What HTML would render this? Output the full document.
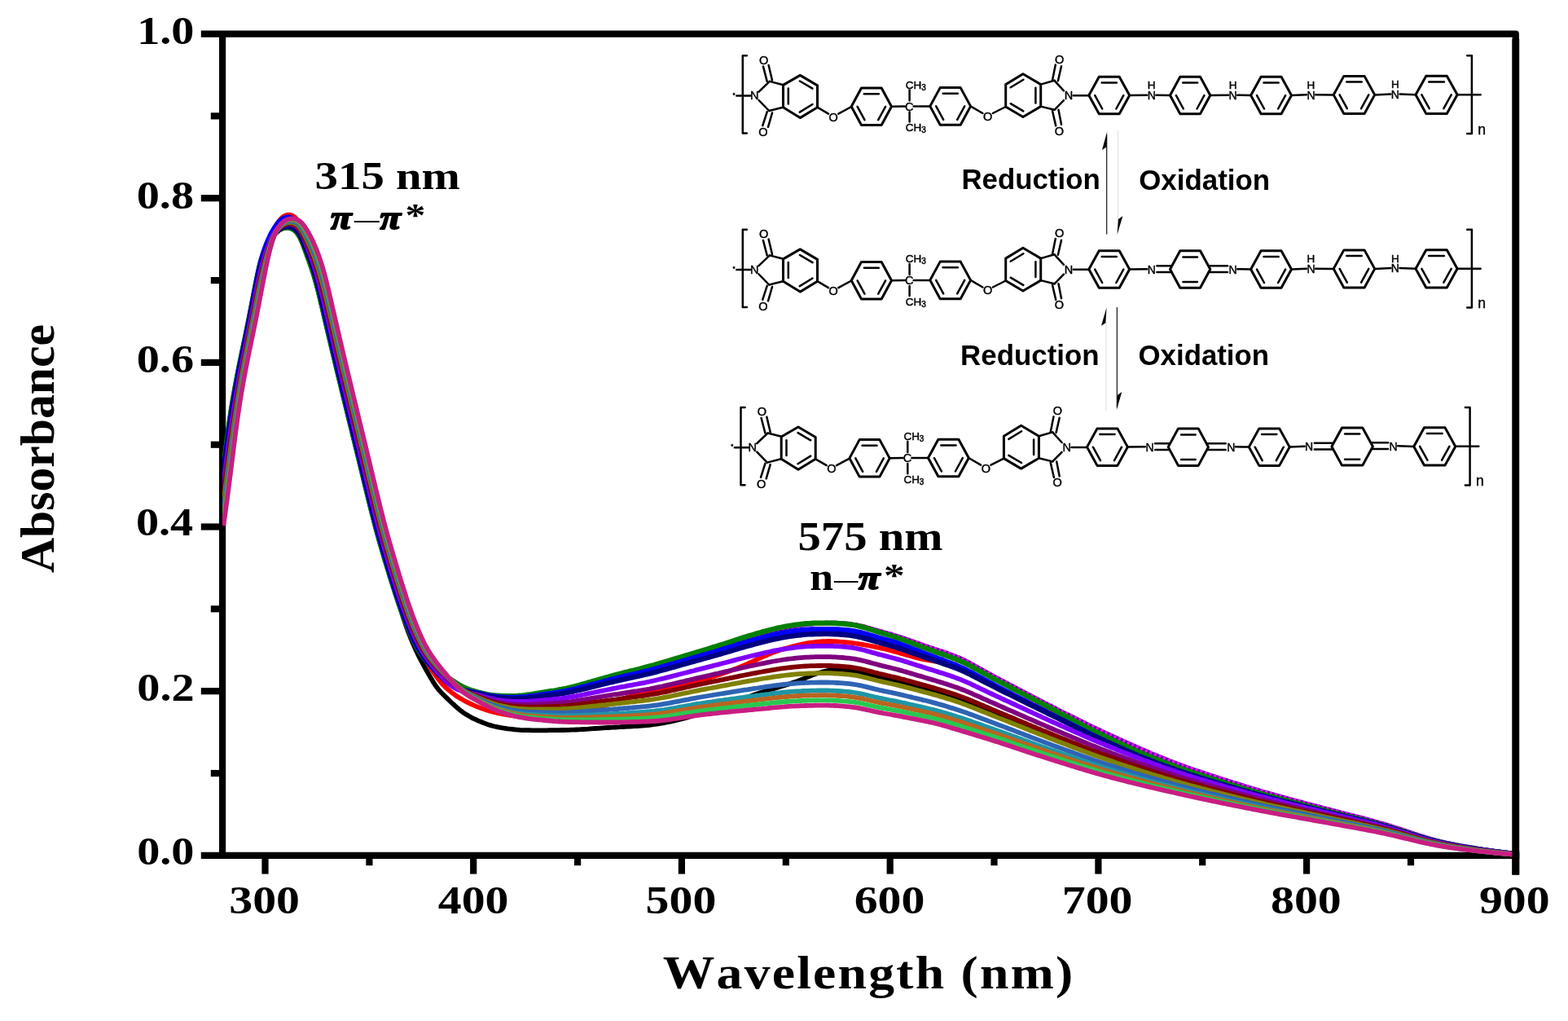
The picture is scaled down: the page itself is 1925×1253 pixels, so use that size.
<!DOCTYPE html>
<html lang="en"><head><meta charset="utf-8"><title>UV-vis absorbance spectra</title>
<style>html,body{margin:0;padding:0;background:#fff;overflow:hidden}svg{display:block}text{white-space:pre;font-kerning:none}</style>
</head><body>
<svg width="1925" height="1253" viewBox="0 0 1925 1253">
<rect width="1925" height="1253" fill="#fff"/>
<g stroke="#000" stroke-width="8.2" fill="none" stroke-linecap="butt" stroke-linejoin="round">
<path d="M273.1 1053.8999999999999 V41.6"/>
<path d="M246.8 41.6 H1860.8 V1049.8" />
<path d="M1860.8 47.6 V1073.6" stroke-width="8.8"/>
<path d="M246.8 1049.8 H1865.2"/>
<path d="M246.8 243.2 H273.1"/>
<path d="M246.8 444.9 H273.1"/>
<path d="M246.8 646.5 H273.1"/>
<path d="M246.8 848.2 H273.1"/>
<path d="M258.8 142.4 H273.1"/>
<path d="M258.8 344.1 H273.1"/>
<path d="M258.8 545.7 H273.1"/>
<path d="M258.8 747.3 H273.1"/>
<path d="M258.8 949.0 H273.1"/>
<path d="M325.5 1049.8 V1072.6"/>
<path d="M581.2 1049.8 V1072.6"/>
<path d="M836.9 1049.8 V1072.6"/>
<path d="M1092.7 1049.8 V1072.6"/>
<path d="M1348.4 1049.8 V1072.6"/>
<path d="M1604.1 1049.8 V1072.6"/>
<path d="M453.4 1049.8 V1062.2"/>
<path d="M709.1 1049.8 V1062.2"/>
<path d="M964.8 1049.8 V1062.2"/>
<path d="M1220.5 1049.8 V1062.2"/>
<path d="M1476.2 1049.8 V1062.2"/>
<path d="M1732.0 1049.8 V1062.2"/>
</g>
<clipPath id="pc"><rect x="273.1" y="30" width="1590" height="1024"/></clipPath>
<g clip-path="url(#pc)" fill="none" stroke-width="5.8" stroke-linejoin="round" stroke-linecap="butt">
<path stroke="#000000" d="M274.3,573.8 275.3,565.7 276.3,557.8 277.3,550.1 278.3,542.5 279.3,535.0 280.3,527.8 281.3,520.8 282.3,513.9 283.3,507.3 284.3,501.0 285.3,494.8 286.3,488.8 287.3,483.1 288.3,477.4 289.3,472.0 290.3,466.6 291.3,461.4 292.3,456.2 293.3,451.2 294.3,446.2 295.3,441.3 296.3,436.4 297.3,431.6 298.3,426.8 299.3,422.0 300.3,417.3 301.3,412.4 302.3,407.6 303.3,402.7 304.3,397.8 305.3,392.8 306.3,387.7 307.3,382.6 308.3,377.5 309.3,372.4 310.3,367.2 311.3,362.1 312.3,357.0 313.3,351.9 314.3,347.0 315.3,342.1 316.3,337.5 317.3,333.0 318.3,328.8 319.3,324.8 320.3,321.2 321.3,317.8 322.3,314.6 323.3,311.7 324.3,309.0 325.3,306.5 326.3,304.2 327.3,302.1 328.3,300.1 329.3,298.2 330.3,296.5 331.3,294.9 332.3,293.4 333.3,292.0 334.3,290.7 335.3,289.4 336.3,288.3 337.3,287.2 338.3,286.2 339.3,285.3 340.3,284.4 341.3,283.6 342.3,282.9 343.3,282.2 344.3,281.6 345.3,281.1 346.3,280.7 347.3,280.3 348.3,280.0 349.3,279.8 350.3,279.7 351.3,279.6 352.3,279.5 353.3,279.5 354.3,279.6 355.3,279.8 356.3,280.0 357.3,280.4 358.3,280.8 359.3,281.3 360.3,281.9 361.3,282.6 362.3,283.5 363.3,284.5 364.3,285.6 365.3,286.9 366.3,288.4 367.3,290.0 368.3,291.8 369.3,293.8 370.3,296.0 371.3,298.4 372.3,300.8 373.3,303.4 374.3,306.0 375.3,308.7 376.3,311.5 377.3,314.2 378.3,317.0 379.3,319.8 380.3,322.6 381.3,325.5 382.3,328.4 383.3,331.4 384.3,334.6 385.3,337.8 386.3,341.2 387.3,344.6 388.3,348.2 389.3,352.0 390.3,355.8 391.3,359.7 392.3,363.8 393.3,367.9 394.3,372.0 395.3,376.2 396.3,380.4 397.3,384.7 398.3,389.0 399.3,393.2 400.3,397.5 401.3,401.8 402.3,406.0 403.3,410.3 404.3,414.5 405.3,418.7 406.3,422.9 407.3,427.1 408.3,431.3 409.3,435.5 410.3,439.7 411.3,443.9 412.3,448.1 413.3,452.2 414.3,456.4 415.3,460.5 416.3,464.6 417.3,468.8 418.3,472.9 419.3,477.0 420.3,481.1 421.3,485.2 422.3,489.3 423.3,493.3 424.3,497.4 425.3,501.5 426.3,505.6 427.3,509.6 428.3,513.7 429.3,517.8 430.3,521.8 431.3,525.9 432.3,529.9 433.3,534.0 434.3,538.1 435.3,542.1 436.3,546.2 437.3,550.3 438.3,554.4 439.3,558.5 440.3,562.6 441.3,566.7 442.3,570.8 443.3,574.9 444.3,579.1 445.3,583.2 446.3,587.3 447.3,591.4 448.3,595.6 449.3,599.7 450.3,603.7 451.3,607.8 452.3,611.9 453.3,615.9 454.3,620.0 455.3,624.0 456.3,627.9 457.3,631.9 458.3,635.8 459.3,639.7 460.3,643.5 461.3,647.3 462.3,651.0 463.3,654.7 464.3,658.3 465.3,661.9 466.3,665.4 467.3,668.9 468.3,672.4 469.3,675.8 470.3,679.2 471.3,682.6 472.3,685.9 473.3,689.3 474.3,692.6 475.3,695.9 476.3,699.2 477.3,702.5 478.3,705.7 479.3,708.9 480.3,712.2 481.3,715.3 482.3,718.5 483.3,721.6 484.3,724.7 485.3,727.8 486.3,730.9 487.3,733.9 488.3,736.9 489.3,740.0 490.3,743.0 491.3,746.1 492.3,749.3 493.3,752.4 494.3,755.5 495.3,758.6 496.3,761.6 497.3,764.6 498.3,767.4 499.3,770.2 500.3,773.0 501.3,775.6 502.3,778.2 503.3,780.8 504.3,783.3 505.3,785.7 506.3,788.1 507.3,790.4 508.3,792.7 509.3,794.9 510.3,797.1 511.3,799.2 512.3,801.3 513.3,803.4 514.3,805.4 515.3,807.4 516.3,809.3 517.3,811.2 518.3,813.1 519.3,815.0 520.3,816.9 521.3,818.7 522.3,820.5 523.3,822.3 524.3,824.0 525.3,825.8 526.3,827.5 527.3,829.2 528.3,831.0 529.3,832.7 530.3,834.3 531.3,836.0 532.3,837.6 533.3,839.2 534.3,840.7 535.3,842.1 536.3,843.5 537.3,844.9 538.3,846.1 539.3,847.3 540.3,848.4 541.3,849.5 542.3,850.5 543.3,851.5 544.3,852.5 545.3,853.5 546.3,854.5 547.3,855.4 548.3,856.4 549.3,857.4 550.3,858.4 551.3,859.3 552.3,860.3 553.3,861.3 554.3,862.2 555.3,863.2 556.3,864.1 557.3,865.0 558.3,865.9 559.3,866.8 560.3,867.7 563.3,870.3 566.3,872.7 569.3,874.8 572.3,876.8 575.3,878.6 578.3,880.3 581.3,881.8 584.3,883.2 587.3,884.6 590.3,885.8 593.3,887.0 596.3,888.1 599.3,889.2 602.3,890.1 605.3,891.0 608.3,891.7 611.3,892.3 614.3,892.9 617.3,893.4 620.3,893.8 623.3,894.3 626.3,894.6 629.3,895.0 632.3,895.3 635.3,895.6 638.3,895.9 641.3,896.1 644.3,896.2 647.3,896.2 650.3,896.2 653.3,896.3 656.3,896.3 659.3,896.3 662.3,896.3 665.3,896.3 668.3,896.3 671.3,896.3 674.3,896.2 677.3,896.2 680.3,896.2 683.3,896.1 686.3,896.1 689.3,896.0 692.3,896.0 695.3,895.9 698.3,895.8 701.3,895.7 704.3,895.6 707.3,895.5 710.3,895.4 713.3,895.2 716.3,895.0 719.3,894.9 722.3,894.7 725.3,894.4 728.3,894.2 731.3,894.0 734.3,893.8 737.3,893.6 740.3,893.4 743.3,893.2 746.3,893.0 749.3,892.8 752.3,892.7 755.3,892.5 758.3,892.3 761.3,892.2 764.3,892.0 767.3,891.9 770.3,891.7 773.3,891.6 776.3,891.4 779.3,891.2 782.3,891.0 785.3,890.8 788.3,890.6 791.3,890.3 794.3,890.1 797.3,889.8 800.3,889.4 803.3,889.0 806.3,888.6 809.3,888.1 812.3,887.6 815.3,887.1 818.3,886.5 821.3,885.9 824.3,885.3 827.3,884.6 830.3,884.0 833.3,883.2 836.3,882.5 839.3,881.7 842.3,880.9 845.3,880.0 848.3,879.1 851.3,878.2 854.3,877.3 857.3,876.4 860.3,875.4 863.3,874.5 866.3,873.5 869.3,872.5 872.3,871.5 875.3,870.5 878.3,869.5 881.3,868.5 884.3,867.5 887.3,866.5 890.3,865.5 893.3,864.4 896.3,863.4 899.3,862.3 902.3,861.2 905.3,860.1 908.3,859.0 911.3,857.9 914.3,856.8 917.3,855.8 920.3,854.7 923.3,853.6 926.3,852.6 929.3,851.6 932.3,850.6 935.3,849.6 938.3,848.7 941.3,847.8 944.3,846.8 947.3,845.9 950.3,845.0 953.3,844.1 956.3,843.2 959.3,842.3 962.3,841.4 965.3,840.5 968.3,839.6 971.3,838.6 974.3,837.6 977.3,836.6 980.3,835.5 983.3,834.3 986.3,833.1 989.3,831.8 992.3,830.5 995.3,829.3 998.3,828.1 1001.3,827.0 1004.3,826.0 1007.3,825.2 1010.3,824.4 1013.3,823.7 1016.3,823.2 1019.3,822.7 1022.3,822.3 1025.3,822.1 1028.3,822.0 1031.3,822.0 1034.3,822.2 1037.3,822.4 1040.3,822.7 1043.3,823.1 1046.3,823.5 1049.3,824.0 1052.3,824.5 1055.3,825.1 1058.3,825.7 1061.3,826.4 1064.3,827.1 1067.3,827.8 1070.3,828.6 1073.3,829.3 1076.3,830.0 1079.3,830.8 1082.3,831.5 1085.3,832.2 1088.3,832.9 1091.3,833.6 1094.3,834.3 1097.3,835.0 1100.3,835.7 1103.3,836.5 1106.3,837.2 1109.3,838.0 1112.3,838.8 1115.3,839.6 1118.3,840.4 1121.3,841.2 1124.3,842.0 1127.3,842.8 1130.3,843.6 1133.3,844.4 1136.3,845.2 1139.3,846.0 1142.3,846.9 1145.3,847.7 1148.3,848.6 1151.3,849.4 1154.3,850.3 1157.3,851.2 1160.3,852.2 1163.3,853.1 1166.3,854.1 1169.3,855.0 1172.3,856.0 1175.3,857.1 1178.3,858.1 1181.3,859.2 1184.3,860.3 1187.3,861.5 1190.3,862.6 1193.3,863.8 1196.3,865.0 1199.3,866.2 1202.3,867.4 1205.3,868.7 1208.3,869.9 1211.3,871.1 1214.3,872.4 1217.3,873.6 1220.3,874.8 1223.3,876.1 1226.3,877.3 1229.3,878.5 1232.3,879.7 1235.3,881.0 1238.3,882.2 1241.3,883.4 1244.3,884.6 1247.3,885.9 1250.3,887.1 1253.3,888.3 1256.3,889.6 1259.3,890.8 1262.3,892.0 1265.3,893.3 1268.3,894.5 1271.3,895.7 1274.3,896.9 1277.3,898.1 1280.3,899.4 1283.3,900.6 1286.3,901.8 1289.3,903.0 1292.3,904.2 1295.3,905.4 1298.3,906.5 1301.3,907.7 1304.3,908.9 1307.3,910.1 1310.3,911.3 1313.3,912.5 1316.3,913.6 1319.3,914.8 1322.3,916.0 1325.3,917.2 1328.3,918.3 1331.3,919.5 1334.3,920.6 1337.3,921.7 1340.3,922.9 1343.3,924.0 1346.3,925.1 1349.3,926.2 1352.3,927.3 1355.3,928.4 1358.3,929.5 1361.3,930.5 1364.3,931.6 1367.3,932.6 1370.3,933.7 1373.3,934.7 1376.3,935.8 1379.3,936.8 1382.3,937.8 1385.3,938.8 1388.3,939.8 1391.3,940.8 1394.3,941.8 1397.3,942.8 1400.3,943.8 1403.3,944.8 1406.3,945.7 1409.3,946.7 1412.3,947.7 1415.3,948.6 1418.3,949.6 1421.3,950.5 1424.3,951.4 1427.3,952.3 1430.3,953.3 1433.3,954.2 1436.3,955.1 1439.3,955.9 1442.3,956.8 1445.3,957.7 1448.3,958.6 1451.3,959.4 1454.3,960.3 1457.3,961.1 1460.3,962.0 1463.3,962.8 1466.3,963.6 1469.3,964.4 1472.3,965.3 1475.3,966.1 1478.3,966.9 1481.3,967.6 1484.3,968.4 1487.3,969.2 1490.3,970.0 1493.3,970.8 1496.3,971.6 1499.3,972.3 1502.3,973.1 1505.3,973.9 1508.3,974.6 1511.3,975.4 1514.3,976.1 1517.3,976.9 1520.3,977.6 1523.3,978.4 1526.3,979.1 1529.3,979.9 1532.3,980.6 1535.3,981.3 1538.3,982.1 1541.3,982.8 1544.3,983.5 1547.3,984.2 1550.3,984.9 1553.3,985.6 1556.3,986.3 1559.3,987.0 1562.3,987.7 1565.3,988.4 1568.3,989.0 1571.3,989.7 1574.3,990.4 1577.3,991.0 1580.3,991.7 1583.3,992.4 1586.3,993.0 1589.3,993.7 1592.3,994.3 1595.3,995.0 1598.3,995.6 1601.3,996.3 1604.3,996.9 1607.3,997.6 1610.3,998.2 1613.3,998.9 1616.3,999.5 1619.3,1000.2 1622.3,1000.8 1625.3,1001.5 1628.3,1002.1 1631.3,1002.8 1634.3,1003.4 1637.3,1004.1 1640.3,1004.7 1643.3,1005.4 1646.3,1006.0 1649.3,1006.7 1652.3,1007.3 1655.3,1007.9 1658.3,1008.6 1661.3,1009.2 1664.3,1009.9 1667.3,1010.6 1670.3,1011.2 1673.3,1011.9 1676.3,1012.6 1679.3,1013.2 1682.3,1013.9 1685.3,1014.6 1688.3,1015.3 1691.3,1016.0 1694.3,1016.8 1697.3,1017.5 1700.3,1018.3 1703.3,1019.0 1706.3,1019.8 1709.3,1020.6 1712.3,1021.4 1715.3,1022.2 1718.3,1023.0 1721.3,1023.8 1724.3,1024.7 1727.3,1025.5 1730.3,1026.3 1733.3,1027.1 1736.3,1027.9 1739.3,1028.8 1742.3,1029.5 1745.3,1030.3 1748.3,1031.1 1751.3,1031.8 1754.3,1032.6 1757.3,1033.3 1760.3,1034.0 1763.3,1034.6 1766.3,1035.3 1769.3,1035.9 1772.3,1036.5 1775.3,1037.1 1778.3,1037.6 1781.3,1038.1 1784.3,1038.7 1787.3,1039.2 1790.3,1039.7 1793.3,1040.1 1796.3,1040.6 1799.3,1041.0 1802.3,1041.5 1805.3,1041.9 1808.3,1042.3 1811.3,1042.7 1814.3,1043.2 1817.3,1043.5 1820.3,1043.9 1823.3,1044.3 1826.3,1044.7 1829.3,1045.0 1832.3,1045.4 1835.3,1045.7 1838.3,1046.1 1841.3,1046.4 1844.3,1046.7 1847.3,1047.0 1850.3,1047.4 1853.3,1047.7 1856.3,1047.9 1859.3,1048.2 1861.0,1048.4"/>
<path stroke="#ff0000" d="M274.3,598.0 275.3,590.2 276.3,582.6 277.3,575.0 278.3,567.5 279.3,560.0 280.3,552.6 281.3,545.4 282.3,538.2 283.3,531.2 284.3,524.3 285.3,517.5 286.3,510.9 287.3,504.4 288.3,498.1 289.3,491.9 290.3,485.9 291.3,479.9 292.3,474.1 293.3,468.5 294.3,463.0 295.3,457.5 296.3,452.2 297.3,447.0 298.3,441.9 299.3,436.8 300.3,431.8 301.3,426.7 302.3,421.7 303.3,416.7 304.3,411.7 305.3,406.6 306.3,401.5 307.3,396.5 308.3,391.3 309.3,386.2 310.3,381.1 311.3,375.9 312.3,370.8 313.3,365.7 314.3,360.6 315.3,355.5 316.3,350.5 317.3,345.7 318.3,340.9 319.3,336.4 320.3,331.9 321.3,327.7 322.3,323.6 323.3,319.7 324.3,315.9 325.3,312.2 326.3,308.7 327.3,305.4 328.3,302.2 329.3,299.1 330.3,296.2 331.3,293.4 332.3,290.7 333.3,288.2 334.3,285.8 335.3,283.6 336.3,281.5 337.3,279.5 338.3,277.6 339.3,275.9 340.3,274.3 341.3,272.8 342.3,271.5 343.3,270.2 344.3,269.1 345.3,268.0 346.3,267.1 347.3,266.3 348.3,265.6 349.3,265.0 350.3,264.5 351.3,264.1 352.3,263.9 353.3,263.7 354.3,263.6 355.3,263.6 356.3,263.8 357.3,264.0 358.3,264.4 359.3,264.9 360.3,265.5 361.3,266.2 362.3,267.1 363.3,268.1 364.3,269.3 365.3,270.6 366.3,272.1 367.3,273.8 368.3,275.6 369.3,277.6 370.3,279.8 371.3,282.1 372.3,284.5 373.3,287.1 374.3,289.7 375.3,292.4 376.3,295.1 377.3,297.9 378.3,300.7 379.3,303.5 380.3,306.4 381.3,309.3 382.3,312.2 383.3,315.2 384.3,318.3 385.3,321.5 386.3,324.8 387.3,328.1 388.3,331.6 389.3,335.1 390.3,338.8 391.3,342.5 392.3,346.3 393.3,350.2 394.3,354.1 395.3,358.1 396.3,362.2 397.3,366.3 398.3,370.4 399.3,374.6 400.3,378.8 401.3,383.1 402.3,387.3 403.3,391.6 404.3,395.8 405.3,400.1 406.3,404.4 407.3,408.7 408.3,413.0 409.3,417.2 410.3,421.5 411.3,425.7 412.3,430.0 413.3,434.2 414.3,438.4 415.3,442.6 416.3,446.8 417.3,451.0 418.3,455.1 419.3,459.3 420.3,463.5 421.3,467.6 422.3,471.7 423.3,475.9 424.3,480.0 425.3,484.1 426.3,488.2 427.3,492.3 428.3,496.4 429.3,500.5 430.3,504.6 431.3,508.7 432.3,512.8 433.3,516.9 434.3,521.0 435.3,525.1 436.3,529.2 437.3,533.3 438.3,537.4 439.3,541.5 440.3,545.6 441.3,549.7 442.3,553.8 443.3,558.0 444.3,562.1 445.3,566.2 446.3,570.3 447.3,574.5 448.3,578.6 449.3,582.7 450.3,586.8 451.3,590.9 452.3,595.0 453.3,599.1 454.3,603.2 455.3,607.3 456.3,611.3 457.3,615.3 458.3,619.3 459.3,623.3 460.3,627.2 461.3,631.2 462.3,635.0 463.3,638.8 464.3,642.6 465.3,646.4 466.3,650.1 467.3,653.8 468.3,657.4 469.3,661.0 470.3,664.5 471.3,668.1 472.3,671.6 473.3,675.1 474.3,678.5 475.3,682.0 476.3,685.4 477.3,688.7 478.3,692.1 479.3,695.4 480.3,698.7 481.3,702.0 482.3,705.2 483.3,708.4 484.3,711.6 485.3,714.8 486.3,718.0 487.3,721.1 488.3,724.2 489.3,727.3 490.3,730.3 491.3,733.3 492.3,736.3 493.3,739.3 494.3,742.2 495.3,745.1 496.3,748.0 497.3,750.9 498.3,753.7 499.3,756.5 500.3,759.3 501.3,762.0 502.3,764.7 503.3,767.3 504.3,770.0 505.3,772.5 506.3,775.1 507.3,777.6 508.3,780.1 509.3,782.5 510.3,784.9 511.3,787.2 512.3,789.4 513.3,791.6 514.3,793.7 515.3,795.8 516.3,797.8 517.3,799.8 518.3,801.8 519.3,803.7 520.3,805.5 521.3,807.4 522.3,809.2 523.3,810.9 524.3,812.7 525.3,814.4 526.3,816.1 527.3,817.7 528.3,819.3 529.3,820.9 530.3,822.4 531.3,823.9 532.3,825.4 533.3,826.8 534.3,828.3 535.3,829.7 536.3,831.0 537.3,832.4 538.3,833.7 539.3,835.0 540.3,836.2 541.3,837.4 542.3,838.6 543.3,839.7 544.3,840.8 545.3,841.8 546.3,842.8 547.3,843.7 548.3,844.7 549.3,845.5 550.3,846.4 551.3,847.3 552.3,848.1 553.3,848.9 554.3,849.7 555.3,850.4 556.3,851.2 557.3,851.9 558.3,852.6 559.3,853.3 560.3,854.0 563.3,856.0 566.3,857.8 569.3,859.5 572.3,861.1 575.3,862.6 578.3,864.0 581.3,865.4 584.3,866.7 587.3,867.9 590.3,869.0 593.3,870.1 596.3,871.1 599.3,872.0 602.3,872.9 605.3,873.7 608.3,874.5 611.3,875.1 614.3,875.7 617.3,876.3 620.3,876.8 623.3,877.3 626.3,877.8 629.3,878.2 632.3,878.7 635.3,879.0 638.3,879.4 641.3,879.6 644.3,879.8 647.3,879.9 650.3,880.0 653.3,880.0 656.3,880.0 659.3,879.9 662.3,879.8 665.3,879.8 668.3,879.7 671.3,879.6 674.3,879.4 677.3,879.3 680.3,879.2 683.3,879.0 686.3,878.8 689.3,878.7 692.3,878.5 695.3,878.3 698.3,878.1 701.3,877.8 704.3,877.4 707.3,877.0 710.3,876.4 713.3,875.8 716.3,875.0 719.3,874.2 722.3,873.4 725.3,872.4 728.3,871.4 731.3,870.3 734.3,869.2 737.3,868.1 740.3,866.9 743.3,865.8 746.3,864.6 749.3,863.4 752.3,862.2 755.3,861.1 758.3,859.9 761.3,858.8 764.3,857.8 767.3,856.8 770.3,855.8 773.3,854.9 776.3,854.1 779.3,853.3 782.3,852.6 785.3,852.0 788.3,851.4 791.3,850.8 794.3,850.2 797.3,849.7 800.3,849.2 803.3,848.7 806.3,848.2 809.3,847.7 812.3,847.2 815.3,846.6 818.3,846.1 821.3,845.5 824.3,844.9 827.3,844.3 830.3,843.6 833.3,842.9 836.3,842.2 839.3,841.5 842.3,840.7 845.3,839.9 848.3,839.0 851.3,838.2 854.3,837.3 857.3,836.4 860.3,835.5 863.3,834.5 866.3,833.6 869.3,832.6 872.3,831.6 875.3,830.6 878.3,829.6 881.3,828.6 884.3,827.5 887.3,826.5 890.3,825.4 893.3,824.4 896.3,823.3 899.3,822.2 902.3,821.0 905.3,819.9 908.3,818.6 911.3,817.4 914.3,816.1 917.3,814.8 920.3,813.4 923.3,812.1 926.3,810.7 929.3,809.3 932.3,807.9 935.3,806.6 938.3,805.3 941.3,804.0 944.3,802.7 947.3,801.5 950.3,800.4 953.3,799.3 956.3,798.3 959.3,797.3 962.3,796.4 965.3,795.5 968.3,794.7 971.3,793.9 974.3,793.1 977.3,792.3 980.3,791.6 983.3,790.9 986.3,790.3 989.3,789.7 992.3,789.2 995.3,788.7 998.3,788.3 1001.3,788.0 1004.3,787.7 1007.3,787.4 1010.3,787.2 1013.3,787.1 1016.3,787.0 1019.3,787.0 1022.3,787.1 1025.3,787.2 1028.3,787.3 1031.3,787.6 1034.3,787.8 1037.3,788.1 1040.3,788.4 1043.3,788.7 1046.3,789.1 1049.3,789.5 1052.3,789.9 1055.3,790.4 1058.3,790.8 1061.3,791.4 1064.3,791.9 1067.3,792.5 1070.3,793.1 1073.3,793.7 1076.3,794.3 1079.3,794.9 1082.3,795.6 1085.3,796.3 1088.3,797.0 1091.3,797.7 1094.3,798.5 1097.3,799.4 1100.3,800.2 1103.3,801.0 1106.3,801.9 1109.3,802.8 1112.3,803.6 1115.3,804.5 1118.3,805.3 1121.3,806.1 1124.3,806.9 1127.3,807.7 1130.3,808.4 1133.3,809.1 1136.3,809.7 1139.3,810.2 1142.3,810.7 1145.3,811.2 1148.3,811.6 1151.3,812.1 1154.3,812.7 1157.3,813.4 1160.3,814.3 1163.3,815.2 1166.3,816.2 1169.3,817.3 1172.3,818.4 1175.3,819.6 1178.3,820.8 1181.3,822.1 1184.3,823.4 1187.3,824.8 1190.3,826.2 1193.3,827.7 1196.3,829.1 1199.3,830.7 1202.3,832.2 1205.3,833.7 1208.3,835.2 1211.3,836.7 1214.3,838.2 1217.3,839.8 1220.3,841.3 1223.3,842.7 1226.3,844.2 1229.3,845.7 1232.3,847.2 1235.3,848.7 1238.3,850.1 1241.3,851.6 1244.3,853.1 1247.3,854.5 1250.3,856.0 1253.3,857.5 1256.3,858.9 1259.3,860.4 1262.3,861.8 1265.3,863.3 1268.3,864.8 1271.3,866.2 1274.3,867.7 1277.3,869.1 1280.3,870.6 1283.3,872.0 1286.3,873.5 1289.3,874.9 1292.3,876.3 1295.3,877.8 1298.3,879.2 1301.3,880.6 1304.3,882.1 1307.3,883.5 1310.3,884.9 1313.3,886.3 1316.3,887.8 1319.3,889.2 1322.3,890.6 1325.3,892.0 1328.3,893.4 1331.3,894.8 1334.3,896.2 1337.3,897.6 1340.3,899.0 1343.3,900.3 1346.3,901.7 1349.3,903.0 1352.3,904.3 1355.3,905.7 1358.3,907.0 1361.3,908.3 1364.3,909.6 1367.3,910.9 1370.3,912.2 1373.3,913.5 1376.3,914.8 1379.3,916.1 1382.3,917.3 1385.3,918.6 1388.3,919.9 1391.3,921.1 1394.3,922.4 1397.3,923.6 1400.3,924.8 1403.3,926.1 1406.3,927.3 1409.3,928.5 1412.3,929.7 1415.3,930.9 1418.3,932.0 1421.3,933.2 1424.3,934.4 1427.3,935.5 1430.3,936.6 1433.3,937.8 1436.3,938.9 1439.3,940.0 1442.3,941.1 1445.3,942.1 1448.3,943.2 1451.3,944.2 1454.3,945.3 1457.3,946.3 1460.3,947.3 1463.3,948.3 1466.3,949.3 1469.3,950.3 1472.3,951.3 1475.3,952.2 1478.3,953.2 1481.3,954.1 1484.3,955.1 1487.3,956.0 1490.3,956.9 1493.3,957.9 1496.3,958.8 1499.3,959.7 1502.3,960.6 1505.3,961.5 1508.3,962.4 1511.3,963.3 1514.3,964.2 1517.3,965.1 1520.3,966.0 1523.3,966.9 1526.3,967.8 1529.3,968.7 1532.3,969.6 1535.3,970.4 1538.3,971.3 1541.3,972.2 1544.3,973.0 1547.3,973.9 1550.3,974.7 1553.3,975.5 1556.3,976.4 1559.3,977.2 1562.3,978.0 1565.3,978.8 1568.3,979.6 1571.3,980.4 1574.3,981.2 1577.3,982.0 1580.3,982.7 1583.3,983.5 1586.3,984.3 1589.3,985.1 1592.3,985.8 1595.3,986.6 1598.3,987.4 1601.3,988.1 1604.3,988.9 1607.3,989.7 1610.3,990.4 1613.3,991.2 1616.3,991.9 1619.3,992.7 1622.3,993.4 1625.3,994.2 1628.3,995.0 1631.3,995.7 1634.3,996.5 1637.3,997.2 1640.3,998.0 1643.3,998.7 1646.3,999.4 1649.3,1000.2 1652.3,1000.9 1655.3,1001.7 1658.3,1002.4 1661.3,1003.2 1664.3,1003.9 1667.3,1004.7 1670.3,1005.4 1673.3,1006.2 1676.3,1007.0 1679.3,1007.7 1682.3,1008.5 1685.3,1009.3 1688.3,1010.1 1691.3,1011.0 1694.3,1011.8 1697.3,1012.6 1700.3,1013.5 1703.3,1014.4 1706.3,1015.3 1709.3,1016.2 1712.3,1017.1 1715.3,1018.0 1718.3,1018.9 1721.3,1019.9 1724.3,1020.8 1727.3,1021.7 1730.3,1022.7 1733.3,1023.6 1736.3,1024.5 1739.3,1025.5 1742.3,1026.4 1745.3,1027.3 1748.3,1028.1 1751.3,1029.0 1754.3,1029.8 1757.3,1030.6 1760.3,1031.4 1763.3,1032.2 1766.3,1032.9 1769.3,1033.6 1772.3,1034.3 1775.3,1035.0 1778.3,1035.6 1781.3,1036.2 1784.3,1036.8 1787.3,1037.4 1790.3,1037.9 1793.3,1038.5 1796.3,1039.0 1799.3,1039.5 1802.3,1040.0 1805.3,1040.5 1808.3,1041.0 1811.3,1041.5 1814.3,1041.9 1817.3,1042.4 1820.3,1042.8 1823.3,1043.3 1826.3,1043.7 1829.3,1044.1 1832.3,1044.5 1835.3,1044.9 1838.3,1045.3 1841.3,1045.7 1844.3,1046.1 1847.3,1046.5 1850.3,1046.8 1853.3,1047.2 1856.3,1047.5 1859.3,1047.8 1861.0,1048.0"/>
<path stroke="#5a00aa" d="M274.3,578.4 275.3,570.5 276.3,562.7 277.3,554.9 278.3,547.2 279.3,539.7 280.3,532.3 281.3,525.1 282.3,518.2 283.3,511.5 284.3,505.1 285.3,498.9 286.3,492.8 287.3,487.0 288.3,481.3 289.3,475.7 290.3,470.2 291.3,464.9 292.3,459.6 293.3,454.5 294.3,449.4 295.3,444.4 296.3,439.5 297.3,434.7 298.3,429.9 299.3,425.1 300.3,420.3 301.3,415.5 302.3,410.7 303.3,405.8 304.3,400.9 305.3,395.8 306.3,390.8 307.3,385.7 308.3,380.5 309.3,375.4 310.3,370.2 311.3,365.1 312.3,359.9 313.3,354.8 314.3,349.7 315.3,344.7 316.3,339.8 317.3,335.2 318.3,330.8 319.3,326.7 320.3,323.0 321.3,319.5 322.3,316.3 323.3,313.3 324.3,310.5 325.3,307.9 326.3,305.4 327.3,303.2 328.3,301.0 329.3,299.0 330.3,297.1 331.3,295.4 332.3,293.8 333.3,292.2 334.3,290.8 335.3,289.4 336.3,288.2 337.3,287.0 338.3,285.9 339.3,284.9 340.3,284.0 341.3,283.1 342.3,282.3 343.3,281.6 344.3,281.0 345.3,280.5 346.3,280.0 347.3,279.6 348.3,279.3 349.3,279.0 350.3,278.8 351.3,278.7 352.3,278.6 353.3,278.6 354.3,278.6 355.3,278.8 356.3,279.0 357.3,279.3 358.3,279.7 359.3,280.1 360.3,280.6 361.3,281.3 362.3,282.0 363.3,282.9 364.3,284.0 365.3,285.2 366.3,286.5 367.3,288.1 368.3,289.9 369.3,291.8 370.3,294.0 371.3,296.3 372.3,298.7 373.3,301.3 374.3,304.0 375.3,306.7 376.3,309.4 377.3,312.1 378.3,314.8 379.3,317.4 380.3,320.1 381.3,322.8 382.3,325.6 383.3,328.5 384.3,331.5 385.3,334.7 386.3,338.0 387.3,341.4 388.3,344.9 389.3,348.6 390.3,352.4 391.3,356.3 392.3,360.2 393.3,364.3 394.3,368.4 395.3,372.6 396.3,376.8 397.3,381.1 398.3,385.3 399.3,389.6 400.3,393.8 401.3,398.0 402.3,402.3 403.3,406.5 404.3,410.7 405.3,415.0 406.3,419.2 407.3,423.4 408.3,427.6 409.3,431.8 410.3,436.0 411.3,440.2 412.3,444.4 413.3,448.6 414.3,452.7 415.3,456.9 416.3,461.0 417.3,465.1 418.3,469.3 419.3,473.4 420.3,477.5 421.3,481.6 422.3,485.7 423.3,489.8 424.3,493.8 425.3,497.9 426.3,502.0 427.3,506.1 428.3,510.1 429.3,514.2 430.3,518.3 431.3,522.4 432.3,526.4 433.3,530.5 434.3,534.5 435.3,538.6 436.3,542.7 437.3,546.8 438.3,550.9 439.3,555.0 440.3,559.1 441.3,563.2 442.3,567.3 443.3,571.4 444.3,575.6 445.3,579.7 446.3,583.8 447.3,588.0 448.3,592.1 449.3,596.2 450.3,600.3 451.3,604.4 452.3,608.5 453.3,612.5 454.3,616.6 455.3,620.6 456.3,624.6 457.3,628.6 458.3,632.5 459.3,636.4 460.3,640.3 461.3,644.1 462.3,647.9 463.3,651.6 464.3,655.3 465.3,658.9 466.3,662.4 467.3,665.9 468.3,669.4 469.3,672.8 470.3,676.2 471.3,679.6 472.3,683.0 473.3,686.4 474.3,689.7 475.3,693.1 476.3,696.4 477.3,699.7 478.3,703.0 479.3,706.2 480.3,709.5 481.3,712.7 482.3,715.9 483.3,719.0 484.3,722.1 485.3,725.2 486.3,728.3 487.3,731.4 488.3,734.4 489.3,737.3 490.3,740.3 491.3,743.2 492.3,746.0 493.3,748.9 494.3,751.6 495.3,754.4 496.3,757.1 497.3,759.7 498.3,762.4 499.3,764.9 500.3,767.5 501.3,770.0 502.3,772.5 503.3,774.9 504.3,777.2 505.3,779.5 506.3,781.8 507.3,783.9 508.3,786.0 509.3,788.0 510.3,789.9 511.3,791.7 512.3,793.5 513.3,795.2 514.3,796.8 515.3,798.4 516.3,800.0 517.3,801.5 518.3,803.0 519.3,804.4 520.3,805.8 521.3,807.1 522.3,808.4 523.3,809.6 524.3,810.8 525.3,811.9 526.3,813.0 527.3,814.1 528.3,815.1 529.3,816.1 530.3,817.0 531.3,817.9 532.3,818.8 533.3,819.6 534.3,820.5 535.3,821.3 536.3,822.1 537.3,822.9 538.3,823.6 539.3,824.4 540.3,825.1 541.3,825.8 542.3,826.5 543.3,827.2 544.3,827.9 545.3,828.6 546.3,829.2 547.3,829.9 548.3,830.5 549.3,831.1 550.3,831.8 551.3,832.4 552.3,833.1 553.3,833.7 554.3,834.4 555.3,835.1 556.3,835.8 557.3,836.5 558.3,837.3 559.3,838.0 560.3,838.6 563.3,840.6 566.3,842.4 569.3,844.0 572.3,845.4 575.3,846.6 578.3,847.8 581.3,848.8 584.3,849.7 587.3,850.6 590.3,851.4 593.3,852.2 596.3,853.0 599.3,853.7 602.3,854.3 605.3,854.8 608.3,855.2 611.3,855.6 614.3,855.9 617.3,856.1 620.3,856.3 623.3,856.5 626.3,856.6 629.3,856.6 632.3,856.5 635.3,856.4 638.3,856.2 641.3,856.0 644.3,855.7 647.3,855.5 650.3,855.1 653.3,854.7 656.3,854.3 659.3,853.8 662.3,853.4 665.3,853.0 668.3,852.5 671.3,852.1 674.3,851.7 677.3,851.3 680.3,850.8 683.3,850.4 686.3,849.9 689.3,849.4 692.3,848.8 695.3,848.3 698.3,847.6 701.3,847.0 704.3,846.2 707.3,845.5 710.3,844.7 713.3,843.9 716.3,843.1 719.3,842.3 722.3,841.4 725.3,840.6 728.3,839.8 731.3,839.0 734.3,838.2 737.3,837.3 740.3,836.5 743.3,835.7 746.3,834.9 749.3,834.1 752.3,833.3 755.3,832.5 758.3,831.7 761.3,830.9 764.3,830.2 767.3,829.4 770.3,828.6 773.3,827.9 776.3,827.1 779.3,826.4 782.3,825.6 785.3,824.9 788.3,824.1 791.3,823.3 794.3,822.5 797.3,821.7 800.3,820.9 803.3,820.0 806.3,819.1 809.3,818.2 812.3,817.3 815.3,816.4 818.3,815.5 821.3,814.5 824.3,813.6 827.3,812.7 830.3,811.7 833.3,810.8 836.3,809.9 839.3,808.9 842.3,808.0 845.3,807.1 848.3,806.1 851.3,805.2 854.3,804.3 857.3,803.3 860.3,802.4 863.3,801.4 866.3,800.5 869.3,799.5 872.3,798.5 875.3,797.6 878.3,796.6 881.3,795.6 884.3,794.6 887.3,793.6 890.3,792.6 893.3,791.6 896.3,790.6 899.3,789.6 902.3,788.5 905.3,787.5 908.3,786.5 911.3,785.5 914.3,784.5 917.3,783.5 920.3,782.5 923.3,781.5 926.3,780.6 929.3,779.7 932.3,778.7 935.3,777.8 938.3,776.9 941.3,776.0 944.3,775.2 947.3,774.3 950.3,773.5 953.3,772.8 956.3,772.0 959.3,771.3 962.3,770.7 965.3,770.0 968.3,769.4 971.3,768.9 974.3,768.3 977.3,767.8 980.3,767.3 983.3,766.9 986.3,766.5 989.3,766.1 992.3,765.8 995.3,765.6 998.3,765.4 1001.3,765.2 1004.3,765.0 1007.3,764.9 1010.3,764.8 1013.3,764.7 1016.3,764.6 1019.3,764.6 1022.3,764.6 1025.3,764.7 1028.3,764.8 1031.3,765.0 1034.3,765.2 1037.3,765.4 1040.3,765.7 1043.3,766.0 1046.3,766.4 1049.3,766.8 1052.3,767.3 1055.3,768.0 1058.3,768.7 1061.3,769.4 1064.3,770.3 1067.3,771.1 1070.3,772.0 1073.3,772.9 1076.3,773.8 1079.3,774.6 1082.3,775.4 1085.3,776.3 1088.3,777.1 1091.3,777.9 1094.3,778.8 1097.3,779.7 1100.3,780.6 1103.3,781.5 1106.3,782.5 1109.3,783.5 1112.3,784.5 1115.3,785.5 1118.3,786.6 1121.3,787.6 1124.3,788.7 1127.3,789.8 1130.3,790.8 1133.3,791.9 1136.3,792.9 1139.3,794.0 1142.3,795.0 1145.3,796.0 1148.3,797.0 1151.3,798.0 1154.3,799.0 1157.3,799.9 1160.3,800.9 1163.3,802.0 1166.3,803.1 1169.3,804.2 1172.3,805.4 1175.3,806.6 1178.3,807.8 1181.3,809.2 1184.3,810.6 1187.3,812.2 1190.3,813.7 1193.3,815.4 1196.3,817.0 1199.3,818.7 1202.3,820.4 1205.3,822.0 1208.3,823.7 1211.3,825.3 1214.3,827.0 1217.3,828.6 1220.3,830.2 1223.3,831.9 1226.3,833.5 1229.3,835.1 1232.3,836.6 1235.3,838.2 1238.3,839.8 1241.3,841.4 1244.3,842.9 1247.3,844.5 1250.3,846.1 1253.3,847.7 1256.3,849.2 1259.3,850.8 1262.3,852.4 1265.3,853.9 1268.3,855.5 1271.3,857.0 1274.3,858.6 1277.3,860.1 1280.3,861.7 1283.3,863.3 1286.3,864.8 1289.3,866.3 1292.3,867.9 1295.3,869.4 1298.3,870.9 1301.3,872.5 1304.3,874.0 1307.3,875.5 1310.3,877.0 1313.3,878.4 1316.3,879.9 1319.3,881.4 1322.3,882.9 1325.3,884.4 1328.3,885.9 1331.3,887.4 1334.3,888.9 1337.3,890.3 1340.3,891.8 1343.3,893.2 1346.3,894.6 1349.3,896.0 1352.3,897.4 1355.3,898.8 1358.3,900.2 1361.3,901.6 1364.3,903.0 1367.3,904.3 1370.3,905.7 1373.3,907.1 1376.3,908.4 1379.3,909.8 1382.3,911.2 1385.3,912.5 1388.3,913.8 1391.3,915.2 1394.3,916.5 1397.3,917.8 1400.3,919.1 1403.3,920.4 1406.3,921.7 1409.3,923.0 1412.3,924.3 1415.3,925.6 1418.3,926.8 1421.3,928.0 1424.3,929.3 1427.3,930.5 1430.3,931.7 1433.3,932.9 1436.3,934.1 1439.3,935.2 1442.3,936.4 1445.3,937.5 1448.3,938.6 1451.3,939.7 1454.3,940.8 1457.3,941.9 1460.3,943.0 1463.3,944.0 1466.3,945.1 1469.3,946.1 1472.3,947.1 1475.3,948.1 1478.3,949.1 1481.3,950.1 1484.3,951.1 1487.3,952.0 1490.3,953.0 1493.3,954.0 1496.3,954.9 1499.3,955.9 1502.3,956.9 1505.3,957.8 1508.3,958.8 1511.3,959.7 1514.3,960.7 1517.3,961.6 1520.3,962.6 1523.3,963.5 1526.3,964.4 1529.3,965.4 1532.3,966.3 1535.3,967.2 1538.3,968.1 1541.3,969.0 1544.3,969.9 1547.3,970.8 1550.3,971.7 1553.3,972.5 1556.3,973.4 1559.3,974.3 1562.3,975.1 1565.3,975.9 1568.3,976.8 1571.3,977.6 1574.3,978.4 1577.3,979.2 1580.3,980.1 1583.3,980.9 1586.3,981.7 1589.3,982.5 1592.3,983.3 1595.3,984.1 1598.3,984.9 1601.3,985.7 1604.3,986.5 1607.3,987.3 1610.3,988.1 1613.3,988.8 1616.3,989.6 1619.3,990.4 1622.3,991.2 1625.3,992.0 1628.3,992.8 1631.3,993.6 1634.3,994.4 1637.3,995.1 1640.3,995.9 1643.3,996.7 1646.3,997.5 1649.3,998.2 1652.3,999.0 1655.3,999.8 1658.3,1000.5 1661.3,1001.3 1664.3,1002.1 1667.3,1002.9 1670.3,1003.6 1673.3,1004.4 1676.3,1005.2 1679.3,1006.0 1682.3,1006.8 1685.3,1007.6 1688.3,1008.5 1691.3,1009.3 1694.3,1010.2 1697.3,1011.0 1700.3,1011.9 1703.3,1012.8 1706.3,1013.8 1709.3,1014.7 1712.3,1015.7 1715.3,1016.6 1718.3,1017.6 1721.3,1018.6 1724.3,1019.6 1727.3,1020.6 1730.3,1021.6 1733.3,1022.6 1736.3,1023.6 1739.3,1024.6 1742.3,1025.6 1745.3,1026.5 1748.3,1027.4 1751.3,1028.3 1754.3,1029.2 1757.3,1030.1 1760.3,1030.9 1763.3,1031.7 1766.3,1032.4 1769.3,1033.1 1772.3,1033.8 1775.3,1034.5 1778.3,1035.2 1781.3,1035.8 1784.3,1036.4 1787.3,1037.0 1790.3,1037.5 1793.3,1038.1 1796.3,1038.6 1799.3,1039.2 1802.3,1039.7 1805.3,1040.2 1808.3,1040.7 1811.3,1041.2 1814.3,1041.7 1817.3,1042.1 1820.3,1042.6 1823.3,1043.0 1826.3,1043.5 1829.3,1043.9 1832.3,1044.3 1835.3,1044.8 1838.3,1045.2 1841.3,1045.6 1844.3,1046.0 1847.3,1046.3 1850.3,1046.7 1853.3,1047.1 1856.3,1047.4 1859.3,1047.8 1861.0,1048.0"/>
<path stroke="#ff00ff" stroke-dasharray="3 3" d="M274.3,578.4 275.3,570.5 276.3,562.7 277.3,554.9 278.3,547.2 279.3,539.7 280.3,532.3 281.3,525.1 282.3,518.2 283.3,511.5 284.3,505.1 285.3,498.9 286.3,492.8 287.3,487.0 288.3,481.3 289.3,475.7 290.3,470.2 291.3,464.9 292.3,459.6 293.3,454.5 294.3,449.4 295.3,444.4 296.3,439.5 297.3,434.7 298.3,429.9 299.3,425.1 300.3,420.3 301.3,415.5 302.3,410.7 303.3,405.8 304.3,400.9 305.3,395.8 306.3,390.8 307.3,385.7 308.3,380.5 309.3,375.4 310.3,370.2 311.3,365.1 312.3,359.9 313.3,354.8 314.3,349.7 315.3,344.7 316.3,339.8 317.3,335.2 318.3,330.8 319.3,326.7 320.3,323.0 321.3,319.5 322.3,316.3 323.3,313.3 324.3,310.5 325.3,307.9 326.3,305.4 327.3,303.2 328.3,301.0 329.3,299.0 330.3,297.1 331.3,295.4 332.3,293.8 333.3,292.2 334.3,290.8 335.3,289.4 336.3,288.2 337.3,287.0 338.3,285.9 339.3,284.9 340.3,284.0 341.3,283.1 342.3,282.3 343.3,281.6 344.3,281.0 345.3,280.5 346.3,280.0 347.3,279.6 348.3,279.3 349.3,279.0 350.3,278.8 351.3,278.7 352.3,278.6 353.3,278.6 354.3,278.6 355.3,278.8 356.3,279.0 357.3,279.3 358.3,279.7 359.3,280.1 360.3,280.6 361.3,281.3 362.3,282.0 363.3,282.9 364.3,284.0 365.3,285.2 366.3,286.5 367.3,288.1 368.3,289.9 369.3,291.8 370.3,294.0 371.3,296.3 372.3,298.7 373.3,301.3 374.3,304.0 375.3,306.7 376.3,309.4 377.3,312.1 378.3,314.8 379.3,317.4 380.3,320.1 381.3,322.8 382.3,325.6 383.3,328.5 384.3,331.5 385.3,334.7 386.3,338.0 387.3,341.4 388.3,344.9 389.3,348.6 390.3,352.4 391.3,356.3 392.3,360.2 393.3,364.3 394.3,368.4 395.3,372.6 396.3,376.8 397.3,381.1 398.3,385.3 399.3,389.6 400.3,393.8 401.3,398.0 402.3,402.3 403.3,406.5 404.3,410.7 405.3,415.0 406.3,419.2 407.3,423.4 408.3,427.6 409.3,431.8 410.3,436.0 411.3,440.2 412.3,444.4 413.3,448.6 414.3,452.7 415.3,456.9 416.3,461.0 417.3,465.1 418.3,469.3 419.3,473.4 420.3,477.5 421.3,481.6 422.3,485.7 423.3,489.8 424.3,493.8 425.3,497.9 426.3,502.0 427.3,506.1 428.3,510.1 429.3,514.2 430.3,518.3 431.3,522.4 432.3,526.4 433.3,530.5 434.3,534.5 435.3,538.6 436.3,542.7 437.3,546.8 438.3,550.9 439.3,555.0 440.3,559.1 441.3,563.2 442.3,567.3 443.3,571.4 444.3,575.6 445.3,579.7 446.3,583.8 447.3,588.0 448.3,592.1 449.3,596.2 450.3,600.3 451.3,604.4 452.3,608.5 453.3,612.5 454.3,616.6 455.3,620.6 456.3,624.6 457.3,628.6 458.3,632.5 459.3,636.4 460.3,640.3 461.3,644.1 462.3,647.9 463.3,651.6 464.3,655.3 465.3,658.9 466.3,662.4 467.3,665.9 468.3,669.4 469.3,672.8 470.3,676.2 471.3,679.6 472.3,683.0 473.3,686.4 474.3,689.7 475.3,693.1 476.3,696.4 477.3,699.7 478.3,703.0 479.3,706.2 480.3,709.5 481.3,712.7 482.3,715.9 483.3,719.0 484.3,722.1 485.3,725.2 486.3,728.3 487.3,731.4 488.3,734.4 489.3,737.3 490.3,740.3 491.3,743.2 492.3,746.0 493.3,748.9 494.3,751.6 495.3,754.4 496.3,757.1 497.3,759.7 498.3,762.4 499.3,764.9 500.3,767.5 501.3,770.0 502.3,772.5 503.3,774.9 504.3,777.2 505.3,779.5 506.3,781.8 507.3,783.9 508.3,786.0 509.3,788.0 510.3,789.9 511.3,791.7 512.3,793.5 513.3,795.2 514.3,796.8 515.3,798.4 516.3,800.0 517.3,801.5 518.3,803.0 519.3,804.4 520.3,805.8 521.3,807.1 522.3,808.4 523.3,809.6 524.3,810.8 525.3,811.9 526.3,813.0 527.3,814.1 528.3,815.1 529.3,816.1 530.3,817.0 531.3,817.9 532.3,818.8 533.3,819.6 534.3,820.5 535.3,821.3 536.3,822.1 537.3,822.9 538.3,823.6 539.3,824.4 540.3,825.1 541.3,825.8 542.3,826.5 543.3,827.2 544.3,827.9 545.3,828.6 546.3,829.2 547.3,829.9 548.3,830.5 549.3,831.1 550.3,831.8 551.3,832.4 552.3,833.1 553.3,833.7 554.3,834.4 555.3,835.1 556.3,835.8 557.3,836.5 558.3,837.3 559.3,838.0 560.3,838.6 563.3,840.6 566.3,842.4 569.3,844.0 572.3,845.4 575.3,846.6 578.3,847.8 581.3,848.8 584.3,849.7 587.3,850.6 590.3,851.4 593.3,852.2 596.3,853.0 599.3,853.7 602.3,854.3 605.3,854.8 608.3,855.2 611.3,855.6 614.3,855.9 617.3,856.1 620.3,856.3 623.3,856.5 626.3,856.6 629.3,856.6 632.3,856.5 635.3,856.4 638.3,856.2 641.3,856.0 644.3,855.7 647.3,855.5 650.3,855.1 653.3,854.7 656.3,854.3 659.3,853.8 662.3,853.4 665.3,853.0 668.3,852.5 671.3,852.1 674.3,851.7 677.3,851.3 680.3,850.8 683.3,850.4 686.3,849.9 689.3,849.4 692.3,848.8 695.3,848.3 698.3,847.6 701.3,847.0 704.3,846.2 707.3,845.5 710.3,844.7 713.3,843.9 716.3,843.1 719.3,842.3 722.3,841.4 725.3,840.6 728.3,839.8 731.3,839.0 734.3,838.2 737.3,837.3 740.3,836.5 743.3,835.7 746.3,834.9 749.3,834.1 752.3,833.3 755.3,832.5 758.3,831.7 761.3,830.9 764.3,830.2 767.3,829.4 770.3,828.6 773.3,827.9 776.3,827.1 779.3,826.4 782.3,825.6 785.3,824.9 788.3,824.1 791.3,823.3 794.3,822.5 797.3,821.7 800.3,820.9 803.3,820.0 806.3,819.1 809.3,818.2 812.3,817.3 815.3,816.4 818.3,815.5 821.3,814.5 824.3,813.6 827.3,812.7 830.3,811.7 833.3,810.8 836.3,809.9 839.3,808.9 842.3,808.0 845.3,807.1 848.3,806.1 851.3,805.2 854.3,804.3 857.3,803.3 860.3,802.4 863.3,801.4 866.3,800.5 869.3,799.5 872.3,798.5 875.3,797.6 878.3,796.6 881.3,795.6 884.3,794.6 887.3,793.6 890.3,792.6 893.3,791.6 896.3,790.6 899.3,789.6 902.3,788.5 905.3,787.5 908.3,786.5 911.3,785.5 914.3,784.5 917.3,783.5 920.3,782.5 923.3,781.5 926.3,780.6 929.3,779.7 932.3,778.7 935.3,777.8 938.3,776.9 941.3,776.0 944.3,775.2 947.3,774.3 950.3,773.5 953.3,772.8 956.3,772.0 959.3,771.3 962.3,770.7 965.3,770.0 968.3,769.4 971.3,768.9 974.3,768.3 977.3,767.8 980.3,767.3 983.3,766.9 986.3,766.5 989.3,766.1 992.3,765.8 995.3,765.6 998.3,765.4 1001.3,765.2 1004.3,765.0 1007.3,764.9 1010.3,764.8 1013.3,764.7 1016.3,764.6 1019.3,764.6 1022.3,764.6 1025.3,764.7 1028.3,764.8 1031.3,765.0 1034.3,765.2 1037.3,765.4 1040.3,765.7 1043.3,766.0 1046.3,766.4 1049.3,766.8 1052.3,767.3 1055.3,768.0 1058.3,768.7 1061.3,769.4 1064.3,770.3 1067.3,771.1 1070.3,772.0 1073.3,772.9 1076.3,773.8 1079.3,774.6 1082.3,775.4 1085.3,776.3 1088.3,777.1 1091.3,777.9 1094.3,778.8 1097.3,779.7 1100.3,780.6 1103.3,781.5 1106.3,782.5 1109.3,783.5 1112.3,784.5 1115.3,785.5 1118.3,786.6 1121.3,787.6 1124.3,788.7 1127.3,789.8 1130.3,790.8 1133.3,791.9 1136.3,792.9 1139.3,794.0 1142.3,795.0 1145.3,796.0 1148.3,797.0 1151.3,798.0 1154.3,799.0 1157.3,799.9 1160.3,800.9 1163.3,802.0 1166.3,803.1 1169.3,804.2 1172.3,805.4 1175.3,806.6 1178.3,807.8 1181.3,809.2 1184.3,810.6 1187.3,812.2 1190.3,813.7 1193.3,815.4 1196.3,817.0 1199.3,818.7 1202.3,820.4 1205.3,822.0 1208.3,823.7 1211.3,825.3 1214.3,827.0 1217.3,828.6 1220.3,830.2 1223.3,831.9 1226.3,833.5 1229.3,835.1 1232.3,836.6 1235.3,838.2 1238.3,839.8 1241.3,841.4 1244.3,842.9 1247.3,844.5 1250.3,846.1 1253.3,847.7 1256.3,849.2 1259.3,850.8 1262.3,852.4 1265.3,853.9 1268.3,855.5 1271.3,857.0 1274.3,858.6 1277.3,860.1 1280.3,861.7 1283.3,863.3 1286.3,864.8 1289.3,866.3 1292.3,867.9 1295.3,869.4 1298.3,870.9 1301.3,872.5 1304.3,874.0 1307.3,875.5 1310.3,877.0 1313.3,878.4 1316.3,879.9 1319.3,881.4 1322.3,882.9 1325.3,884.4 1328.3,885.9 1331.3,887.4 1334.3,888.9 1337.3,890.3 1340.3,891.8 1343.3,893.2 1346.3,894.6 1349.3,896.0 1352.3,897.4 1355.3,898.8 1358.3,900.2 1361.3,901.6 1364.3,903.0 1367.3,904.3 1370.3,905.7 1373.3,907.1 1376.3,908.4 1379.3,909.8 1382.3,911.2 1385.3,912.5 1388.3,913.8 1391.3,915.2 1394.3,916.5 1397.3,917.8 1400.3,919.1 1403.3,920.4 1406.3,921.7 1409.3,923.0 1412.3,924.3 1415.3,925.6 1418.3,926.8 1421.3,928.0 1424.3,929.3 1427.3,930.5 1430.3,931.7 1433.3,932.9 1436.3,934.1 1439.3,935.2 1442.3,936.4 1445.3,937.5 1448.3,938.6 1451.3,939.7 1454.3,940.8 1457.3,941.9 1460.3,943.0 1463.3,944.0 1466.3,945.1 1469.3,946.1 1472.3,947.1 1475.3,948.1 1478.3,949.1 1481.3,950.1 1484.3,951.1 1487.3,952.0 1490.3,953.0 1493.3,954.0 1496.3,954.9 1499.3,955.9 1502.3,956.9 1505.3,957.8 1508.3,958.8 1511.3,959.7 1514.3,960.7 1517.3,961.6 1520.3,962.6 1523.3,963.5 1526.3,964.4 1529.3,965.4 1532.3,966.3 1535.3,967.2 1538.3,968.1 1541.3,969.0 1544.3,969.9 1547.3,970.8 1550.3,971.7 1553.3,972.5 1556.3,973.4 1559.3,974.3 1562.3,975.1 1565.3,975.9 1568.3,976.8 1571.3,977.6 1574.3,978.4 1577.3,979.2 1580.3,980.1 1583.3,980.9 1586.3,981.7 1589.3,982.5 1592.3,983.3 1595.3,984.1 1598.3,984.9 1601.3,985.7 1604.3,986.5 1607.3,987.3 1610.3,988.1 1613.3,988.8 1616.3,989.6 1619.3,990.4 1622.3,991.2 1625.3,992.0 1628.3,992.8 1631.3,993.6 1634.3,994.4 1637.3,995.1 1640.3,995.9 1643.3,996.7 1646.3,997.5 1649.3,998.2 1652.3,999.0 1655.3,999.8 1658.3,1000.5 1661.3,1001.3 1664.3,1002.1 1667.3,1002.9 1670.3,1003.6 1673.3,1004.4 1676.3,1005.2 1679.3,1006.0 1682.3,1006.8 1685.3,1007.6 1688.3,1008.5 1691.3,1009.3 1694.3,1010.2 1697.3,1011.0 1700.3,1011.9 1703.3,1012.8 1706.3,1013.8 1709.3,1014.7 1712.3,1015.7 1715.3,1016.6 1718.3,1017.6 1721.3,1018.6 1724.3,1019.6 1727.3,1020.6 1730.3,1021.6 1733.3,1022.6 1736.3,1023.6 1739.3,1024.6 1742.3,1025.6 1745.3,1026.5 1748.3,1027.4 1751.3,1028.3 1754.3,1029.2 1757.3,1030.1 1760.3,1030.9 1763.3,1031.7 1766.3,1032.4 1769.3,1033.1 1772.3,1033.8 1775.3,1034.5 1778.3,1035.2 1781.3,1035.8 1784.3,1036.4 1787.3,1037.0 1790.3,1037.5 1793.3,1038.1 1796.3,1038.6 1799.3,1039.2 1802.3,1039.7 1805.3,1040.2 1808.3,1040.7 1811.3,1041.2 1814.3,1041.7 1817.3,1042.1 1820.3,1042.6 1823.3,1043.0 1826.3,1043.5 1829.3,1043.9 1832.3,1044.3 1835.3,1044.8 1838.3,1045.2 1841.3,1045.6 1844.3,1046.0 1847.3,1046.3 1850.3,1046.7 1853.3,1047.1 1856.3,1047.4 1859.3,1047.8 1861.0,1048.0"/>
<path stroke="#008000" stroke-width="6.4" d="M274.3,573.3 275.3,565.4 276.3,557.5 277.3,549.7 278.3,542.0 279.3,534.5 280.3,527.1 281.3,520.0 282.3,513.1 283.3,506.5 284.3,500.2 285.3,494.1 286.3,488.2 287.3,482.5 288.3,477.0 289.3,471.6 290.3,466.3 291.3,461.1 292.3,456.0 293.3,450.9 294.3,446.0 295.3,441.1 296.3,436.3 297.3,431.5 298.3,426.8 299.3,422.1 300.3,417.3 301.3,412.6 302.3,407.8 303.3,402.9 304.3,398.0 305.3,392.9 306.3,387.9 307.3,382.7 308.3,377.6 309.3,372.4 310.3,367.2 311.3,362.0 312.3,356.9 313.3,351.7 314.3,346.6 315.3,341.6 316.3,336.8 317.3,332.2 318.3,327.8 319.3,323.9 320.3,320.2 321.3,316.9 322.3,313.8 323.3,311.0 324.3,308.4 325.3,306.0 326.3,303.7 327.3,301.6 328.3,299.6 329.3,297.8 330.3,296.1 331.3,294.6 332.3,293.1 333.3,291.7 334.3,290.4 335.3,289.2 336.3,288.0 337.3,287.0 338.3,286.0 339.3,285.0 340.3,284.2 341.3,283.4 342.3,282.6 343.3,282.0 344.3,281.4 345.3,280.9 346.3,280.5 347.3,280.1 348.3,279.9 349.3,279.6 350.3,279.4 351.3,279.3 352.3,279.3 353.3,279.3 354.3,279.4 355.3,279.5 356.3,279.8 357.3,280.1 358.3,280.5 359.3,281.0 360.3,281.6 361.3,282.2 362.3,283.0 363.3,284.0 364.3,285.1 365.3,286.3 366.3,287.8 367.3,289.4 368.3,291.2 369.3,293.3 370.3,295.5 371.3,297.9 372.3,300.5 373.3,303.1 374.3,305.9 375.3,308.7 376.3,311.5 377.3,314.3 378.3,317.0 379.3,319.7 380.3,322.5 381.3,325.2 382.3,328.1 383.3,331.1 384.3,334.2 385.3,337.4 386.3,340.7 387.3,344.2 388.3,347.9 389.3,351.6 390.3,355.5 391.3,359.5 392.3,363.5 393.3,367.7 394.3,371.9 395.3,376.1 396.3,380.4 397.3,384.7 398.3,389.0 399.3,393.3 400.3,397.6 401.3,401.8 402.3,406.1 403.3,410.3 404.3,414.5 405.3,418.7 406.3,423.0 407.3,427.2 408.3,431.4 409.3,435.6 410.3,439.8 411.3,443.9 412.3,448.1 413.3,452.3 414.3,456.4 415.3,460.5 416.3,464.7 417.3,468.8 418.3,472.9 419.3,477.0 420.3,481.1 421.3,485.2 422.3,489.3 423.3,493.4 424.3,497.4 425.3,501.5 426.3,505.6 427.3,509.6 428.3,513.7 429.3,517.8 430.3,521.8 431.3,525.9 432.3,529.9 433.3,534.0 434.3,538.1 435.3,542.1 436.3,546.2 437.3,550.3 438.3,554.4 439.3,558.5 440.3,562.6 441.3,566.7 442.3,570.8 443.3,574.9 444.3,579.1 445.3,583.2 446.3,587.3 447.3,591.5 448.3,595.6 449.3,599.7 450.3,603.8 451.3,607.9 452.3,612.0 453.3,616.0 454.3,620.0 455.3,624.0 456.3,628.0 457.3,632.0 458.3,635.9 459.3,639.8 460.3,643.6 461.3,647.4 462.3,651.2 463.3,654.9 464.3,658.5 465.3,662.1 466.3,665.6 467.3,669.0 468.3,672.4 469.3,675.8 470.3,679.2 471.3,682.6 472.3,686.0 473.3,689.3 474.3,692.6 475.3,695.9 476.3,699.2 477.3,702.5 478.3,705.8 479.3,709.0 480.3,712.2 481.3,715.4 482.3,718.6 483.3,721.7 484.3,724.8 485.3,727.9 486.3,731.0 487.3,734.0 488.3,737.0 489.3,739.9 490.3,742.8 491.3,745.7 492.3,748.5 493.3,751.3 494.3,754.1 495.3,756.8 496.3,759.5 497.3,762.1 498.3,764.7 499.3,767.2 500.3,769.7 501.3,772.2 502.3,774.6 503.3,777.0 504.3,779.4 505.3,781.6 506.3,783.8 507.3,785.9 508.3,788.0 509.3,789.9 510.3,791.8 511.3,793.6 512.3,795.3 513.3,797.0 514.3,798.6 515.3,800.1 516.3,801.6 517.3,803.1 518.3,804.5 519.3,805.8 520.3,807.2 521.3,808.4 522.3,809.7 523.3,810.9 524.3,812.0 525.3,813.1 526.3,814.2 527.3,815.2 528.3,816.1 529.3,817.1 530.3,818.0 531.3,818.8 532.3,819.7 533.3,820.5 534.3,821.3 535.3,822.1 536.3,822.8 537.3,823.5 538.3,824.3 539.3,825.0 540.3,825.6 541.3,826.3 542.3,827.0 543.3,827.6 544.3,828.3 545.3,828.9 546.3,829.5 547.3,830.1 548.3,830.7 549.3,831.3 550.3,831.9 551.3,832.5 552.3,833.1 553.3,833.7 554.3,834.3 555.3,835.0 556.3,835.7 557.3,836.3 558.3,837.0 559.3,837.7 560.3,838.3 563.3,840.2 566.3,841.9 569.3,843.4 572.3,844.7 575.3,845.9 578.3,847.0 581.3,847.9 584.3,848.8 587.3,849.6 590.3,850.3 593.3,851.0 596.3,851.7 599.3,852.3 602.3,852.8 605.3,853.2 608.3,853.5 611.3,853.7 614.3,853.9 617.3,854.1 620.3,854.2 623.3,854.3 626.3,854.3 629.3,854.2 632.3,854.1 635.3,853.9 638.3,853.6 641.3,853.4 644.3,853.1 647.3,852.7 650.3,852.3 653.3,851.9 656.3,851.4 659.3,850.9 662.3,850.4 665.3,849.9 668.3,849.5 671.3,849.0 674.3,848.5 677.3,848.0 680.3,847.6 683.3,847.1 686.3,846.5 689.3,846.0 692.3,845.4 695.3,844.8 698.3,844.1 701.3,843.4 704.3,842.7 707.3,841.9 710.3,841.1 713.3,840.2 716.3,839.4 719.3,838.5 722.3,837.6 725.3,836.8 728.3,835.9 731.3,835.1 734.3,834.2 737.3,833.4 740.3,832.5 743.3,831.7 746.3,830.9 749.3,830.0 752.3,829.2 755.3,828.4 758.3,827.6 761.3,826.8 764.3,826.0 767.3,825.2 770.3,824.5 773.3,823.7 776.3,823.0 779.3,822.3 782.3,821.5 785.3,820.8 788.3,820.0 791.3,819.2 794.3,818.4 797.3,817.6 800.3,816.8 803.3,816.0 806.3,815.1 809.3,814.2 812.3,813.4 815.3,812.5 818.3,811.6 821.3,810.7 824.3,809.8 827.3,808.9 830.3,808.0 833.3,807.1 836.3,806.2 839.3,805.3 842.3,804.4 845.3,803.5 848.3,802.6 851.3,801.7 854.3,800.8 857.3,799.9 860.3,799.0 863.3,798.1 866.3,797.2 869.3,796.3 872.3,795.4 875.3,794.4 878.3,793.5 881.3,792.6 884.3,791.6 887.3,790.7 890.3,789.7 893.3,788.7 896.3,787.7 899.3,786.8 902.3,785.8 905.3,784.8 908.3,783.8 911.3,782.9 914.3,781.9 917.3,781.0 920.3,780.1 923.3,779.2 926.3,778.3 929.3,777.4 932.3,776.6 935.3,775.7 938.3,774.9 941.3,774.1 944.3,773.3 947.3,772.5 950.3,771.8 953.3,771.0 956.3,770.4 959.3,769.8 962.3,769.2 965.3,768.6 968.3,768.1 971.3,767.6 974.3,767.1 977.3,766.7 980.3,766.3 983.3,765.9 986.3,765.6 989.3,765.3 992.3,765.1 995.3,765.0 998.3,764.8 1001.3,764.7 1004.3,764.7 1007.3,764.6 1010.3,764.6 1013.3,764.6 1016.3,764.6 1019.3,764.6 1022.3,764.7 1025.3,764.8 1028.3,765.0 1031.3,765.2 1034.3,765.4 1037.3,765.7 1040.3,766.0 1043.3,766.3 1046.3,766.8 1049.3,767.2 1052.3,767.9 1055.3,768.6 1058.3,769.4 1061.3,770.2 1064.3,771.1 1067.3,772.1 1070.3,773.0 1073.3,774.0 1076.3,775.0 1079.3,775.9 1082.3,776.8 1085.3,777.7 1088.3,778.6 1091.3,779.5 1094.3,780.5 1097.3,781.4 1100.3,782.4 1103.3,783.4 1106.3,784.4 1109.3,785.5 1112.3,786.6 1115.3,787.7 1118.3,788.8 1121.3,790.0 1124.3,791.1 1127.3,792.2 1130.3,793.4 1133.3,794.5 1136.3,795.6 1139.3,796.7 1142.3,797.8 1145.3,798.8 1148.3,799.9 1151.3,800.9 1154.3,802.0 1157.3,803.1 1160.3,804.1 1163.3,805.2 1166.3,806.3 1169.3,807.4 1172.3,808.5 1175.3,809.7 1178.3,811.0 1181.3,812.3 1184.3,813.7 1187.3,815.2 1190.3,816.8 1193.3,818.4 1196.3,820.1 1199.3,821.7 1202.3,823.3 1205.3,825.0 1208.3,826.6 1211.3,828.2 1214.3,829.8 1217.3,831.5 1220.3,833.1 1223.3,834.7 1226.3,836.2 1229.3,837.8 1232.3,839.4 1235.3,840.9 1238.3,842.5 1241.3,844.1 1244.3,845.6 1247.3,847.2 1250.3,848.7 1253.3,850.3 1256.3,851.8 1259.3,853.4 1262.3,854.9 1265.3,856.4 1268.3,858.0 1271.3,859.5 1274.3,861.1 1277.3,862.6 1280.3,864.1 1283.3,865.7 1286.3,867.2 1289.3,868.7 1292.3,870.3 1295.3,871.9 1298.3,873.5 1301.3,875.2 1304.3,876.8 1307.3,878.4 1310.3,879.9 1313.3,881.5 1316.3,883.1 1319.3,884.7 1322.3,886.3 1325.3,887.9 1328.3,889.5 1331.3,891.0 1334.3,892.6 1337.3,894.1 1340.3,895.6 1343.3,897.1 1346.3,898.6 1349.3,900.1 1352.3,901.5 1355.3,903.0 1358.3,904.5 1361.3,905.9 1364.3,907.3 1367.3,908.8 1370.3,910.2 1373.3,911.6 1376.3,913.0 1379.3,914.4 1382.3,915.8 1385.3,917.2 1388.3,918.6 1391.3,920.0 1394.3,921.3 1397.3,922.7 1400.3,924.0 1403.3,925.2 1406.3,926.5 1409.3,927.7 1412.3,928.9 1415.3,930.2 1418.3,931.4 1421.3,932.5 1424.3,933.7 1427.3,934.9 1430.3,936.1 1433.3,937.2 1436.3,938.3 1439.3,939.5 1442.3,940.6 1445.3,941.7 1448.3,942.7 1451.3,943.8 1454.3,944.9 1457.3,945.9 1460.3,946.9 1463.3,947.9 1466.3,948.9 1469.3,949.9 1472.3,950.9 1475.3,951.9 1478.3,952.9 1481.3,953.8 1484.3,954.8 1487.3,955.7 1490.3,956.6 1493.3,957.6 1496.3,958.5 1499.3,959.4 1502.3,960.3 1505.3,961.3 1508.3,962.2 1511.3,963.1 1514.3,964.0 1517.3,964.9 1520.3,965.8 1523.3,966.8 1526.3,967.7 1529.3,968.6 1532.3,969.4 1535.3,970.3 1538.3,971.2 1541.3,972.1 1544.3,972.9 1547.3,973.8 1550.3,974.6 1553.3,975.5 1556.3,976.3 1559.3,977.1 1562.3,977.9 1565.3,978.8 1568.3,979.6 1571.3,980.4 1574.3,981.2 1577.3,981.9 1580.3,982.7 1583.3,983.5 1586.3,984.3 1589.3,985.1 1592.3,985.8 1595.3,986.6 1598.3,987.4 1601.3,988.1 1604.3,988.9 1607.3,989.7 1610.3,990.4 1613.3,991.2 1616.3,992.0 1619.3,992.7 1622.3,993.5 1625.3,994.3 1628.3,995.0 1631.3,995.8 1634.3,996.5 1637.3,997.3 1640.3,998.0 1643.3,998.8 1646.3,999.5 1649.3,1000.3 1652.3,1001.0 1655.3,1001.8 1658.3,1002.5 1661.3,1003.2 1664.3,1004.0 1667.3,1004.7 1670.3,1005.5 1673.3,1006.2 1676.3,1007.0 1679.3,1007.8 1682.3,1008.6 1685.3,1009.3 1688.3,1010.1 1691.3,1011.0 1694.3,1011.8 1697.3,1012.6 1700.3,1013.5 1703.3,1014.3 1706.3,1015.2 1709.3,1016.1 1712.3,1017.0 1715.3,1018.0 1718.3,1018.9 1721.3,1019.9 1724.3,1020.8 1727.3,1021.8 1730.3,1022.7 1733.3,1023.7 1736.3,1024.6 1739.3,1025.6 1742.3,1026.5 1745.3,1027.4 1748.3,1028.3 1751.3,1029.2 1754.3,1030.0 1757.3,1030.8 1760.3,1031.6 1763.3,1032.4 1766.3,1033.1 1769.3,1033.8 1772.3,1034.5 1775.3,1035.1 1778.3,1035.7 1781.3,1036.3 1784.3,1036.9 1787.3,1037.5 1790.3,1038.0 1793.3,1038.5 1796.3,1039.1 1799.3,1039.6 1802.3,1040.1 1805.3,1040.6 1808.3,1041.0 1811.3,1041.5 1814.3,1042.0 1817.3,1042.4 1820.3,1042.9 1823.3,1043.3 1826.3,1043.7 1829.3,1044.1 1832.3,1044.6 1835.3,1045.0 1838.3,1045.3 1841.3,1045.7 1844.3,1046.1 1847.3,1046.5 1850.3,1046.8 1853.3,1047.2 1856.3,1047.5 1859.3,1047.9 1861.0,1048.1"/>
<path stroke="#0000ff" stroke-width="6.4" d="M274.3,578.6 275.3,570.8 276.3,563.0 277.3,555.2 278.3,547.5 279.3,540.0 280.3,532.6 281.3,525.4 282.3,518.5 283.3,511.8 284.3,505.3 285.3,499.1 286.3,493.1 287.3,487.2 288.3,481.5 289.3,475.9 290.3,470.4 291.3,465.1 292.3,459.8 293.3,454.6 294.3,449.5 295.3,444.5 296.3,439.6 297.3,434.8 298.3,429.9 299.3,425.2 300.3,420.4 301.3,415.5 302.3,410.7 303.3,405.7 304.3,400.7 305.3,395.7 306.3,390.6 307.3,385.4 308.3,380.2 309.3,375.0 310.3,369.7 311.3,364.5 312.3,359.2 313.3,354.0 314.3,348.8 315.3,343.6 316.3,338.6 317.3,333.8 318.3,329.2 319.3,325.0 320.3,321.0 321.3,317.3 322.3,313.8 323.3,310.6 324.3,307.5 325.3,304.6 326.3,301.8 327.3,299.2 328.3,296.7 329.3,294.4 330.3,292.2 331.3,290.0 332.3,288.0 333.3,286.1 334.3,284.2 335.3,282.5 336.3,280.9 337.3,279.3 338.3,277.8 339.3,276.4 340.3,275.1 341.3,273.8 342.3,272.7 343.3,271.6 344.3,270.7 345.3,269.9 346.3,269.1 347.3,268.5 348.3,267.9 349.3,267.5 350.3,267.1 351.3,266.8 352.3,266.6 353.3,266.6 354.3,266.6 355.3,266.7 356.3,267.0 357.3,267.4 358.3,267.9 359.3,268.5 360.3,269.2 361.3,270.0 362.3,271.0 363.3,272.2 364.3,273.5 365.3,275.0 366.3,276.7 367.3,278.6 368.3,280.7 369.3,283.1 370.3,285.6 371.3,288.3 372.3,291.1 373.3,294.1 374.3,297.2 375.3,300.3 376.3,303.4 377.3,306.4 378.3,309.4 379.3,312.4 380.3,315.5 381.3,318.5 382.3,321.6 383.3,324.8 384.3,328.2 385.3,331.6 386.3,335.1 387.3,338.8 388.3,342.5 389.3,346.4 390.3,350.4 391.3,354.5 392.3,358.6 393.3,362.8 394.3,367.1 395.3,371.4 396.3,375.7 397.3,380.0 398.3,384.4 399.3,388.7 400.3,393.0 401.3,397.4 402.3,401.6 403.3,405.9 404.3,410.2 405.3,414.5 406.3,418.7 407.3,423.0 408.3,427.2 409.3,431.5 410.3,435.7 411.3,439.9 412.3,444.1 413.3,448.3 414.3,452.4 415.3,456.6 416.3,460.8 417.3,464.9 418.3,469.0 419.3,473.1 420.3,477.2 421.3,481.4 422.3,485.5 423.3,489.5 424.3,493.6 425.3,497.7 426.3,501.8 427.3,505.9 428.3,509.9 429.3,514.0 430.3,518.1 431.3,522.1 432.3,526.2 433.3,530.3 434.3,534.3 435.3,538.4 436.3,542.5 437.3,546.6 438.3,550.7 439.3,554.8 440.3,558.9 441.3,563.0 442.3,567.1 443.3,571.2 444.3,575.4 445.3,579.5 446.3,583.6 447.3,587.8 448.3,591.9 449.3,596.0 450.3,600.1 451.3,604.2 452.3,608.3 453.3,612.3 454.3,616.4 455.3,620.4 456.3,624.4 457.3,628.4 458.3,632.3 459.3,636.2 460.3,640.1 461.3,643.9 462.3,647.7 463.3,651.4 464.3,655.1 465.3,658.7 466.3,662.2 467.3,665.7 468.3,669.2 469.3,672.6 470.3,676.1 471.3,679.5 472.3,682.8 473.3,686.2 474.3,689.6 475.3,692.9 476.3,696.2 477.3,699.5 478.3,702.8 479.3,706.1 480.3,709.3 481.3,712.5 482.3,715.7 483.3,718.9 484.3,722.0 485.3,725.1 486.3,728.2 487.3,731.2 488.3,734.2 489.3,737.2 490.3,740.1 491.3,743.0 492.3,745.9 493.3,748.7 494.3,751.5 495.3,754.2 496.3,756.9 497.3,759.6 498.3,762.2 499.3,764.8 500.3,767.4 501.3,769.9 502.3,772.4 503.3,774.8 504.3,777.2 505.3,779.5 506.3,781.7 507.3,783.9 508.3,786.0 509.3,788.0 510.3,789.9 511.3,791.8 512.3,793.6 513.3,795.3 514.3,797.0 515.3,798.6 516.3,800.2 517.3,801.8 518.3,803.3 519.3,804.7 520.3,806.2 521.3,807.6 522.3,809.0 523.3,810.3 524.3,811.6 525.3,812.8 526.3,814.1 527.3,815.3 528.3,816.4 529.3,817.6 530.3,818.7 531.3,819.8 532.3,820.9 533.3,822.0 534.3,823.0 535.3,824.1 536.3,825.1 537.3,826.2 538.3,827.2 539.3,828.2 540.3,829.2 541.3,830.1 542.3,831.1 543.3,832.0 544.3,832.9 545.3,833.8 546.3,834.6 547.3,835.4 548.3,836.2 549.3,837.0 550.3,837.7 551.3,838.4 552.3,839.1 553.3,839.7 554.3,840.4 555.3,841.0 556.3,841.6 557.3,842.2 558.3,842.8 559.3,843.4 560.3,843.9 563.3,845.2 566.3,846.2 569.3,847.0 572.3,847.6 575.3,848.2 578.3,848.8 581.3,849.4 584.3,850.1 587.3,850.7 590.3,851.4 593.3,852.1 596.3,852.8 599.3,853.4 602.3,854.0 605.3,854.4 608.3,854.8 611.3,855.1 614.3,855.4 617.3,855.6 620.3,855.8 623.3,855.9 626.3,856.0 629.3,856.0 632.3,855.9 635.3,855.8 638.3,855.6 641.3,855.4 644.3,855.1 647.3,854.9 650.3,854.5 653.3,854.1 656.3,853.7 659.3,853.3 662.3,852.8 665.3,852.4 668.3,852.0 671.3,851.6 674.3,851.2 677.3,850.8 680.3,850.3 683.3,849.9 686.3,849.4 689.3,848.9 692.3,848.4 695.3,847.8 698.3,847.2 701.3,846.6 704.3,845.9 707.3,845.2 710.3,844.4 713.3,843.6 716.3,842.8 719.3,842.0 722.3,841.2 725.3,840.4 728.3,839.6 731.3,838.9 734.3,838.1 737.3,837.3 740.3,836.5 743.3,835.7 746.3,835.0 749.3,834.2 752.3,833.4 755.3,832.7 758.3,831.9 761.3,831.2 764.3,830.5 767.3,829.7 770.3,829.0 773.3,828.3 776.3,827.7 779.3,827.0 782.3,826.3 785.3,825.6 788.3,824.9 791.3,824.1 794.3,823.4 797.3,822.6 800.3,821.9 803.3,821.1 806.3,820.3 809.3,819.4 812.3,818.6 815.3,817.7 818.3,816.9 821.3,816.0 824.3,815.2 827.3,814.3 830.3,813.4 833.3,812.6 836.3,811.7 839.3,810.9 842.3,810.0 845.3,809.1 848.3,808.3 851.3,807.4 854.3,806.5 857.3,805.7 860.3,804.8 863.3,803.9 866.3,803.1 869.3,802.2 872.3,801.3 875.3,800.5 878.3,799.6 881.3,798.7 884.3,797.8 887.3,796.9 890.3,795.9 893.3,795.0 896.3,794.1 899.3,793.2 902.3,792.2 905.3,791.3 908.3,790.4 911.3,789.5 914.3,788.6 917.3,787.7 920.3,786.8 923.3,786.0 926.3,785.1 929.3,784.3 932.3,783.5 935.3,782.7 938.3,781.9 941.3,781.1 944.3,780.4 947.3,779.6 950.3,778.9 953.3,778.2 956.3,777.6 959.3,777.0 962.3,776.4 965.3,775.9 968.3,775.4 971.3,775.0 974.3,774.5 977.3,774.1 980.3,773.7 983.3,773.3 986.3,773.0 989.3,772.8 992.3,772.6 995.3,772.4 998.3,772.3 1001.3,772.2 1004.3,772.1 1007.3,772.1 1010.3,772.1 1013.3,772.1 1016.3,772.1 1019.3,772.1 1022.3,772.2 1025.3,772.3 1028.3,772.5 1031.3,772.7 1034.3,772.9 1037.3,773.2 1040.3,773.5 1043.3,773.8 1046.3,774.2 1049.3,774.7 1052.3,775.3 1055.3,775.9 1058.3,776.7 1061.3,777.5 1064.3,778.3 1067.3,779.2 1070.3,780.1 1073.3,781.0 1076.3,781.9 1079.3,782.8 1082.3,783.6 1085.3,784.5 1088.3,785.3 1091.3,786.2 1094.3,787.0 1097.3,787.9 1100.3,788.8 1103.3,789.9 1106.3,791.0 1109.3,792.1 1112.3,793.2 1115.3,794.3 1118.3,795.5 1121.3,796.6 1124.3,797.8 1127.3,799.0 1130.3,800.1 1133.3,801.3 1136.3,802.4 1139.3,803.5 1142.3,804.6 1145.3,805.7 1148.3,806.8 1151.3,807.9 1154.3,809.0 1157.3,810.1 1160.3,811.3 1163.3,812.4 1166.3,813.5 1169.3,814.7 1172.3,815.8 1175.3,817.1 1178.3,818.4 1181.3,819.7 1184.3,821.2 1187.3,822.7 1190.3,824.3 1193.3,825.9 1196.3,827.5 1199.3,829.1 1202.3,830.8 1205.3,832.4 1208.3,834.0 1211.3,835.6 1214.3,837.3 1217.3,838.9 1220.3,840.5 1223.3,842.1 1226.3,843.6 1229.3,845.2 1232.3,846.8 1235.3,848.3 1238.3,849.9 1241.3,851.4 1244.3,853.0 1247.3,854.5 1250.3,856.1 1253.3,857.6 1256.3,859.2 1259.3,860.7 1262.3,862.2 1265.3,863.8 1268.3,865.3 1271.3,866.9 1274.3,868.4 1277.3,869.9 1280.3,871.4 1283.3,872.9 1286.3,874.5 1289.3,876.0 1292.3,877.5 1295.3,879.0 1298.3,880.5 1301.3,882.0 1304.3,883.5 1307.3,885.1 1310.3,886.6 1313.3,888.1 1316.3,889.7 1319.3,891.2 1322.3,892.7 1325.3,894.2 1328.3,895.7 1331.3,897.2 1334.3,898.7 1337.3,900.2 1340.3,901.7 1343.3,903.1 1346.3,904.5 1349.3,906.0 1352.3,907.4 1355.3,908.8 1358.3,910.2 1361.3,911.6 1364.3,912.9 1367.3,914.3 1370.3,915.7 1373.3,917.0 1376.3,918.4 1379.3,919.7 1382.3,921.0 1385.3,922.4 1388.3,923.7 1391.3,925.0 1394.3,926.3 1397.3,927.6 1400.3,928.8 1403.3,930.0 1406.3,931.2 1409.3,932.3 1412.3,933.5 1415.3,934.6 1418.3,935.8 1421.3,936.9 1424.3,938.0 1427.3,939.1 1430.3,940.2 1433.3,941.3 1436.3,942.3 1439.3,943.4 1442.3,944.4 1445.3,945.5 1448.3,946.5 1451.3,947.5 1454.3,948.5 1457.3,949.5 1460.3,950.5 1463.3,951.4 1466.3,952.4 1469.3,953.3 1472.3,954.3 1475.3,955.2 1478.3,956.1 1481.3,957.0 1484.3,957.9 1487.3,958.8 1490.3,959.7 1493.3,960.6 1496.3,961.5 1499.3,962.4 1502.3,963.2 1505.3,964.1 1508.3,965.0 1511.3,965.9 1514.3,966.7 1517.3,967.6 1520.3,968.5 1523.3,969.4 1526.3,970.2 1529.3,971.1 1532.3,971.9 1535.3,972.8 1538.3,973.6 1541.3,974.4 1544.3,975.3 1547.3,976.1 1550.3,976.9 1553.3,977.7 1556.3,978.5 1559.3,979.3 1562.3,980.1 1565.3,980.8 1568.3,981.6 1571.3,982.4 1574.3,983.1 1577.3,983.9 1580.3,984.6 1583.3,985.4 1586.3,986.1 1589.3,986.9 1592.3,987.6 1595.3,988.4 1598.3,989.1 1601.3,989.8 1604.3,990.6 1607.3,991.3 1610.3,992.1 1613.3,992.8 1616.3,993.5 1619.3,994.3 1622.3,995.0 1625.3,995.7 1628.3,996.5 1631.3,997.2 1634.3,997.9 1637.3,998.7 1640.3,999.4 1643.3,1000.1 1646.3,1000.8 1649.3,1001.5 1652.3,1002.3 1655.3,1003.0 1658.3,1003.7 1661.3,1004.4 1664.3,1005.1 1667.3,1005.9 1670.3,1006.6 1673.3,1007.3 1676.3,1008.1 1679.3,1008.8 1682.3,1009.6 1685.3,1010.3 1688.3,1011.1 1691.3,1011.9 1694.3,1012.7 1697.3,1013.5 1700.3,1014.4 1703.3,1015.2 1706.3,1016.1 1709.3,1017.0 1712.3,1017.9 1715.3,1018.8 1718.3,1019.7 1721.3,1020.7 1724.3,1021.6 1727.3,1022.5 1730.3,1023.5 1733.3,1024.4 1736.3,1025.3 1739.3,1026.3 1742.3,1027.2 1745.3,1028.1 1748.3,1028.9 1751.3,1029.8 1754.3,1030.6 1757.3,1031.4 1760.3,1032.2 1763.3,1032.9 1766.3,1033.6 1769.3,1034.3 1772.3,1034.9 1775.3,1035.6 1778.3,1036.2 1781.3,1036.8 1784.3,1037.3 1787.3,1037.9 1790.3,1038.4 1793.3,1038.9 1796.3,1039.4 1799.3,1039.9 1802.3,1040.4 1805.3,1040.9 1808.3,1041.4 1811.3,1041.8 1814.3,1042.3 1817.3,1042.7 1820.3,1043.1 1823.3,1043.6 1826.3,1044.0 1829.3,1044.4 1832.3,1044.8 1835.3,1045.2 1838.3,1045.5 1841.3,1045.9 1844.3,1046.3 1847.3,1046.6 1850.3,1047.0 1853.3,1047.3 1856.3,1047.7 1859.3,1048.0 1861.0,1048.2"/>
<path stroke="#000080" stroke-width="6.4" d="M274.3,582.8 275.3,575.0 276.3,567.2 277.3,559.5 278.3,551.8 279.3,544.3 280.3,536.9 281.3,529.7 282.3,522.7 283.3,515.9 284.3,509.4 285.3,503.0 286.3,496.9 287.3,490.9 288.3,485.0 289.3,479.3 290.3,473.7 291.3,468.3 292.3,462.9 293.3,457.6 294.3,452.4 295.3,447.4 296.3,442.4 297.3,437.5 298.3,432.6 299.3,427.8 300.3,423.0 301.3,418.2 302.3,413.3 303.3,408.4 304.3,403.4 305.3,398.4 306.3,393.4 307.3,388.3 308.3,383.1 309.3,378.0 310.3,372.9 311.3,367.8 312.3,362.6 313.3,357.5 314.3,352.4 315.3,347.4 316.3,342.5 317.3,337.9 318.3,333.4 319.3,329.3 320.3,325.4 321.3,321.8 322.3,318.5 323.3,315.3 324.3,312.4 325.3,309.6 326.3,307.0 327.3,304.5 328.3,302.2 329.3,300.1 330.3,298.0 331.3,296.1 332.3,294.4 333.3,292.7 334.3,291.1 335.3,289.7 336.3,288.3 337.3,287.1 338.3,285.9 339.3,284.8 340.3,283.8 341.3,282.9 342.3,282.1 343.3,281.3 344.3,280.7 345.3,280.1 346.3,279.6 347.3,279.2 348.3,278.8 349.3,278.5 350.3,278.3 351.3,278.1 352.3,278.0 353.3,278.0 354.3,278.0 355.3,278.1 356.3,278.3 357.3,278.6 358.3,278.9 359.3,279.3 360.3,279.8 361.3,280.4 362.3,281.1 363.3,282.0 364.3,283.0 365.3,284.1 366.3,285.5 367.3,287.0 368.3,288.7 369.3,290.5 370.3,292.6 371.3,294.8 372.3,297.2 373.3,299.7 374.3,302.3 375.3,304.9 376.3,307.6 377.3,310.2 378.3,312.8 379.3,315.4 380.3,318.0 381.3,320.6 382.3,323.4 383.3,326.2 384.3,329.2 385.3,332.3 386.3,335.5 387.3,338.8 388.3,342.3 389.3,345.9 390.3,349.6 391.3,353.4 392.3,357.3 393.3,361.3 394.3,365.4 395.3,369.5 396.3,373.6 397.3,377.8 398.3,382.0 399.3,386.3 400.3,390.5 401.3,394.7 402.3,398.9 403.3,403.2 404.3,407.4 405.3,411.6 406.3,415.8 407.3,420.1 408.3,424.3 409.3,428.5 410.3,432.7 411.3,436.9 412.3,441.1 413.3,445.3 414.3,449.5 415.3,453.6 416.3,457.8 417.3,461.9 418.3,466.0 419.3,470.1 420.3,474.3 421.3,478.4 422.3,482.5 423.3,486.6 424.3,490.7 425.3,494.8 426.3,498.8 427.3,502.9 428.3,507.0 429.3,511.1 430.3,515.2 431.3,519.2 432.3,523.3 433.3,527.4 434.3,531.4 435.3,535.5 436.3,539.6 437.3,543.7 438.3,547.8 439.3,551.9 440.3,556.0 441.3,560.1 442.3,564.2 443.3,568.3 444.3,572.5 445.3,576.6 446.3,580.7 447.3,584.9 448.3,589.0 449.3,593.1 450.3,597.2 451.3,601.3 452.3,605.4 453.3,609.5 454.3,613.5 455.3,617.6 456.3,621.6 457.3,625.5 458.3,629.5 459.3,633.4 460.3,637.3 461.3,641.2 462.3,645.0 463.3,648.7 464.3,652.4 465.3,656.0 466.3,659.6 467.3,663.1 468.3,666.6 469.3,670.1 470.3,673.6 471.3,677.0 472.3,680.4 473.3,683.8 474.3,687.2 475.3,690.5 476.3,693.9 477.3,697.2 478.3,700.5 479.3,703.8 480.3,707.0 481.3,710.2 482.3,713.4 483.3,716.6 484.3,719.8 485.3,722.9 486.3,726.0 487.3,729.0 488.3,732.1 489.3,735.1 490.3,738.0 491.3,740.9 492.3,743.8 493.3,746.7 494.3,749.5 495.3,752.3 496.3,755.0 497.3,757.7 498.3,760.3 499.3,762.9 500.3,765.5 501.3,768.1 502.3,770.6 503.3,773.0 504.3,775.4 505.3,777.8 506.3,780.0 507.3,782.2 508.3,784.4 509.3,786.4 510.3,788.4 511.3,790.3 512.3,792.1 513.3,793.9 514.3,795.6 515.3,797.3 516.3,799.0 517.3,800.6 518.3,802.1 519.3,803.6 520.3,805.1 521.3,806.6 522.3,808.0 523.3,809.4 524.3,810.7 525.3,812.0 526.3,813.3 527.3,814.5 528.3,815.7 529.3,816.9 530.3,818.1 531.3,819.3 532.3,820.4 533.3,821.5 534.3,822.6 535.3,823.7 536.3,824.8 537.3,825.9 538.3,827.0 539.3,828.1 540.3,829.1 541.3,830.1 542.3,831.1 543.3,832.1 544.3,833.1 545.3,834.0 546.3,834.9 547.3,835.7 548.3,836.6 549.3,837.4 550.3,838.1 551.3,838.9 552.3,839.6 553.3,840.3 554.3,841.0 555.3,841.6 556.3,842.3 557.3,842.9 558.3,843.4 559.3,844.0 560.3,844.5 563.3,845.8 566.3,846.8 569.3,847.6 572.3,848.3 575.3,848.9 578.3,849.4 581.3,850.1 584.3,850.7 587.3,851.4 590.3,852.1 593.3,852.9 596.3,853.6 599.3,854.3 602.3,854.9 605.3,855.4 608.3,855.8 611.3,856.2 614.3,856.5 617.3,856.8 620.3,857.0 623.3,857.2 626.3,857.3 629.3,857.4 632.3,857.4 635.3,857.3 638.3,857.1 641.3,857.0 644.3,856.8 647.3,856.5 650.3,856.3 653.3,855.9 656.3,855.5 659.3,855.1 662.3,854.8 665.3,854.4 668.3,854.0 671.3,853.6 674.3,853.3 677.3,852.9 680.3,852.5 683.3,852.1 686.3,851.7 689.3,851.2 692.3,850.8 695.3,850.2 698.3,849.7 701.3,849.1 704.3,848.4 707.3,847.7 710.3,847.0 713.3,846.3 716.3,845.6 719.3,844.8 722.3,844.1 725.3,843.3 728.3,842.6 731.3,841.8 734.3,841.1 737.3,840.4 740.3,839.7 743.3,838.9 746.3,838.2 749.3,837.5 752.3,836.8 755.3,836.0 758.3,835.3 761.3,834.6 764.3,834.0 767.3,833.3 770.3,832.6 773.3,832.0 776.3,831.3 779.3,830.7 782.3,830.0 785.3,829.4 788.3,828.7 791.3,828.0 794.3,827.3 797.3,826.6 800.3,825.8 803.3,825.1 806.3,824.3 809.3,823.5 812.3,822.7 815.3,821.9 818.3,821.1 821.3,820.2 824.3,819.4 827.3,818.6 830.3,817.7 833.3,816.9 836.3,816.0 839.3,815.2 842.3,814.4 845.3,813.5 848.3,812.7 851.3,811.9 854.3,811.0 857.3,810.2 860.3,809.4 863.3,808.5 866.3,807.7 869.3,806.8 872.3,806.0 875.3,805.2 878.3,804.3 881.3,803.5 884.3,802.6 887.3,801.7 890.3,800.8 893.3,800.0 896.3,799.1 899.3,798.2 902.3,797.3 905.3,796.4 908.3,795.5 911.3,794.6 914.3,793.8 917.3,792.9 920.3,792.1 923.3,791.3 926.3,790.5 929.3,789.7 932.3,788.9 935.3,788.1 938.3,787.4 941.3,786.6 944.3,785.9 947.3,785.2 950.3,784.5 953.3,783.9 956.3,783.3 959.3,782.7 962.3,782.1 965.3,781.6 968.3,781.2 971.3,780.7 974.3,780.3 977.3,779.9 980.3,779.5 983.3,779.2 986.3,778.9 989.3,778.6 992.3,778.4 995.3,778.3 998.3,778.2 1001.3,778.1 1004.3,778.0 1007.3,778.0 1010.3,777.9 1013.3,777.9 1016.3,777.9 1019.3,778.0 1022.3,778.1 1025.3,778.2 1028.3,778.3 1031.3,778.5 1034.3,778.8 1037.3,779.0 1040.3,779.3 1043.3,779.7 1046.3,780.1 1049.3,780.6 1052.3,781.1 1055.3,781.8 1058.3,782.5 1061.3,783.3 1064.3,784.1 1067.3,785.0 1070.3,785.9 1073.3,786.8 1076.3,787.7 1079.3,788.5 1082.3,789.4 1085.3,790.2 1088.3,791.0 1091.3,791.8 1094.3,792.7 1097.3,793.5 1100.3,794.4 1103.3,795.4 1106.3,796.4 1109.3,797.4 1112.3,798.4 1115.3,799.4 1118.3,800.5 1121.3,801.6 1124.3,802.6 1127.3,803.7 1130.3,804.8 1133.3,805.8 1136.3,806.9 1139.3,807.9 1142.3,808.9 1145.3,810.0 1148.3,811.0 1151.3,812.0 1154.3,813.0 1157.3,814.1 1160.3,815.1 1163.3,816.1 1166.3,817.2 1169.3,818.3 1172.3,819.4 1175.3,820.6 1178.3,821.8 1181.3,823.1 1184.3,824.4 1187.3,825.9 1190.3,827.3 1193.3,828.9 1196.3,830.4 1199.3,832.0 1202.3,833.5 1205.3,835.1 1208.3,836.6 1211.3,838.2 1214.3,839.7 1217.3,841.2 1220.3,842.7 1223.3,844.3 1226.3,845.8 1229.3,847.3 1232.3,848.8 1235.3,850.3 1238.3,851.7 1241.3,853.2 1244.3,854.7 1247.3,856.2 1250.3,857.7 1253.3,859.1 1256.3,860.6 1259.3,862.1 1262.3,863.6 1265.3,865.1 1268.3,866.5 1271.3,868.0 1274.3,869.5 1277.3,870.9 1280.3,872.4 1283.3,873.9 1286.3,875.3 1289.3,876.8 1292.3,878.2 1295.3,879.7 1298.3,881.1 1301.3,882.6 1304.3,884.1 1307.3,885.6 1310.3,887.1 1313.3,888.7 1316.3,890.2 1319.3,891.7 1322.3,893.2 1325.3,894.7 1328.3,896.2 1331.3,897.6 1334.3,899.1 1337.3,900.6 1340.3,902.0 1343.3,903.4 1346.3,904.8 1349.3,906.2 1352.3,907.6 1355.3,909.0 1358.3,910.4 1361.3,911.8 1364.3,913.1 1367.3,914.5 1370.3,915.8 1373.3,917.2 1376.3,918.5 1379.3,919.8 1382.3,921.1 1385.3,922.4 1388.3,923.7 1391.3,925.0 1394.3,926.3 1397.3,927.6 1400.3,928.8 1403.3,930.0 1406.3,931.2 1409.3,932.3 1412.3,933.5 1415.3,934.6 1418.3,935.8 1421.3,936.9 1424.3,938.0 1427.3,939.1 1430.3,940.2 1433.3,941.3 1436.3,942.3 1439.3,943.4 1442.3,944.4 1445.3,945.5 1448.3,946.5 1451.3,947.5 1454.3,948.5 1457.3,949.5 1460.3,950.5 1463.3,951.4 1466.3,952.4 1469.3,953.3 1472.3,954.3 1475.3,955.2 1478.3,956.1 1481.3,957.0 1484.3,957.9 1487.3,958.8 1490.3,959.7 1493.3,960.6 1496.3,961.5 1499.3,962.4 1502.3,963.2 1505.3,964.1 1508.3,965.0 1511.3,965.9 1514.3,966.7 1517.3,967.6 1520.3,968.5 1523.3,969.4 1526.3,970.2 1529.3,971.1 1532.3,971.9 1535.3,972.8 1538.3,973.6 1541.3,974.4 1544.3,975.3 1547.3,976.1 1550.3,976.9 1553.3,977.7 1556.3,978.5 1559.3,979.3 1562.3,980.1 1565.3,980.8 1568.3,981.6 1571.3,982.4 1574.3,983.1 1577.3,983.9 1580.3,984.6 1583.3,985.4 1586.3,986.1 1589.3,986.9 1592.3,987.6 1595.3,988.4 1598.3,989.1 1601.3,989.8 1604.3,990.6 1607.3,991.3 1610.3,992.1 1613.3,992.8 1616.3,993.5 1619.3,994.3 1622.3,995.0 1625.3,995.7 1628.3,996.5 1631.3,997.2 1634.3,997.9 1637.3,998.7 1640.3,999.4 1643.3,1000.1 1646.3,1000.8 1649.3,1001.5 1652.3,1002.3 1655.3,1003.0 1658.3,1003.7 1661.3,1004.4 1664.3,1005.1 1667.3,1005.9 1670.3,1006.6 1673.3,1007.3 1676.3,1008.1 1679.3,1008.8 1682.3,1009.6 1685.3,1010.3 1688.3,1011.1 1691.3,1011.9 1694.3,1012.7 1697.3,1013.5 1700.3,1014.4 1703.3,1015.2 1706.3,1016.1 1709.3,1017.0 1712.3,1017.9 1715.3,1018.8 1718.3,1019.7 1721.3,1020.7 1724.3,1021.6 1727.3,1022.5 1730.3,1023.5 1733.3,1024.4 1736.3,1025.3 1739.3,1026.3 1742.3,1027.2 1745.3,1028.1 1748.3,1028.9 1751.3,1029.8 1754.3,1030.6 1757.3,1031.4 1760.3,1032.2 1763.3,1032.9 1766.3,1033.6 1769.3,1034.3 1772.3,1034.9 1775.3,1035.6 1778.3,1036.2 1781.3,1036.8 1784.3,1037.3 1787.3,1037.9 1790.3,1038.4 1793.3,1038.9 1796.3,1039.4 1799.3,1039.9 1802.3,1040.4 1805.3,1040.9 1808.3,1041.4 1811.3,1041.8 1814.3,1042.3 1817.3,1042.7 1820.3,1043.1 1823.3,1043.6 1826.3,1044.0 1829.3,1044.4 1832.3,1044.8 1835.3,1045.2 1838.3,1045.5 1841.3,1045.9 1844.3,1046.3 1847.3,1046.6 1850.3,1047.0 1853.3,1047.3 1856.3,1047.7 1859.3,1048.0 1861.0,1048.2"/>
<path stroke="#8000ff" d="M274.3,593.4 275.3,585.7 276.3,578.0 277.3,570.4 278.3,562.7 279.3,555.2 280.3,547.8 281.3,540.5 282.3,533.4 283.3,526.4 284.3,519.6 285.3,513.0 286.3,506.5 287.3,500.2 288.3,494.0 289.3,487.9 290.3,482.0 291.3,476.2 292.3,470.5 293.3,465.0 294.3,459.6 295.3,454.3 296.3,449.2 297.3,444.1 298.3,439.1 299.3,434.2 300.3,429.2 301.3,424.3 302.3,419.4 303.3,414.4 304.3,409.4 305.3,404.4 306.3,399.3 307.3,394.3 308.3,389.2 309.3,384.1 310.3,379.0 311.3,373.9 312.3,368.8 313.3,363.7 314.3,358.6 315.3,353.5 316.3,348.5 317.3,343.7 318.3,339.0 319.3,334.6 320.3,330.5 321.3,326.5 322.3,322.8 323.3,319.2 324.3,315.8 325.3,312.6 326.3,309.4 327.3,306.5 328.3,303.6 329.3,301.0 330.3,298.5 331.3,296.1 332.3,293.8 333.3,291.7 334.3,289.7 335.3,287.9 336.3,286.2 337.3,284.6 338.3,283.1 339.3,281.8 340.3,280.5 341.3,279.3 342.3,278.3 343.3,277.3 344.3,276.4 345.3,275.7 346.3,275.0 347.3,274.4 348.3,273.9 349.3,273.5 350.3,273.1 351.3,272.8 352.3,272.6 353.3,272.5 354.3,272.5 355.3,272.5 356.3,272.7 357.3,272.9 358.3,273.2 359.3,273.6 360.3,274.1 361.3,274.7 362.3,275.4 363.3,276.2 364.3,277.2 365.3,278.3 366.3,279.6 367.3,281.1 368.3,282.8 369.3,284.6 370.3,286.6 371.3,288.8 372.3,291.1 373.3,293.5 374.3,296.0 375.3,298.6 376.3,301.2 377.3,303.8 378.3,306.3 379.3,308.9 380.3,311.5 381.3,314.2 382.3,316.9 383.3,319.7 384.3,322.6 385.3,325.6 386.3,328.8 387.3,332.0 388.3,335.4 389.3,338.9 390.3,342.5 391.3,346.2 392.3,350.0 393.3,353.8 394.3,357.8 395.3,361.8 396.3,365.8 397.3,369.9 398.3,374.1 399.3,378.2 400.3,382.4 401.3,386.6 402.3,390.9 403.3,395.1 404.3,399.3 405.3,403.6 406.3,407.9 407.3,412.1 408.3,416.4 409.3,420.6 410.3,424.9 411.3,429.1 412.3,433.3 413.3,437.5 414.3,441.7 415.3,445.9 416.3,450.0 417.3,454.2 418.3,458.4 419.3,462.5 420.3,466.7 421.3,470.8 422.3,474.9 423.3,479.0 424.3,483.1 425.3,487.3 426.3,491.4 427.3,495.5 428.3,499.6 429.3,503.6 430.3,507.7 431.3,511.8 432.3,515.9 433.3,520.0 434.3,524.1 435.3,528.1 436.3,532.2 437.3,536.3 438.3,540.4 439.3,544.5 440.3,548.6 441.3,552.7 442.3,556.9 443.3,561.0 444.3,565.1 445.3,569.3 446.3,573.4 447.3,577.5 448.3,581.6 449.3,585.8 450.3,589.9 451.3,594.0 452.3,598.1 453.3,602.2 454.3,606.3 455.3,610.3 456.3,614.4 457.3,618.4 458.3,622.4 459.3,626.3 460.3,630.3 461.3,634.2 462.3,638.0 463.3,641.8 464.3,645.6 465.3,649.3 466.3,653.0 467.3,656.6 468.3,660.2 469.3,663.7 470.3,667.2 471.3,670.8 472.3,674.2 473.3,677.7 474.3,681.1 475.3,684.5 476.3,687.9 477.3,691.3 478.3,694.6 479.3,697.9 480.3,701.2 481.3,704.4 482.3,707.7 483.3,710.9 484.3,714.1 485.3,717.2 486.3,720.4 487.3,723.5 488.3,726.6 489.3,729.6 490.3,732.6 491.3,735.6 492.3,738.6 493.3,741.5 494.3,744.4 495.3,747.2 496.3,750.0 497.3,752.8 498.3,755.5 499.3,758.2 500.3,760.8 501.3,763.4 502.3,766.0 503.3,768.5 504.3,771.0 505.3,773.4 506.3,775.8 507.3,778.1 508.3,780.3 509.3,782.4 510.3,784.5 511.3,786.5 512.3,788.5 513.3,790.4 514.3,792.2 515.3,794.0 516.3,795.8 517.3,797.5 518.3,799.2 519.3,800.8 520.3,802.4 521.3,803.9 522.3,805.5 523.3,806.9 524.3,808.4 525.3,809.8 526.3,811.1 527.3,812.5 528.3,813.8 529.3,815.1 530.3,816.4 531.3,817.6 532.3,818.9 533.3,820.1 534.3,821.3 535.3,822.5 536.3,823.8 537.3,824.9 538.3,826.1 539.3,827.3 540.3,828.4 541.3,829.6 542.3,830.7 543.3,831.8 544.3,832.8 545.3,833.9 546.3,834.9 547.3,835.8 548.3,836.7 549.3,837.6 550.3,838.5 551.3,839.3 552.3,840.1 553.3,840.9 554.3,841.6 555.3,842.3 556.3,843.0 557.3,843.7 558.3,844.3 559.3,844.9 560.3,845.4 563.3,846.8 566.3,847.9 569.3,848.8 572.3,849.5 575.3,850.2 578.3,850.8 581.3,851.5 584.3,852.3 587.3,853.1 590.3,853.9 593.3,854.8 596.3,855.6 599.3,856.5 602.3,857.2 605.3,857.9 608.3,858.5 611.3,859.0 614.3,859.4 617.3,859.8 620.3,860.2 623.3,860.5 626.3,860.7 629.3,860.9 632.3,861.0 635.3,861.1 638.3,861.0 641.3,861.0 644.3,860.9 647.3,860.8 650.3,860.6 653.3,860.4 656.3,860.2 659.3,859.9 662.3,859.6 665.3,859.3 668.3,859.1 671.3,858.8 674.3,858.6 677.3,858.3 680.3,858.0 683.3,857.7 686.3,857.4 689.3,857.1 692.3,856.7 695.3,856.3 698.3,855.8 701.3,855.3 704.3,854.8 707.3,854.3 710.3,853.7 713.3,853.1 716.3,852.5 719.3,851.8 722.3,851.2 725.3,850.6 728.3,850.0 731.3,849.4 734.3,848.8 737.3,848.2 740.3,847.6 743.3,847.0 746.3,846.4 749.3,845.8 752.3,845.2 755.3,844.6 758.3,844.0 761.3,843.4 764.3,842.8 767.3,842.3 770.3,841.7 773.3,841.1 776.3,840.6 779.3,840.0 782.3,839.5 785.3,838.9 788.3,838.3 791.3,837.8 794.3,837.2 797.3,836.5 800.3,835.9 803.3,835.2 806.3,834.5 809.3,833.8 812.3,833.1 815.3,832.4 818.3,831.6 821.3,830.9 824.3,830.1 827.3,829.3 830.3,828.6 833.3,827.8 836.3,827.0 839.3,826.2 842.3,825.5 845.3,824.7 848.3,823.9 851.3,823.2 854.3,822.4 857.3,821.6 860.3,820.9 863.3,820.1 866.3,819.4 869.3,818.6 872.3,817.9 875.3,817.1 878.3,816.3 881.3,815.6 884.3,814.8 887.3,814.0 890.3,813.3 893.3,812.5 896.3,811.7 899.3,810.9 902.3,810.1 905.3,809.3 908.3,808.5 911.3,807.8 914.3,807.0 917.3,806.2 920.3,805.5 923.3,804.8 926.3,804.1 929.3,803.4 932.3,802.7 935.3,802.0 938.3,801.3 941.3,800.6 944.3,800.0 947.3,799.3 950.3,798.7 953.3,798.1 956.3,797.6 959.3,797.1 962.3,796.6 965.3,796.1 968.3,795.7 971.3,795.3 974.3,794.9 977.3,794.5 980.3,794.2 983.3,793.9 986.3,793.6 989.3,793.4 992.3,793.2 995.3,793.1 998.3,793.0 1001.3,792.9 1004.3,792.9 1007.3,792.8 1010.3,792.8 1013.3,792.8 1016.3,792.8 1019.3,792.8 1022.3,792.9 1025.3,793.1 1028.3,793.2 1031.3,793.4 1034.3,793.6 1037.3,793.9 1040.3,794.2 1043.3,794.5 1046.3,794.9 1049.3,795.4 1052.3,796.0 1055.3,796.6 1058.3,797.3 1061.3,798.0 1064.3,798.9 1067.3,799.7 1070.3,800.6 1073.3,801.4 1076.3,802.2 1079.3,803.1 1082.3,803.8 1085.3,804.6 1088.3,805.4 1091.3,806.2 1094.3,807.0 1097.3,807.8 1100.3,808.6 1103.3,809.4 1106.3,810.3 1109.3,811.2 1112.3,812.1 1115.3,813.1 1118.3,814.0 1121.3,815.0 1124.3,815.9 1127.3,816.9 1130.3,817.8 1133.3,818.8 1136.3,819.7 1139.3,820.7 1142.3,821.6 1145.3,822.5 1148.3,823.5 1151.3,824.4 1154.3,825.4 1157.3,826.3 1160.3,827.3 1163.3,828.3 1166.3,829.3 1169.3,830.3 1172.3,831.4 1175.3,832.5 1178.3,833.6 1181.3,834.8 1184.3,836.1 1187.3,837.4 1190.3,838.7 1193.3,840.1 1196.3,841.5 1199.3,843.0 1202.3,844.4 1205.3,845.8 1208.3,847.2 1211.3,848.7 1214.3,850.1 1217.3,851.5 1220.3,852.9 1223.3,854.3 1226.3,855.7 1229.3,857.1 1232.3,858.5 1235.3,859.9 1238.3,861.2 1241.3,862.6 1244.3,864.0 1247.3,865.4 1250.3,866.8 1253.3,868.2 1256.3,869.5 1259.3,870.9 1262.3,872.3 1265.3,873.7 1268.3,875.1 1271.3,876.4 1274.3,877.8 1277.3,879.2 1280.3,880.6 1283.3,881.9 1286.3,883.3 1289.3,884.6 1292.3,886.0 1295.3,887.3 1298.3,888.7 1301.3,890.0 1304.3,891.4 1307.3,892.7 1310.3,894.1 1313.3,895.4 1316.3,896.7 1319.3,898.1 1322.3,899.4 1325.3,900.7 1328.3,902.1 1331.3,903.4 1334.3,904.7 1337.3,906.0 1340.3,907.3 1343.3,908.6 1346.3,909.8 1349.3,911.1 1352.3,912.3 1355.3,913.5 1358.3,914.8 1361.3,916.0 1364.3,917.2 1367.3,918.4 1370.3,919.7 1373.3,920.9 1376.3,922.1 1379.3,923.3 1382.3,924.5 1385.3,925.6 1388.3,926.8 1391.3,928.0 1394.3,929.1 1397.3,930.3 1400.3,931.4 1403.3,932.6 1406.3,933.7 1409.3,934.8 1412.3,936.0 1415.3,937.1 1418.3,938.2 1421.3,939.2 1424.3,940.3 1427.3,941.4 1430.3,942.5 1433.3,943.5 1436.3,944.5 1439.3,945.6 1442.3,946.6 1445.3,947.6 1448.3,948.6 1451.3,949.6 1454.3,950.6 1457.3,951.5 1460.3,952.5 1463.3,953.4 1466.3,954.3 1469.3,955.3 1472.3,956.2 1475.3,957.1 1478.3,958.0 1481.3,958.9 1484.3,959.7 1487.3,960.6 1490.3,961.5 1493.3,962.4 1496.3,963.2 1499.3,964.1 1502.3,965.0 1505.3,965.8 1508.3,966.7 1511.3,967.5 1514.3,968.4 1517.3,969.2 1520.3,970.1 1523.3,970.9 1526.3,971.8 1529.3,972.6 1532.3,973.4 1535.3,974.3 1538.3,975.1 1541.3,975.9 1544.3,976.7 1547.3,977.5 1550.3,978.3 1553.3,979.1 1556.3,979.9 1559.3,980.6 1562.3,981.4 1565.3,982.1 1568.3,982.9 1571.3,983.6 1574.3,984.4 1577.3,985.1 1580.3,985.9 1583.3,986.6 1586.3,987.3 1589.3,988.1 1592.3,988.8 1595.3,989.5 1598.3,990.2 1601.3,991.0 1604.3,991.7 1607.3,992.4 1610.3,993.1 1613.3,993.8 1616.3,994.6 1619.3,995.3 1622.3,996.0 1625.3,996.7 1628.3,997.5 1631.3,998.2 1634.3,998.9 1637.3,999.6 1640.3,1000.3 1643.3,1001.0 1646.3,1001.7 1649.3,1002.4 1652.3,1003.1 1655.3,1003.8 1658.3,1004.6 1661.3,1005.3 1664.3,1006.0 1667.3,1006.7 1670.3,1007.4 1673.3,1008.1 1676.3,1008.8 1679.3,1009.6 1682.3,1010.3 1685.3,1011.1 1688.3,1011.8 1691.3,1012.6 1694.3,1013.4 1697.3,1014.2 1700.3,1015.0 1703.3,1015.9 1706.3,1016.7 1709.3,1017.6 1712.3,1018.5 1715.3,1019.4 1718.3,1020.3 1721.3,1021.2 1724.3,1022.1 1727.3,1023.0 1730.3,1024.0 1733.3,1024.9 1736.3,1025.8 1739.3,1026.7 1742.3,1027.6 1745.3,1028.5 1748.3,1029.3 1751.3,1030.2 1754.3,1031.0 1757.3,1031.8 1760.3,1032.5 1763.3,1033.2 1766.3,1033.9 1769.3,1034.6 1772.3,1035.2 1775.3,1035.9 1778.3,1036.5 1781.3,1037.0 1784.3,1037.6 1787.3,1038.1 1790.3,1038.6 1793.3,1039.2 1796.3,1039.7 1799.3,1040.1 1802.3,1040.6 1805.3,1041.1 1808.3,1041.6 1811.3,1042.0 1814.3,1042.4 1817.3,1042.9 1820.3,1043.3 1823.3,1043.7 1826.3,1044.1 1829.3,1044.5 1832.3,1044.9 1835.3,1045.3 1838.3,1045.6 1841.3,1046.0 1844.3,1046.4 1847.3,1046.7 1850.3,1047.1 1853.3,1047.4 1856.3,1047.7 1859.3,1048.0 1861.0,1048.2"/>
<path stroke="#800080" d="M274.3,602.9 275.3,595.3 276.3,587.7 277.3,580.1 278.3,572.5 279.3,565.0 280.3,557.6 281.3,550.2 282.3,542.9 283.3,535.8 284.3,528.8 285.3,521.9 286.3,515.1 287.3,508.5 288.3,502.0 289.3,495.7 290.3,489.4 291.3,483.4 292.3,477.5 293.3,471.7 294.3,466.1 295.3,460.6 296.3,455.3 297.3,450.1 298.3,445.0 299.3,439.9 300.3,434.9 301.3,429.9 302.3,425.0 303.3,420.0 304.3,415.0 305.3,410.0 306.3,405.0 307.3,399.9 308.3,394.9 309.3,389.9 310.3,384.9 311.3,379.9 312.3,374.8 313.3,369.8 314.3,364.7 315.3,359.7 316.3,354.7 317.3,349.9 318.3,345.2 319.3,340.7 320.3,336.4 321.3,332.3 322.3,328.3 323.3,324.5 324.3,320.9 325.3,317.3 326.3,314.0 327.3,310.7 328.3,307.7 329.3,304.8 330.3,302.0 331.3,299.5 332.3,297.0 333.3,294.8 334.3,292.7 335.3,290.7 336.3,288.9 337.3,287.3 338.3,285.8 339.3,284.4 340.3,283.1 341.3,282.0 342.3,280.9 343.3,280.0 344.3,279.1 345.3,278.4 346.3,277.7 347.3,277.1 348.3,276.6 349.3,276.2 350.3,275.8 351.3,275.6 352.3,275.3 353.3,275.2 354.3,275.1 355.3,275.1 356.3,275.2 357.3,275.3 358.3,275.5 359.3,275.8 360.3,276.1 361.3,276.6 362.3,277.1 363.3,277.8 364.3,278.6 365.3,279.5 366.3,280.6 367.3,281.8 368.3,283.2 369.3,284.8 370.3,286.5 371.3,288.3 372.3,290.3 373.3,292.5 374.3,294.7 375.3,296.9 376.3,299.2 377.3,301.5 378.3,303.8 379.3,306.2 380.3,308.5 381.3,311.0 382.3,313.5 383.3,316.0 384.3,318.7 385.3,321.5 386.3,324.4 387.3,327.5 388.3,330.6 389.3,333.9 390.3,337.2 391.3,340.7 392.3,344.2 393.3,347.9 394.3,351.6 395.3,355.5 396.3,359.4 397.3,363.3 398.3,367.4 399.3,371.4 400.3,375.5 401.3,379.7 402.3,383.9 403.3,388.1 404.3,392.3 405.3,396.6 406.3,400.8 407.3,405.1 408.3,409.4 409.3,413.6 410.3,417.9 411.3,422.1 412.3,426.3 413.3,430.6 414.3,434.8 415.3,439.0 416.3,443.1 417.3,447.3 418.3,451.5 419.3,455.7 420.3,459.8 421.3,464.0 422.3,468.1 423.3,472.3 424.3,476.4 425.3,480.5 426.3,484.6 427.3,488.8 428.3,492.9 429.3,497.0 430.3,501.1 431.3,505.2 432.3,509.3 433.3,513.3 434.3,517.4 435.3,521.5 436.3,525.6 437.3,529.7 438.3,533.8 439.3,537.9 440.3,542.0 441.3,546.2 442.3,550.3 443.3,554.4 444.3,558.5 445.3,562.7 446.3,566.8 447.3,570.9 448.3,575.0 449.3,579.2 450.3,583.3 451.3,587.4 452.3,591.5 453.3,595.6 454.3,599.7 455.3,603.8 456.3,607.9 457.3,611.9 458.3,616.0 459.3,620.0 460.3,624.0 461.3,627.9 462.3,631.8 463.3,635.7 464.3,639.5 465.3,643.3 466.3,647.0 467.3,650.7 468.3,654.3 469.3,658.0 470.3,661.6 471.3,665.2 472.3,668.7 473.3,672.2 474.3,675.7 475.3,679.2 476.3,682.6 477.3,685.9 478.3,689.3 479.3,692.6 480.3,695.9 481.3,699.2 482.3,702.5 483.3,705.8 484.3,709.0 485.3,712.2 486.3,715.4 487.3,718.5 488.3,721.7 489.3,724.8 490.3,727.8 491.3,730.9 492.3,733.9 493.3,736.8 494.3,739.8 495.3,742.7 496.3,745.5 497.3,748.3 498.3,751.1 499.3,753.9 500.3,756.6 501.3,759.3 502.3,761.9 503.3,764.5 504.3,767.0 505.3,769.5 506.3,771.9 507.3,774.3 508.3,776.6 509.3,778.8 510.3,781.0 511.3,783.1 512.3,785.1 513.3,787.1 514.3,789.0 515.3,790.9 516.3,792.7 517.3,794.5 518.3,796.3 519.3,798.0 520.3,799.6 521.3,801.2 522.3,802.8 523.3,804.3 524.3,805.7 525.3,807.1 526.3,808.5 527.3,809.8 528.3,811.1 529.3,812.4 530.3,813.6 531.3,814.8 532.3,816.0 533.3,817.2 534.3,818.3 535.3,819.4 536.3,820.6 537.3,821.7 538.3,822.8 539.3,823.8 540.3,824.9 541.3,825.9 542.3,826.9 543.3,828.0 544.3,828.9 545.3,829.9 546.3,830.8 547.3,831.8 548.3,832.7 549.3,833.6 550.3,834.4 551.3,835.3 552.3,836.1 553.3,837.0 554.3,837.8 555.3,838.6 556.3,839.4 557.3,840.2 558.3,841.0 559.3,841.7 560.3,842.4 563.3,844.4 566.3,846.1 569.3,847.6 572.3,848.9 575.3,850.1 578.3,851.2 581.3,852.2 584.3,853.3 587.3,854.3 590.3,855.4 593.3,856.4 596.3,857.5 599.3,858.4 602.3,859.3 605.3,860.1 608.3,860.8 611.3,861.4 614.3,862.0 617.3,862.5 620.3,863.0 623.3,863.4 626.3,863.8 629.3,864.1 632.3,864.3 635.3,864.5 638.3,864.6 641.3,864.6 644.3,864.6 647.3,864.6 650.3,864.6 653.3,864.4 656.3,864.3 659.3,864.1 662.3,864.0 665.3,863.8 668.3,863.6 671.3,863.5 674.3,863.3 677.3,863.2 680.3,863.0 683.3,862.8 686.3,862.6 689.3,862.3 692.3,862.0 695.3,861.7 698.3,861.4 701.3,861.0 704.3,860.5 707.3,860.1 710.3,859.6 713.3,859.1 716.3,858.7 719.3,858.2 722.3,857.7 725.3,857.2 728.3,856.7 731.3,856.2 734.3,855.7 737.3,855.2 740.3,854.7 743.3,854.2 746.3,853.7 749.3,853.2 752.3,852.7 755.3,852.2 758.3,851.8 761.3,851.3 764.3,850.8 767.3,850.3 770.3,849.8 773.3,849.4 776.3,848.9 779.3,848.4 782.3,848.0 785.3,847.5 788.3,847.0 791.3,846.5 794.3,846.0 797.3,845.5 800.3,844.9 803.3,844.3 806.3,843.7 809.3,843.1 812.3,842.5 815.3,841.8 818.3,841.1 821.3,840.4 824.3,839.7 827.3,839.0 830.3,838.3 833.3,837.6 836.3,836.9 839.3,836.2 842.3,835.4 845.3,834.7 848.3,834.0 851.3,833.3 854.3,832.6 857.3,831.9 860.3,831.2 863.3,830.5 866.3,829.9 869.3,829.2 872.3,828.5 875.3,827.8 878.3,827.1 881.3,826.5 884.3,825.8 887.3,825.1 890.3,824.4 893.3,823.7 896.3,823.0 899.3,822.3 902.3,821.6 905.3,820.9 908.3,820.2 911.3,819.5 914.3,818.9 917.3,818.2 920.3,817.5 923.3,816.9 926.3,816.3 929.3,815.6 932.3,815.0 935.3,814.4 938.3,813.8 941.3,813.2 944.3,812.6 947.3,812.0 950.3,811.5 953.3,811.0 956.3,810.5 959.3,810.0 962.3,809.5 965.3,809.1 968.3,808.7 971.3,808.4 974.3,808.0 977.3,807.7 980.3,807.4 983.3,807.1 986.3,806.9 989.3,806.7 992.3,806.6 995.3,806.4 998.3,806.3 1001.3,806.2 1004.3,806.2 1007.3,806.1 1010.3,806.1 1013.3,806.1 1016.3,806.2 1019.3,806.2 1022.3,806.3 1025.3,806.4 1028.3,806.6 1031.3,806.8 1034.3,807.0 1037.3,807.3 1040.3,807.6 1043.3,807.9 1046.3,808.3 1049.3,808.7 1052.3,809.3 1055.3,809.9 1058.3,810.6 1061.3,811.3 1064.3,812.1 1067.3,812.9 1070.3,813.7 1073.3,814.5 1076.3,815.3 1079.3,816.1 1082.3,816.9 1085.3,817.6 1088.3,818.3 1091.3,819.0 1094.3,819.8 1097.3,820.5 1100.3,821.3 1103.3,822.1 1106.3,822.9 1109.3,823.8 1112.3,824.6 1115.3,825.5 1118.3,826.4 1121.3,827.3 1124.3,828.2 1127.3,829.1 1130.3,829.9 1133.3,830.8 1136.3,831.7 1139.3,832.6 1142.3,833.5 1145.3,834.4 1148.3,835.2 1151.3,836.2 1154.3,837.1 1157.3,838.0 1160.3,839.0 1163.3,839.9 1166.3,840.9 1169.3,841.9 1172.3,842.9 1175.3,844.0 1178.3,845.1 1181.3,846.2 1184.3,847.4 1187.3,848.6 1190.3,849.9 1193.3,851.2 1196.3,852.6 1199.3,853.9 1202.3,855.2 1205.3,856.6 1208.3,857.9 1211.3,859.2 1214.3,860.6 1217.3,861.9 1220.3,863.2 1223.3,864.5 1226.3,865.8 1229.3,867.2 1232.3,868.5 1235.3,869.8 1238.3,871.1 1241.3,872.4 1244.3,873.7 1247.3,875.0 1250.3,876.3 1253.3,877.6 1256.3,878.9 1259.3,880.3 1262.3,881.6 1265.3,882.9 1268.3,884.2 1271.3,885.5 1274.3,886.8 1277.3,888.1 1280.3,889.4 1283.3,890.7 1286.3,892.0 1289.3,893.3 1292.3,894.5 1295.3,895.8 1298.3,897.1 1301.3,898.4 1304.3,899.6 1307.3,900.9 1310.3,902.2 1313.3,903.4 1316.3,904.7 1319.3,905.9 1322.3,907.2 1325.3,908.5 1328.3,909.7 1331.3,910.9 1334.3,912.2 1337.3,913.4 1340.3,914.6 1343.3,915.8 1346.3,917.0 1349.3,918.2 1352.3,919.4 1355.3,920.5 1358.3,921.7 1361.3,922.8 1364.3,924.0 1367.3,925.1 1370.3,926.3 1373.3,927.4 1376.3,928.5 1379.3,929.6 1382.3,930.7 1385.3,931.8 1388.3,932.9 1391.3,934.0 1394.3,935.1 1397.3,936.2 1400.3,937.3 1403.3,938.3 1406.3,939.4 1409.3,940.4 1412.3,941.5 1415.3,942.5 1418.3,943.5 1421.3,944.5 1424.3,945.6 1427.3,946.6 1430.3,947.5 1433.3,948.5 1436.3,949.5 1439.3,950.5 1442.3,951.4 1445.3,952.4 1448.3,953.3 1451.3,954.2 1454.3,955.2 1457.3,956.1 1460.3,957.0 1463.3,957.8 1466.3,958.7 1469.3,959.6 1472.3,960.5 1475.3,961.3 1478.3,962.2 1481.3,963.0 1484.3,963.8 1487.3,964.7 1490.3,965.5 1493.3,966.3 1496.3,967.1 1499.3,968.0 1502.3,968.8 1505.3,969.6 1508.3,970.4 1511.3,971.2 1514.3,972.0 1517.3,972.8 1520.3,973.6 1523.3,974.4 1526.3,975.2 1529.3,976.0 1532.3,976.8 1535.3,977.6 1538.3,978.4 1541.3,979.2 1544.3,979.9 1547.3,980.7 1550.3,981.4 1553.3,982.2 1556.3,982.9 1559.3,983.6 1562.3,984.4 1565.3,985.1 1568.3,985.8 1571.3,986.5 1574.3,987.2 1577.3,987.9 1580.3,988.6 1583.3,989.3 1586.3,990.0 1589.3,990.7 1592.3,991.4 1595.3,992.1 1598.3,992.8 1601.3,993.5 1604.3,994.2 1607.3,994.8 1610.3,995.5 1613.3,996.2 1616.3,996.9 1619.3,997.6 1622.3,998.3 1625.3,999.0 1628.3,999.7 1631.3,1000.3 1634.3,1001.0 1637.3,1001.7 1640.3,1002.4 1643.3,1003.1 1646.3,1003.7 1649.3,1004.4 1652.3,1005.1 1655.3,1005.8 1658.3,1006.4 1661.3,1007.1 1664.3,1007.8 1667.3,1008.5 1670.3,1009.2 1673.3,1009.9 1676.3,1010.6 1679.3,1011.3 1682.3,1012.0 1685.3,1012.7 1688.3,1013.4 1691.3,1014.2 1694.3,1014.9 1697.3,1015.7 1700.3,1016.5 1703.3,1017.3 1706.3,1018.1 1709.3,1019.0 1712.3,1019.8 1715.3,1020.7 1718.3,1021.5 1721.3,1022.4 1724.3,1023.3 1727.3,1024.2 1730.3,1025.1 1733.3,1026.0 1736.3,1026.8 1739.3,1027.7 1742.3,1028.6 1745.3,1029.4 1748.3,1030.2 1751.3,1031.0 1754.3,1031.8 1757.3,1032.6 1760.3,1033.3 1763.3,1034.0 1766.3,1034.7 1769.3,1035.3 1772.3,1035.9 1775.3,1036.5 1778.3,1037.1 1781.3,1037.6 1784.3,1038.2 1787.3,1038.7 1790.3,1039.2 1793.3,1039.7 1796.3,1040.1 1799.3,1040.6 1802.3,1041.1 1805.3,1041.5 1808.3,1042.0 1811.3,1042.4 1814.3,1042.8 1817.3,1043.2 1820.3,1043.6 1823.3,1044.0 1826.3,1044.4 1829.3,1044.8 1832.3,1045.2 1835.3,1045.5 1838.3,1045.9 1841.3,1046.2 1844.3,1046.6 1847.3,1046.9 1850.3,1047.2 1853.3,1047.5 1856.3,1047.9 1859.3,1048.2 1861.0,1048.3"/>
<path stroke="#800000" d="M274.3,610.6 275.3,603.1 276.3,595.6 277.3,588.1 278.3,580.5 279.3,573.0 280.3,565.5 281.3,558.0 282.3,550.7 283.3,543.4 284.3,536.2 285.3,529.1 286.3,522.1 287.3,515.3 288.3,508.5 289.3,501.9 290.3,495.5 291.3,489.2 292.3,483.0 293.3,477.1 294.3,471.3 295.3,465.7 296.3,460.3 297.3,454.9 298.3,449.7 299.3,444.6 300.3,439.5 301.3,434.5 302.3,429.4 303.3,424.4 304.3,419.4 305.3,414.4 306.3,409.4 307.3,404.4 308.3,399.4 309.3,394.5 310.3,389.5 311.3,384.5 312.3,379.5 313.3,374.5 314.3,369.4 315.3,364.4 316.3,359.4 317.3,354.5 318.3,349.7 319.3,345.1 320.3,340.6 321.3,336.3 322.3,332.1 323.3,328.0 324.3,324.1 325.3,320.3 326.3,316.6 327.3,313.1 328.3,309.8 329.3,306.6 330.3,303.6 331.3,300.7 332.3,298.1 333.3,295.6 334.3,293.2 335.3,291.1 336.3,289.1 337.3,287.3 338.3,285.7 339.3,284.2 340.3,282.8 341.3,281.6 342.3,280.5 343.3,279.4 344.3,278.5 345.3,277.7 346.3,277.0 347.3,276.4 348.3,275.8 349.3,275.3 350.3,274.9 351.3,274.6 352.3,274.3 353.3,274.1 354.3,274.0 355.3,273.9 356.3,274.0 357.3,274.0 358.3,274.2 359.3,274.4 360.3,274.7 361.3,275.1 362.3,275.6 363.3,276.2 364.3,276.9 365.3,277.7 366.3,278.7 367.3,279.8 368.3,281.1 369.3,282.5 370.3,284.1 371.3,285.8 372.3,287.7 373.3,289.7 374.3,291.7 375.3,293.9 376.3,296.0 377.3,298.2 378.3,300.4 379.3,302.6 380.3,304.9 381.3,307.2 382.3,309.6 383.3,312.1 384.3,314.7 385.3,317.4 386.3,320.2 387.3,323.1 388.3,326.1 389.3,329.2 390.3,332.5 391.3,335.8 392.3,339.2 393.3,342.8 394.3,346.4 395.3,350.1 396.3,353.9 397.3,357.8 398.3,361.7 399.3,365.7 400.3,369.8 401.3,373.9 402.3,378.1 403.3,382.3 404.3,386.5 405.3,390.8 406.3,395.1 407.3,399.3 408.3,403.6 409.3,407.9 410.3,412.2 411.3,416.4 412.3,420.7 413.3,424.9 414.3,429.1 415.3,433.3 416.3,437.5 417.3,441.7 418.3,445.9 419.3,450.1 420.3,454.3 421.3,458.5 422.3,462.6 423.3,466.8 424.3,470.9 425.3,475.1 426.3,479.2 427.3,483.3 428.3,487.4 429.3,491.5 430.3,495.7 431.3,499.8 432.3,503.9 433.3,508.0 434.3,512.1 435.3,516.2 436.3,520.3 437.3,524.4 438.3,528.5 439.3,532.6 440.3,536.7 441.3,540.8 442.3,544.9 443.3,549.1 444.3,553.2 445.3,557.3 446.3,561.4 447.3,565.6 448.3,569.7 449.3,573.8 450.3,578.0 451.3,582.1 452.3,586.2 453.3,590.4 454.3,594.5 455.3,598.6 456.3,602.7 457.3,606.7 458.3,610.8 459.3,614.8 460.3,618.8 461.3,622.8 462.3,626.8 463.3,630.7 464.3,634.6 465.3,638.4 466.3,642.2 467.3,645.9 468.3,649.6 469.3,653.3 470.3,657.0 471.3,660.6 472.3,664.2 473.3,667.8 474.3,671.3 475.3,674.8 476.3,678.2 477.3,681.6 478.3,685.0 479.3,688.4 480.3,691.7 481.3,695.0 482.3,698.3 483.3,701.6 484.3,704.9 485.3,708.1 486.3,711.3 487.3,714.5 488.3,717.7 489.3,720.8 490.3,723.9 491.3,727.0 492.3,730.0 493.3,733.1 494.3,736.0 495.3,739.0 496.3,741.9 497.3,744.8 498.3,747.6 499.3,750.4 500.3,753.2 501.3,755.9 502.3,758.6 503.3,761.2 504.3,763.8 505.3,766.3 506.3,768.8 507.3,771.2 508.3,773.6 509.3,775.9 510.3,778.1 511.3,780.3 512.3,782.4 513.3,784.4 514.3,786.5 515.3,788.4 516.3,790.3 517.3,792.2 518.3,794.0 519.3,795.7 520.3,797.4 521.3,799.0 522.3,800.6 523.3,802.1 524.3,803.6 525.3,805.0 526.3,806.4 527.3,807.7 528.3,809.0 529.3,810.2 530.3,811.4 531.3,812.6 532.3,813.7 533.3,814.8 534.3,816.0 535.3,817.0 536.3,818.1 537.3,819.1 538.3,820.2 539.3,821.2 540.3,822.2 541.3,823.1 542.3,824.1 543.3,825.0 544.3,826.0 545.3,826.9 546.3,827.8 547.3,828.7 548.3,829.6 549.3,830.5 550.3,831.4 551.3,832.3 552.3,833.2 553.3,834.1 554.3,834.9 555.3,835.8 556.3,836.7 557.3,837.6 558.3,838.5 559.3,839.3 560.3,840.2 563.3,842.6 566.3,844.8 569.3,846.8 572.3,848.5 575.3,850.1 578.3,851.5 581.3,852.9 584.3,854.1 587.3,855.4 590.3,856.6 593.3,857.8 596.3,858.9 599.3,860.0 602.3,861.0 605.3,861.9 608.3,862.7 611.3,863.5 614.3,864.1 617.3,864.7 620.3,865.3 623.3,865.8 626.3,866.3 629.3,866.7 632.3,867.0 635.3,867.2 638.3,867.4 641.3,867.5 644.3,867.7 647.3,867.7 650.3,867.7 653.3,867.7 656.3,867.6 659.3,867.6 662.3,867.5 665.3,867.4 668.3,867.3 671.3,867.3 674.3,867.2 677.3,867.1 680.3,867.0 683.3,866.9 686.3,866.7 689.3,866.6 692.3,866.4 695.3,866.1 698.3,865.8 701.3,865.5 704.3,865.2 707.3,864.8 710.3,864.5 713.3,864.1 716.3,863.7 719.3,863.3 722.3,862.9 725.3,862.5 728.3,862.1 731.3,861.7 734.3,861.3 737.3,860.9 740.3,860.5 743.3,860.1 746.3,859.7 749.3,859.3 752.3,858.9 755.3,858.5 758.3,858.0 761.3,857.6 764.3,857.2 767.3,856.8 770.3,856.5 773.3,856.1 776.3,855.7 779.3,855.3 782.3,854.9 785.3,854.5 788.3,854.1 791.3,853.6 794.3,853.2 797.3,852.7 800.3,852.2 803.3,851.7 806.3,851.2 809.3,850.6 812.3,850.0 815.3,849.4 818.3,848.8 821.3,848.2 824.3,847.5 827.3,846.9 830.3,846.2 833.3,845.5 836.3,844.9 839.3,844.2 842.3,843.5 845.3,842.8 848.3,842.2 851.3,841.5 854.3,840.9 857.3,840.2 860.3,839.6 863.3,839.0 866.3,838.4 869.3,837.7 872.3,837.1 875.3,836.5 878.3,835.9 881.3,835.3 884.3,834.7 887.3,834.1 890.3,833.4 893.3,832.8 896.3,832.2 899.3,831.6 902.3,830.9 905.3,830.3 908.3,829.7 911.3,829.1 914.3,828.5 917.3,827.9 920.3,827.3 923.3,826.7 926.3,826.2 929.3,825.6 932.3,825.0 935.3,824.5 938.3,823.9 941.3,823.4 944.3,822.9 947.3,822.3 950.3,821.8 953.3,821.3 956.3,820.9 959.3,820.4 962.3,820.0 965.3,819.7 968.3,819.3 971.3,819.0 974.3,818.7 977.3,818.4 980.3,818.1 983.3,817.9 986.3,817.7 989.3,817.5 992.3,817.3 995.3,817.2 998.3,817.1 1001.3,817.1 1004.3,817.0 1007.3,817.0 1010.3,816.9 1013.3,816.9 1016.3,817.0 1019.3,817.0 1022.3,817.1 1025.3,817.3 1028.3,817.4 1031.3,817.6 1034.3,817.8 1037.3,818.1 1040.3,818.4 1043.3,818.7 1046.3,819.1 1049.3,819.5 1052.3,820.1 1055.3,820.6 1058.3,821.3 1061.3,822.0 1064.3,822.8 1067.3,823.6 1070.3,824.4 1073.3,825.2 1076.3,825.9 1079.3,826.7 1082.3,827.4 1085.3,828.1 1088.3,828.8 1091.3,829.5 1094.3,830.2 1097.3,830.9 1100.3,831.6 1103.3,832.4 1106.3,833.2 1109.3,833.9 1112.3,834.8 1115.3,835.6 1118.3,836.4 1121.3,837.2 1124.3,838.1 1127.3,838.9 1130.3,839.7 1133.3,840.6 1136.3,841.4 1139.3,842.2 1142.3,843.1 1145.3,843.9 1148.3,844.8 1151.3,845.7 1154.3,846.6 1157.3,847.5 1160.3,848.4 1163.3,849.4 1166.3,850.3 1169.3,851.3 1172.3,852.3 1175.3,853.3 1178.3,854.4 1181.3,855.5 1184.3,856.6 1187.3,857.8 1190.3,859.0 1193.3,860.2 1196.3,861.5 1199.3,862.7 1202.3,864.0 1205.3,865.3 1208.3,866.5 1211.3,867.8 1214.3,869.0 1217.3,870.3 1220.3,871.6 1223.3,872.8 1226.3,874.1 1229.3,875.3 1232.3,876.6 1235.3,877.8 1238.3,879.1 1241.3,880.3 1244.3,881.5 1247.3,882.8 1250.3,884.1 1253.3,885.3 1256.3,886.6 1259.3,887.8 1262.3,889.1 1265.3,890.3 1268.3,891.6 1271.3,892.8 1274.3,894.1 1277.3,895.3 1280.3,896.6 1283.3,897.8 1286.3,899.0 1289.3,900.2 1292.3,901.5 1295.3,902.7 1298.3,903.9 1301.3,905.1 1304.3,906.3 1307.3,907.5 1310.3,908.7 1313.3,909.9 1316.3,911.1 1319.3,912.3 1322.3,913.5 1325.3,914.7 1328.3,915.9 1331.3,917.1 1334.3,918.3 1337.3,919.4 1340.3,920.6 1343.3,921.7 1346.3,922.8 1349.3,924.0 1352.3,925.1 1355.3,926.2 1358.3,927.3 1361.3,928.4 1364.3,929.5 1367.3,930.5 1370.3,931.6 1373.3,932.7 1376.3,933.7 1379.3,934.8 1382.3,935.8 1385.3,936.9 1388.3,937.9 1391.3,938.9 1394.3,940.0 1397.3,941.0 1400.3,942.0 1403.3,943.0 1406.3,944.0 1409.3,945.0 1412.3,945.9 1415.3,946.9 1418.3,947.9 1421.3,948.8 1424.3,949.8 1427.3,950.7 1430.3,951.7 1433.3,952.6 1436.3,953.5 1439.3,954.4 1442.3,955.3 1445.3,956.2 1448.3,957.1 1451.3,958.0 1454.3,958.9 1457.3,959.7 1460.3,960.6 1463.3,961.4 1466.3,962.3 1469.3,963.1 1472.3,963.9 1475.3,964.7 1478.3,965.6 1481.3,966.4 1484.3,967.2 1487.3,968.0 1490.3,968.8 1493.3,969.5 1496.3,970.3 1499.3,971.1 1502.3,971.9 1505.3,972.7 1508.3,973.4 1511.3,974.2 1514.3,975.0 1517.3,975.8 1520.3,976.5 1523.3,977.3 1526.3,978.1 1529.3,978.8 1532.3,979.6 1535.3,980.3 1538.3,981.1 1541.3,981.8 1544.3,982.5 1547.3,983.2 1550.3,984.0 1553.3,984.7 1556.3,985.4 1559.3,986.1 1562.3,986.8 1565.3,987.5 1568.3,988.1 1571.3,988.8 1574.3,989.5 1577.3,990.2 1580.3,990.8 1583.3,991.5 1586.3,992.2 1589.3,992.8 1592.3,993.5 1595.3,994.2 1598.3,994.8 1601.3,995.5 1604.3,996.2 1607.3,996.8 1610.3,997.5 1613.3,998.1 1616.3,998.8 1619.3,999.5 1622.3,1000.1 1625.3,1000.8 1628.3,1001.4 1631.3,1002.1 1634.3,1002.8 1637.3,1003.4 1640.3,1004.1 1643.3,1004.7 1646.3,1005.4 1649.3,1006.0 1652.3,1006.7 1655.3,1007.3 1658.3,1008.0 1661.3,1008.6 1664.3,1009.3 1667.3,1009.9 1670.3,1010.6 1673.3,1011.3 1676.3,1012.0 1679.3,1012.6 1682.3,1013.3 1685.3,1014.0 1688.3,1014.7 1691.3,1015.4 1694.3,1016.2 1697.3,1016.9 1700.3,1017.7 1703.3,1018.5 1706.3,1019.2 1709.3,1020.1 1712.3,1020.9 1715.3,1021.7 1718.3,1022.6 1721.3,1023.4 1724.3,1024.3 1727.3,1025.1 1730.3,1026.0 1733.3,1026.8 1736.3,1027.7 1739.3,1028.5 1742.3,1029.4 1745.3,1030.2 1748.3,1031.0 1751.3,1031.7 1754.3,1032.5 1757.3,1033.2 1760.3,1033.9 1763.3,1034.6 1766.3,1035.2 1769.3,1035.9 1772.3,1036.4 1775.3,1037.0 1778.3,1037.6 1781.3,1038.1 1784.3,1038.6 1787.3,1039.1 1790.3,1039.6 1793.3,1040.1 1796.3,1040.5 1799.3,1041.0 1802.3,1041.4 1805.3,1041.9 1808.3,1042.3 1811.3,1042.7 1814.3,1043.1 1817.3,1043.5 1820.3,1043.9 1823.3,1044.3 1826.3,1044.6 1829.3,1045.0 1832.3,1045.4 1835.3,1045.7 1838.3,1046.1 1841.3,1046.4 1844.3,1046.7 1847.3,1047.0 1850.3,1047.4 1853.3,1047.7 1856.3,1048.0 1859.3,1048.3 1861.0,1048.4"/>
<path stroke="#808000" d="M274.3,617.1 275.3,609.7 276.3,602.3 277.3,594.8 278.3,587.3 279.3,579.7 280.3,572.2 281.3,564.7 282.3,557.3 283.3,549.9 284.3,542.5 285.3,535.3 286.3,528.1 287.3,521.0 288.3,514.1 289.3,507.3 290.3,500.6 291.3,494.1 292.3,487.8 293.3,481.7 294.3,475.8 295.3,470.0 296.3,464.5 297.3,459.1 298.3,453.8 299.3,448.5 300.3,443.4 301.3,438.3 302.3,433.2 303.3,428.2 304.3,423.2 305.3,418.2 306.3,413.2 307.3,408.2 308.3,403.3 309.3,398.4 310.3,393.4 311.3,388.5 312.3,383.5 313.3,378.5 314.3,373.5 315.3,368.4 316.3,363.4 317.3,358.4 318.3,353.6 319.3,348.8 320.3,344.2 321.3,339.7 322.3,335.3 323.3,331.0 324.3,326.9 325.3,322.8 326.3,318.9 327.3,315.1 328.3,311.5 329.3,308.1 330.3,304.9 331.3,301.8 332.3,298.9 333.3,296.2 334.3,293.7 335.3,291.4 336.3,289.3 337.3,287.4 338.3,285.7 339.3,284.1 340.3,282.6 341.3,281.3 342.3,280.1 343.3,279.0 344.3,278.0 345.3,277.2 346.3,276.4 347.3,275.7 348.3,275.1 349.3,274.6 350.3,274.1 351.3,273.7 352.3,273.4 353.3,273.2 354.3,273.1 355.3,273.0 356.3,272.9 357.3,273.0 358.3,273.1 359.3,273.2 360.3,273.5 361.3,273.8 362.3,274.3 363.3,274.8 364.3,275.5 365.3,276.2 366.3,277.1 367.3,278.2 368.3,279.3 369.3,280.7 370.3,282.1 371.3,283.7 372.3,285.5 373.3,287.3 374.3,289.2 375.3,291.2 376.3,293.3 377.3,295.4 378.3,297.5 379.3,299.6 380.3,301.8 381.3,304.1 382.3,306.4 383.3,308.8 384.3,311.3 385.3,313.9 386.3,316.6 387.3,319.4 388.3,322.3 389.3,325.3 390.3,328.4 391.3,331.6 392.3,335.0 393.3,338.4 394.3,341.9 395.3,345.5 396.3,349.2 397.3,353.0 398.3,356.9 399.3,360.9 400.3,364.9 401.3,369.0 402.3,373.2 403.3,377.4 404.3,381.6 405.3,385.9 406.3,390.2 407.3,394.5 408.3,398.8 409.3,403.1 410.3,407.3 411.3,411.6 412.3,415.9 413.3,420.1 414.3,424.3 415.3,428.6 416.3,432.8 417.3,437.0 418.3,441.2 419.3,445.4 420.3,449.6 421.3,453.8 422.3,457.9 423.3,462.1 424.3,466.3 425.3,470.4 426.3,474.6 427.3,478.7 428.3,482.8 429.3,486.9 430.3,491.1 431.3,495.2 432.3,499.3 433.3,503.4 434.3,507.5 435.3,511.6 436.3,515.7 437.3,519.8 438.3,523.9 439.3,528.0 440.3,532.2 441.3,536.3 442.3,540.4 443.3,544.5 444.3,548.6 445.3,552.8 446.3,556.9 447.3,561.0 448.3,565.2 449.3,569.3 450.3,573.4 451.3,577.6 452.3,581.7 453.3,585.8 454.3,590.0 455.3,594.1 456.3,598.2 457.3,602.3 458.3,606.4 459.3,610.4 460.3,614.5 461.3,618.5 462.3,622.5 463.3,626.4 464.3,630.3 465.3,634.2 466.3,638.1 467.3,641.9 468.3,645.6 469.3,649.4 470.3,653.1 471.3,656.8 472.3,660.4 473.3,664.0 474.3,667.6 475.3,671.1 476.3,674.5 477.3,678.0 478.3,681.4 479.3,684.7 480.3,688.1 481.3,691.4 482.3,694.8 483.3,698.1 484.3,701.3 485.3,704.6 486.3,707.9 487.3,711.1 488.3,714.3 489.3,717.4 490.3,720.6 491.3,723.7 492.3,726.8 493.3,729.8 494.3,732.9 495.3,735.9 496.3,738.8 497.3,741.7 498.3,744.6 499.3,747.4 500.3,750.3 501.3,753.0 502.3,755.8 503.3,758.4 504.3,761.1 505.3,763.7 506.3,766.2 507.3,768.7 508.3,771.1 509.3,773.4 510.3,775.7 511.3,777.9 512.3,780.1 513.3,782.3 514.3,784.3 515.3,786.3 516.3,788.3 517.3,790.2 518.3,792.1 519.3,793.9 520.3,795.7 521.3,797.4 522.3,799.0 523.3,800.6 524.3,802.1 525.3,803.6 526.3,805.0 527.3,806.4 528.3,807.7 529.3,809.0 530.3,810.2 531.3,811.5 532.3,812.7 533.3,813.9 534.3,815.0 535.3,816.1 536.3,817.3 537.3,818.4 538.3,819.4 539.3,820.5 540.3,821.5 541.3,822.6 542.3,823.6 543.3,824.6 544.3,825.6 545.3,826.6 546.3,827.5 547.3,828.5 548.3,829.4 549.3,830.4 550.3,831.3 551.3,832.2 552.3,833.2 553.3,834.1 554.3,835.1 555.3,836.0 556.3,836.9 557.3,837.8 558.3,838.7 559.3,839.6 560.3,840.5 563.3,843.0 566.3,845.3 569.3,847.3 572.3,849.2 575.3,850.8 578.3,852.3 581.3,853.7 584.3,855.1 587.3,856.4 590.3,857.7 593.3,859.0 596.3,860.2 599.3,861.3 602.3,862.4 605.3,863.4 608.3,864.4 611.3,865.2 614.3,865.9 617.3,866.6 620.3,867.2 623.3,867.8 626.3,868.4 629.3,868.8 632.3,869.2 635.3,869.6 638.3,869.8 641.3,870.0 644.3,870.2 647.3,870.4 650.3,870.4 653.3,870.5 656.3,870.5 659.3,870.5 662.3,870.5 665.3,870.5 668.3,870.5 671.3,870.5 674.3,870.5 677.3,870.4 680.3,870.4 683.3,870.4 686.3,870.3 689.3,870.2 692.3,870.0 695.3,869.9 698.3,869.6 701.3,869.4 704.3,869.1 707.3,868.9 710.3,868.6 713.3,868.3 716.3,868.0 719.3,867.6 722.3,867.3 725.3,867.0 728.3,866.7 731.3,866.4 734.3,866.0 737.3,865.7 740.3,865.4 743.3,865.1 746.3,864.7 749.3,864.4 752.3,864.1 755.3,863.7 758.3,863.4 761.3,863.1 764.3,862.7 767.3,862.4 770.3,862.1 773.3,861.7 776.3,861.4 779.3,861.1 782.3,860.7 785.3,860.4 788.3,860.0 791.3,859.7 794.3,859.3 797.3,858.9 800.3,858.5 803.3,858.0 806.3,857.5 809.3,857.0 812.3,856.5 815.3,855.9 818.3,855.3 821.3,854.8 824.3,854.2 827.3,853.5 830.3,852.9 833.3,852.3 836.3,851.6 839.3,851.0 842.3,850.4 845.3,849.8 848.3,849.1 851.3,848.5 854.3,847.9 857.3,847.3 860.3,846.7 863.3,846.2 866.3,845.6 869.3,845.0 872.3,844.5 875.3,843.9 878.3,843.4 881.3,842.8 884.3,842.2 887.3,841.7 890.3,841.1 893.3,840.6 896.3,840.0 899.3,839.4 902.3,838.9 905.3,838.3 908.3,837.8 911.3,837.2 914.3,836.7 917.3,836.1 920.3,835.6 923.3,835.1 926.3,834.6 929.3,834.1 932.3,833.5 935.3,833.0 938.3,832.5 941.3,832.1 944.3,831.6 947.3,831.1 950.3,830.6 953.3,830.2 956.3,829.8 959.3,829.4 962.3,829.0 965.3,828.6 968.3,828.3 971.3,828.0 974.3,827.7 977.3,827.4 980.3,827.2 983.3,827.0 986.3,826.8 989.3,826.6 992.3,826.5 995.3,826.4 998.3,826.3 1001.3,826.2 1004.3,826.2 1007.3,826.2 1010.3,826.1 1013.3,826.1 1016.3,826.2 1019.3,826.2 1022.3,826.3 1025.3,826.5 1028.3,826.6 1031.3,826.8 1034.3,827.0 1037.3,827.3 1040.3,827.6 1043.3,827.9 1046.3,828.3 1049.3,828.7 1052.3,829.2 1055.3,829.8 1058.3,830.5 1061.3,831.2 1064.3,831.9 1067.3,832.7 1070.3,833.5 1073.3,834.2 1076.3,835.0 1079.3,835.7 1082.3,836.4 1085.3,837.1 1088.3,837.7 1091.3,838.4 1094.3,839.0 1097.3,839.7 1100.3,840.4 1103.3,841.1 1106.3,841.9 1109.3,842.6 1112.3,843.4 1115.3,844.1 1118.3,844.9 1121.3,845.7 1124.3,846.5 1127.3,847.3 1130.3,848.1 1133.3,848.9 1136.3,849.7 1139.3,850.4 1142.3,851.2 1145.3,852.1 1148.3,852.9 1151.3,853.7 1154.3,854.6 1157.3,855.5 1160.3,856.4 1163.3,857.4 1166.3,858.3 1169.3,859.3 1172.3,860.3 1175.3,861.3 1178.3,862.3 1181.3,863.4 1184.3,864.4 1187.3,865.6 1190.3,866.7 1193.3,867.9 1196.3,869.1 1199.3,870.3 1202.3,871.5 1205.3,872.7 1208.3,873.9 1211.3,875.1 1214.3,876.3 1217.3,877.5 1220.3,878.7 1223.3,879.9 1226.3,881.1 1229.3,882.2 1232.3,883.4 1235.3,884.6 1238.3,885.8 1241.3,887.0 1244.3,888.2 1247.3,889.4 1250.3,890.6 1253.3,891.8 1256.3,893.0 1259.3,894.3 1262.3,895.5 1265.3,896.7 1268.3,897.9 1271.3,899.1 1274.3,900.3 1277.3,901.5 1280.3,902.6 1283.3,903.8 1286.3,905.0 1289.3,906.2 1292.3,907.3 1295.3,908.5 1298.3,909.7 1301.3,910.8 1304.3,912.0 1307.3,913.1 1310.3,914.3 1313.3,915.5 1316.3,916.6 1319.3,917.7 1322.3,918.9 1325.3,920.0 1328.3,921.2 1331.3,922.3 1334.3,923.4 1337.3,924.5 1340.3,925.6 1343.3,926.7 1346.3,927.8 1349.3,928.9 1352.3,929.9 1355.3,931.0 1358.3,932.0 1361.3,933.1 1364.3,934.1 1367.3,935.1 1370.3,936.2 1373.3,937.2 1376.3,938.2 1379.3,939.2 1382.3,940.2 1385.3,941.2 1388.3,942.1 1391.3,943.1 1394.3,944.1 1397.3,945.0 1400.3,946.0 1403.3,946.9 1406.3,947.9 1409.3,948.8 1412.3,949.7 1415.3,950.7 1418.3,951.6 1421.3,952.5 1424.3,953.4 1427.3,954.3 1430.3,955.2 1433.3,956.1 1436.3,956.9 1439.3,957.8 1442.3,958.7 1445.3,959.5 1448.3,960.4 1451.3,961.2 1454.3,962.0 1457.3,962.9 1460.3,963.7 1463.3,964.5 1466.3,965.3 1469.3,966.1 1472.3,966.9 1475.3,967.7 1478.3,968.4 1481.3,969.2 1484.3,970.0 1487.3,970.8 1490.3,971.5 1493.3,972.3 1496.3,973.0 1499.3,973.8 1502.3,974.5 1505.3,975.3 1508.3,976.0 1511.3,976.8 1514.3,977.5 1517.3,978.3 1520.3,979.0 1523.3,979.7 1526.3,980.5 1529.3,981.2 1532.3,981.9 1535.3,982.6 1538.3,983.3 1541.3,984.0 1544.3,984.7 1547.3,985.4 1550.3,986.1 1553.3,986.8 1556.3,987.5 1559.3,988.1 1562.3,988.8 1565.3,989.5 1568.3,990.1 1571.3,990.8 1574.3,991.4 1577.3,992.1 1580.3,992.7 1583.3,993.4 1586.3,994.0 1589.3,994.7 1592.3,995.3 1595.3,995.9 1598.3,996.6 1601.3,997.2 1604.3,997.9 1607.3,998.5 1610.3,999.1 1613.3,999.8 1616.3,1000.4 1619.3,1001.0 1622.3,1001.7 1625.3,1002.3 1628.3,1003.0 1631.3,1003.6 1634.3,1004.2 1637.3,1004.9 1640.3,1005.5 1643.3,1006.1 1646.3,1006.8 1649.3,1007.4 1652.3,1008.0 1655.3,1008.7 1658.3,1009.3 1661.3,1009.9 1664.3,1010.6 1667.3,1011.2 1670.3,1011.8 1673.3,1012.5 1676.3,1013.1 1679.3,1013.8 1682.3,1014.5 1685.3,1015.1 1688.3,1015.8 1691.3,1016.5 1694.3,1017.2 1697.3,1018.0 1700.3,1018.7 1703.3,1019.4 1706.3,1020.2 1709.3,1021.0 1712.3,1021.8 1715.3,1022.6 1718.3,1023.4 1721.3,1024.2 1724.3,1025.1 1727.3,1025.9 1730.3,1026.8 1733.3,1027.6 1736.3,1028.4 1739.3,1029.2 1742.3,1030.0 1745.3,1030.8 1748.3,1031.6 1751.3,1032.3 1754.3,1033.1 1757.3,1033.8 1760.3,1034.4 1763.3,1035.1 1766.3,1035.7 1769.3,1036.3 1772.3,1036.9 1775.3,1037.5 1778.3,1038.0 1781.3,1038.5 1784.3,1039.0 1787.3,1039.5 1790.3,1040.0 1793.3,1040.4 1796.3,1040.9 1799.3,1041.3 1802.3,1041.7 1805.3,1042.2 1808.3,1042.6 1811.3,1043.0 1814.3,1043.4 1817.3,1043.7 1820.3,1044.1 1823.3,1044.5 1826.3,1044.8 1829.3,1045.2 1832.3,1045.5 1835.3,1045.9 1838.3,1046.2 1841.3,1046.5 1844.3,1046.9 1847.3,1047.2 1850.3,1047.5 1853.3,1047.8 1856.3,1048.1 1859.3,1048.3 1861.0,1048.5"/>
<path stroke="#2e64b4" d="M274.3,625.2 275.3,617.9 276.3,610.5 277.3,603.1 278.3,595.6 279.3,588.1 280.3,580.5 281.3,573.0 282.3,565.4 283.3,557.9 284.3,550.3 285.3,542.9 286.3,535.4 287.3,528.1 288.3,520.9 289.3,513.8 290.3,506.9 291.3,500.2 292.3,493.7 293.3,487.3 294.3,481.3 295.3,475.4 296.3,469.7 297.3,464.1 298.3,458.7 299.3,453.4 300.3,448.2 301.3,443.0 302.3,437.9 303.3,432.8 304.3,427.8 305.3,422.8 306.3,417.9 307.3,412.9 308.3,408.0 309.3,403.1 310.3,398.2 311.3,393.3 312.3,388.4 313.3,383.4 314.3,378.4 315.3,373.3 316.3,368.3 317.3,363.3 318.3,358.3 319.3,353.4 320.3,348.6 321.3,343.9 322.3,339.3 323.3,334.7 324.3,330.3 325.3,325.9 326.3,321.7 327.3,317.6 328.3,313.7 329.3,310.0 330.3,306.5 331.3,303.1 332.3,300.0 333.3,297.1 334.3,294.4 335.3,291.9 336.3,289.6 337.3,287.5 338.3,285.6 339.3,283.9 340.3,282.3 341.3,280.9 342.3,279.6 343.3,278.4 344.3,277.4 345.3,276.5 346.3,275.6 347.3,274.9 348.3,274.2 349.3,273.6 350.3,273.1 351.3,272.7 352.3,272.4 353.3,272.1 354.3,271.9 355.3,271.8 356.3,271.7 357.3,271.7 358.3,271.7 359.3,271.8 360.3,272.0 361.3,272.3 362.3,272.7 363.3,273.1 364.3,273.7 365.3,274.4 366.3,275.2 367.3,276.1 368.3,277.1 369.3,278.3 370.3,279.7 371.3,281.1 372.3,282.7 373.3,284.4 374.3,286.2 375.3,288.0 376.3,289.9 377.3,291.9 378.3,293.9 379.3,295.9 380.3,298.0 381.3,300.2 382.3,302.4 383.3,304.7 384.3,307.1 385.3,309.6 386.3,312.2 387.3,314.8 388.3,317.6 389.3,320.5 390.3,323.5 391.3,326.5 392.3,329.7 393.3,333.0 394.3,336.4 395.3,339.9 396.3,343.5 397.3,347.2 398.3,351.0 399.3,354.9 400.3,358.9 401.3,363.0 402.3,367.1 403.3,371.3 404.3,375.6 405.3,379.8 406.3,384.1 407.3,388.4 408.3,392.8 409.3,397.1 410.3,401.4 411.3,405.7 412.3,409.9 413.3,414.2 414.3,418.4 415.3,422.7 416.3,426.9 417.3,431.1 418.3,435.4 419.3,439.6 420.3,443.8 421.3,448.0 422.3,452.2 423.3,456.4 424.3,460.5 425.3,464.7 426.3,468.9 427.3,473.0 428.3,477.1 429.3,481.3 430.3,485.4 431.3,489.5 432.3,493.7 433.3,497.8 434.3,501.9 435.3,506.0 436.3,510.1 437.3,514.2 438.3,518.3 439.3,522.5 440.3,526.6 441.3,530.7 442.3,534.8 443.3,538.9 444.3,543.0 445.3,547.2 446.3,551.3 447.3,555.4 448.3,559.6 449.3,563.7 450.3,567.9 451.3,572.0 452.3,576.1 453.3,580.3 454.3,584.4 455.3,588.6 456.3,592.7 457.3,596.8 458.3,601.0 459.3,605.0 460.3,609.1 461.3,613.2 462.3,617.2 463.3,621.2 464.3,625.2 465.3,629.1 466.3,633.0 467.3,636.9 468.3,640.7 469.3,644.5 470.3,648.3 471.3,652.0 472.3,655.7 473.3,659.3 474.3,662.9 475.3,666.5 476.3,670.0 477.3,673.4 478.3,676.9 479.3,680.3 480.3,683.7 481.3,687.0 482.3,690.4 483.3,693.7 484.3,697.0 485.3,700.3 486.3,703.6 487.3,706.9 488.3,710.1 489.3,713.3 490.3,716.5 491.3,719.7 492.3,722.8 493.3,725.9 494.3,729.0 495.3,732.0 496.3,735.0 497.3,738.0 498.3,740.9 499.3,743.8 500.3,746.7 501.3,749.5 502.3,752.3 503.3,755.0 504.3,757.7 505.3,760.4 506.3,763.0 507.3,765.5 508.3,768.0 509.3,770.4 510.3,772.8 511.3,775.1 512.3,777.3 513.3,779.5 514.3,781.7 515.3,783.8 516.3,785.9 517.3,787.9 518.3,789.8 519.3,791.7 520.3,793.6 521.3,795.3 522.3,797.0 523.3,798.7 524.3,800.3 525.3,801.8 526.3,803.3 527.3,804.8 528.3,806.1 529.3,807.5 530.3,808.8 531.3,810.1 532.3,811.4 533.3,812.6 534.3,813.9 535.3,815.1 536.3,816.2 537.3,817.4 538.3,818.6 539.3,819.7 540.3,820.8 541.3,821.9 542.3,823.0 543.3,824.0 544.3,825.1 545.3,826.1 546.3,827.2 547.3,828.2 548.3,829.2 549.3,830.2 550.3,831.2 551.3,832.2 552.3,833.2 553.3,834.2 554.3,835.2 555.3,836.2 556.3,837.1 557.3,838.1 558.3,839.0 559.3,840.0 560.3,840.9 563.3,843.5 566.3,845.9 569.3,848.1 572.3,850.0 575.3,851.7 578.3,853.3 581.3,854.8 584.3,856.2 587.3,857.7 590.3,859.1 593.3,860.4 596.3,861.7 599.3,863.0 602.3,864.2 605.3,865.3 608.3,866.3 611.3,867.3 614.3,868.1 617.3,868.9 620.3,869.6 623.3,870.3 626.3,871.0 629.3,871.5 632.3,872.0 635.3,872.4 638.3,872.8 641.3,873.1 644.3,873.4 647.3,873.6 650.3,873.8 653.3,873.9 656.3,874.0 659.3,874.1 662.3,874.2 665.3,874.3 668.3,874.3 671.3,874.4 674.3,874.5 677.3,874.6 680.3,874.6 683.3,874.6 686.3,874.6 689.3,874.6 692.3,874.6 695.3,874.5 698.3,874.3 701.3,874.2 704.3,874.0 707.3,873.8 710.3,873.6 713.3,873.4 716.3,873.2 719.3,873.0 722.3,872.8 725.3,872.5 728.3,872.3 731.3,872.1 734.3,871.9 737.3,871.7 740.3,871.4 743.3,871.2 746.3,871.0 749.3,870.7 752.3,870.5 755.3,870.2 758.3,870.0 761.3,869.7 764.3,869.5 767.3,869.2 770.3,869.0 773.3,868.7 776.3,868.5 779.3,868.2 782.3,867.9 785.3,867.7 788.3,867.4 791.3,867.1 794.3,866.8 797.3,866.5 800.3,866.1 803.3,865.7 806.3,865.3 809.3,864.9 812.3,864.4 815.3,863.9 818.3,863.4 821.3,862.9 824.3,862.3 827.3,861.7 830.3,861.2 833.3,860.6 836.3,860.0 839.3,859.4 842.3,858.8 845.3,858.3 848.3,857.7 851.3,857.1 854.3,856.6 857.3,856.0 860.3,855.5 863.3,855.0 866.3,854.5 869.3,854.0 872.3,853.5 875.3,853.0 878.3,852.5 881.3,852.0 884.3,851.5 887.3,851.1 890.3,850.6 893.3,850.1 896.3,849.6 899.3,849.1 902.3,848.6 905.3,848.1 908.3,847.7 911.3,847.2 914.3,846.7 917.3,846.3 920.3,845.8 923.3,845.4 926.3,844.9 929.3,844.5 932.3,844.0 935.3,843.6 938.3,843.2 941.3,842.7 944.3,842.3 947.3,841.9 950.3,841.4 953.3,841.0 956.3,840.7 959.3,840.3 962.3,840.0 965.3,839.7 968.3,839.4 971.3,839.1 974.3,838.8 977.3,838.6 980.3,838.4 983.3,838.2 986.3,838.1 989.3,837.9 992.3,837.8 995.3,837.7 998.3,837.6 1001.3,837.6 1004.3,837.5 1007.3,837.5 1010.3,837.5 1013.3,837.5 1016.3,837.5 1019.3,837.6 1022.3,837.7 1025.3,837.8 1028.3,838.0 1031.3,838.2 1034.3,838.4 1037.3,838.6 1040.3,838.9 1043.3,839.2 1046.3,839.6 1049.3,840.0 1052.3,840.5 1055.3,841.1 1058.3,841.7 1061.3,842.4 1064.3,843.1 1067.3,843.9 1070.3,844.6 1073.3,845.4 1076.3,846.1 1079.3,846.8 1082.3,847.4 1085.3,848.1 1088.3,848.7 1091.3,849.3 1094.3,849.9 1097.3,850.6 1100.3,851.2 1103.3,851.9 1106.3,852.6 1109.3,853.3 1112.3,854.0 1115.3,854.7 1118.3,855.4 1121.3,856.2 1124.3,856.9 1127.3,857.6 1130.3,858.3 1133.3,859.1 1136.3,859.8 1139.3,860.5 1142.3,861.3 1145.3,862.1 1148.3,862.9 1151.3,863.7 1154.3,864.6 1157.3,865.4 1160.3,866.3 1163.3,867.2 1166.3,868.2 1169.3,869.1 1172.3,870.1 1175.3,871.0 1178.3,872.0 1181.3,873.0 1184.3,874.1 1187.3,875.1 1190.3,876.2 1193.3,877.3 1196.3,878.4 1199.3,879.5 1202.3,880.6 1205.3,881.8 1208.3,882.9 1211.3,884.0 1214.3,885.1 1217.3,886.3 1220.3,887.4 1223.3,888.5 1226.3,889.7 1229.3,890.8 1232.3,891.9 1235.3,893.0 1238.3,894.2 1241.3,895.3 1244.3,896.4 1247.3,897.6 1250.3,898.7 1253.3,899.9 1256.3,901.0 1259.3,902.2 1262.3,903.3 1265.3,904.5 1268.3,905.6 1271.3,906.8 1274.3,907.9 1277.3,909.0 1280.3,910.1 1283.3,911.3 1286.3,912.4 1289.3,913.5 1292.3,914.6 1295.3,915.7 1298.3,916.8 1301.3,917.9 1304.3,919.0 1307.3,920.1 1310.3,921.2 1313.3,922.3 1316.3,923.3 1319.3,924.4 1322.3,925.5 1325.3,926.6 1328.3,927.7 1331.3,928.7 1334.3,929.8 1337.3,930.8 1340.3,931.9 1343.3,932.9 1346.3,933.9 1349.3,934.9 1352.3,935.9 1355.3,936.9 1358.3,937.9 1361.3,938.9 1364.3,939.8 1367.3,940.8 1370.3,941.8 1373.3,942.7 1376.3,943.6 1379.3,944.6 1382.3,945.5 1385.3,946.4 1388.3,947.3 1391.3,948.3 1394.3,949.2 1397.3,950.0 1400.3,950.9 1403.3,951.8 1406.3,952.7 1409.3,953.6 1412.3,954.4 1415.3,955.3 1418.3,956.1 1421.3,957.0 1424.3,957.8 1427.3,958.7 1430.3,959.5 1433.3,960.3 1436.3,961.1 1439.3,962.0 1442.3,962.8 1445.3,963.6 1448.3,964.4 1451.3,965.2 1454.3,965.9 1457.3,966.7 1460.3,967.5 1463.3,968.3 1466.3,969.0 1469.3,969.8 1472.3,970.5 1475.3,971.3 1478.3,972.0 1481.3,972.7 1484.3,973.5 1487.3,974.2 1490.3,974.9 1493.3,975.6 1496.3,976.4 1499.3,977.1 1502.3,977.8 1505.3,978.5 1508.3,979.2 1511.3,979.9 1514.3,980.6 1517.3,981.3 1520.3,982.0 1523.3,982.7 1526.3,983.4 1529.3,984.1 1532.3,984.8 1535.3,985.5 1538.3,986.1 1541.3,986.8 1544.3,987.5 1547.3,988.1 1550.3,988.8 1553.3,989.4 1556.3,990.1 1559.3,990.7 1562.3,991.3 1565.3,992.0 1568.3,992.6 1571.3,993.2 1574.3,993.8 1577.3,994.5 1580.3,995.1 1583.3,995.7 1586.3,996.3 1589.3,996.9 1592.3,997.5 1595.3,998.1 1598.3,998.7 1601.3,999.3 1604.3,999.9 1607.3,1000.6 1610.3,1001.2 1613.3,1001.8 1616.3,1002.4 1619.3,1003.0 1622.3,1003.6 1625.3,1004.2 1628.3,1004.8 1631.3,1005.4 1634.3,1006.0 1637.3,1006.6 1640.3,1007.3 1643.3,1007.9 1646.3,1008.5 1649.3,1009.1 1652.3,1009.7 1655.3,1010.3 1658.3,1010.9 1661.3,1011.5 1664.3,1012.1 1667.3,1012.7 1670.3,1013.3 1673.3,1014.0 1676.3,1014.6 1679.3,1015.2 1682.3,1015.9 1685.3,1016.5 1688.3,1017.2 1691.3,1017.8 1694.3,1018.5 1697.3,1019.2 1700.3,1019.9 1703.3,1020.7 1706.3,1021.4 1709.3,1022.2 1712.3,1022.9 1715.3,1023.7 1718.3,1024.5 1721.3,1025.3 1724.3,1026.1 1727.3,1026.9 1730.3,1027.7 1733.3,1028.5 1736.3,1029.3 1739.3,1030.1 1742.3,1030.8 1745.3,1031.6 1748.3,1032.4 1751.3,1033.1 1754.3,1033.8 1757.3,1034.5 1760.3,1035.1 1763.3,1035.7 1766.3,1036.3 1769.3,1036.9 1772.3,1037.5 1775.3,1038.0 1778.3,1038.5 1781.3,1039.0 1784.3,1039.5 1787.3,1040.0 1790.3,1040.4 1793.3,1040.8 1796.3,1041.3 1799.3,1041.7 1802.3,1042.1 1805.3,1042.5 1808.3,1042.9 1811.3,1043.3 1814.3,1043.7 1817.3,1044.0 1820.3,1044.4 1823.3,1044.7 1826.3,1045.1 1829.3,1045.4 1832.3,1045.8 1835.3,1046.1 1838.3,1046.4 1841.3,1046.7 1844.3,1047.0 1847.3,1047.3 1850.3,1047.6 1853.3,1047.9 1856.3,1048.2 1859.3,1048.4 1861.0,1048.6"/>
<path stroke="#1e96a5" d="M274.3,632.3 275.3,625.1 276.3,617.8 277.3,610.4 278.3,602.9 279.3,595.4 280.3,587.8 281.3,580.2 282.3,572.6 283.3,564.9 284.3,557.2 285.3,549.5 286.3,541.9 287.3,534.4 288.3,526.9 289.3,519.6 290.3,512.5 291.3,505.5 292.3,498.8 293.3,492.3 294.3,486.1 295.3,480.1 296.3,474.3 297.3,468.6 298.3,463.1 299.3,457.7 300.3,452.4 301.3,447.2 302.3,442.0 303.3,437.0 304.3,431.9 305.3,426.9 306.3,422.0 307.3,417.1 308.3,412.2 309.3,407.3 310.3,402.5 311.3,397.6 312.3,392.7 313.3,387.8 314.3,382.8 315.3,377.7 316.3,372.6 317.3,367.5 318.3,362.5 319.3,357.5 320.3,352.5 321.3,347.6 322.3,342.8 323.3,338.0 324.3,333.3 325.3,328.7 326.3,324.2 327.3,319.8 328.3,315.6 329.3,311.7 330.3,307.9 331.3,304.3 332.3,301.0 333.3,297.8 334.3,294.9 335.3,292.2 336.3,289.8 337.3,287.5 338.3,285.5 339.3,283.7 340.3,282.1 341.3,280.6 342.3,279.2 343.3,278.0 344.3,276.9 345.3,275.9 346.3,275.0 347.3,274.2 348.3,273.4 349.3,272.8 350.3,272.3 351.3,271.8 352.3,271.4 353.3,271.1 354.3,270.9 355.3,270.7 356.3,270.6 357.3,270.5 358.3,270.5 359.3,270.6 360.3,270.7 361.3,270.9 362.3,271.2 363.3,271.7 364.3,272.2 365.3,272.8 366.3,273.5 367.3,274.3 368.3,275.2 369.3,276.3 370.3,277.5 371.3,278.8 372.3,280.3 373.3,281.8 374.3,283.5 375.3,285.2 376.3,287.0 377.3,288.8 378.3,290.7 379.3,292.7 380.3,294.7 381.3,296.7 382.3,298.9 383.3,301.1 384.3,303.4 385.3,305.8 386.3,308.2 387.3,310.8 388.3,313.5 389.3,316.2 390.3,319.1 391.3,322.0 392.3,325.1 393.3,328.2 394.3,331.5 395.3,334.9 396.3,338.4 397.3,342.1 398.3,345.8 399.3,349.7 400.3,353.6 401.3,357.7 402.3,361.8 403.3,366.0 404.3,370.2 405.3,374.5 406.3,378.8 407.3,383.1 408.3,387.5 409.3,391.8 410.3,396.1 411.3,400.4 412.3,404.7 413.3,409.0 414.3,413.2 415.3,417.5 416.3,421.7 417.3,426.0 418.3,430.2 419.3,434.4 420.3,438.7 421.3,442.9 422.3,447.1 423.3,451.3 424.3,455.5 425.3,459.6 426.3,463.8 427.3,468.0 428.3,472.1 429.3,476.3 430.3,480.4 431.3,484.5 432.3,488.7 433.3,492.8 434.3,496.9 435.3,501.0 436.3,505.2 437.3,509.3 438.3,513.4 439.3,517.5 440.3,521.6 441.3,525.7 442.3,529.9 443.3,534.0 444.3,538.1 445.3,542.2 446.3,546.4 447.3,550.5 448.3,554.6 449.3,558.8 450.3,562.9 451.3,567.1 452.3,571.2 453.3,575.4 454.3,579.6 455.3,583.7 456.3,587.9 457.3,592.0 458.3,596.2 459.3,600.3 460.3,604.4 461.3,608.5 462.3,612.5 463.3,616.6 464.3,620.6 465.3,624.6 466.3,628.5 467.3,632.4 468.3,636.3 469.3,640.2 470.3,644.0 471.3,647.8 472.3,651.5 473.3,655.2 474.3,658.9 475.3,662.4 476.3,666.0 477.3,669.5 478.3,672.9 479.3,676.3 480.3,679.7 481.3,683.1 482.3,686.5 483.3,689.9 484.3,693.2 485.3,696.5 486.3,699.8 487.3,703.1 488.3,706.4 489.3,709.7 490.3,712.9 491.3,716.1 492.3,719.3 493.3,722.4 494.3,725.5 495.3,728.6 496.3,731.6 497.3,734.7 498.3,737.6 499.3,740.6 500.3,743.5 501.3,746.4 502.3,749.2 503.3,752.0 504.3,754.7 505.3,757.4 506.3,760.1 507.3,762.7 508.3,765.2 509.3,767.7 510.3,770.1 511.3,772.5 512.3,774.9 513.3,777.2 514.3,779.4 515.3,781.6 516.3,783.7 517.3,785.8 518.3,787.8 519.3,789.8 520.3,791.7 521.3,793.5 522.3,795.3 523.3,797.0 524.3,798.7 525.3,800.3 526.3,801.8 527.3,803.3 528.3,804.8 529.3,806.2 530.3,807.6 531.3,808.9 532.3,810.3 533.3,811.6 534.3,812.8 535.3,814.1 536.3,815.3 537.3,816.6 538.3,817.8 539.3,819.0 540.3,820.1 541.3,821.3 542.3,822.4 543.3,823.5 544.3,824.6 545.3,825.7 546.3,826.8 547.3,827.9 548.3,829.0 549.3,830.1 550.3,831.1 551.3,832.2 552.3,833.2 553.3,834.3 554.3,835.3 555.3,836.3 556.3,837.3 557.3,838.3 558.3,839.3 559.3,840.3 560.3,841.2 563.3,843.9 566.3,846.4 569.3,848.7 572.3,850.7 575.3,852.5 578.3,854.2 581.3,855.7 584.3,857.3 587.3,858.8 590.3,860.3 593.3,861.7 596.3,863.1 599.3,864.5 602.3,865.8 605.3,867.0 608.3,868.1 611.3,869.1 614.3,870.0 617.3,870.9 620.3,871.7 623.3,872.5 626.3,873.2 629.3,873.9 632.3,874.5 635.3,875.0 638.3,875.4 641.3,875.8 644.3,876.2 647.3,876.5 650.3,876.7 653.3,876.9 656.3,877.1 659.3,877.3 662.3,877.4 665.3,877.6 668.3,877.8 671.3,877.9 674.3,878.1 677.3,878.2 680.3,878.3 683.3,878.4 686.3,878.5 689.3,878.6 692.3,878.6 695.3,878.5 698.3,878.5 701.3,878.4 704.3,878.3 707.3,878.2 710.3,878.1 713.3,878.0 716.3,877.9 719.3,877.7 722.3,877.6 725.3,877.5 728.3,877.3 731.3,877.2 734.3,877.1 737.3,876.9 740.3,876.8 743.3,876.6 746.3,876.5 749.3,876.3 752.3,876.2 755.3,876.0 758.3,875.8 761.3,875.6 764.3,875.5 767.3,875.3 770.3,875.1 773.3,874.9 776.3,874.7 779.3,874.5 782.3,874.3 785.3,874.1 788.3,873.9 791.3,873.7 794.3,873.4 797.3,873.2 800.3,872.9 803.3,872.6 806.3,872.2 809.3,871.8 812.3,871.4 815.3,871.0 818.3,870.5 821.3,870.0 824.3,869.5 827.3,869.0 830.3,868.5 833.3,867.9 836.3,867.4 839.3,866.9 842.3,866.3 845.3,865.8 848.3,865.3 851.3,864.7 854.3,864.2 857.3,863.7 860.3,863.3 863.3,862.8 866.3,862.4 869.3,861.9 872.3,861.5 875.3,861.1 878.3,860.6 881.3,860.2 884.3,859.8 887.3,859.4 890.3,858.9 893.3,858.5 896.3,858.1 899.3,857.7 902.3,857.3 905.3,856.8 908.3,856.4 911.3,856.0 914.3,855.6 917.3,855.2 920.3,854.8 923.3,854.4 926.3,854.1 929.3,853.7 932.3,853.3 935.3,852.9 938.3,852.5 941.3,852.1 944.3,851.8 947.3,851.4 950.3,851.0 953.3,850.7 956.3,850.3 959.3,850.0 962.3,849.7 965.3,849.4 968.3,849.1 971.3,848.9 974.3,848.7 977.3,848.5 980.3,848.3 983.3,848.2 986.3,848.0 989.3,847.9 992.3,847.8 995.3,847.7 998.3,847.6 1001.3,847.6 1004.3,847.5 1007.3,847.5 1010.3,847.5 1013.3,847.5 1016.3,847.5 1019.3,847.6 1022.3,847.7 1025.3,847.8 1028.3,848.0 1031.3,848.2 1034.3,848.4 1037.3,848.7 1040.3,848.9 1043.3,849.2 1046.3,849.6 1049.3,850.0 1052.3,850.5 1055.3,851.1 1058.3,851.7 1061.3,852.3 1064.3,853.0 1067.3,853.8 1070.3,854.5 1073.3,855.2 1076.3,855.9 1079.3,856.6 1082.3,857.2 1085.3,857.8 1088.3,858.4 1091.3,859.0 1094.3,859.5 1097.3,860.1 1100.3,860.7 1103.3,861.4 1106.3,862.0 1109.3,862.7 1112.3,863.3 1115.3,864.0 1118.3,864.7 1121.3,865.4 1124.3,866.1 1127.3,866.7 1130.3,867.4 1133.3,868.1 1136.3,868.8 1139.3,869.5 1142.3,870.2 1145.3,870.9 1148.3,871.7 1151.3,872.5 1154.3,873.3 1157.3,874.2 1160.3,875.1 1163.3,876.0 1166.3,876.9 1169.3,877.8 1172.3,878.7 1175.3,879.7 1178.3,880.6 1181.3,881.6 1184.3,882.6 1187.3,883.6 1190.3,884.6 1193.3,885.6 1196.3,886.7 1199.3,887.7 1202.3,888.8 1205.3,889.8 1208.3,890.9 1211.3,891.9 1214.3,893.0 1217.3,894.1 1220.3,895.1 1223.3,896.2 1226.3,897.3 1229.3,898.3 1232.3,899.4 1235.3,900.5 1238.3,901.6 1241.3,902.6 1244.3,903.7 1247.3,904.8 1250.3,905.9 1253.3,907.0 1256.3,908.1 1259.3,909.2 1262.3,910.3 1265.3,911.4 1268.3,912.5 1271.3,913.5 1274.3,914.6 1277.3,915.7 1280.3,916.8 1283.3,917.8 1286.3,918.9 1289.3,919.9 1292.3,921.0 1295.3,922.0 1298.3,923.1 1301.3,924.1 1304.3,925.2 1307.3,926.2 1310.3,927.2 1313.3,928.3 1316.3,929.3 1319.3,930.3 1322.3,931.4 1325.3,932.4 1328.3,933.4 1331.3,934.4 1334.3,935.4 1337.3,936.4 1340.3,937.4 1343.3,938.3 1346.3,939.3 1349.3,940.3 1352.3,941.2 1355.3,942.1 1358.3,943.1 1361.3,944.0 1364.3,944.9 1367.3,945.8 1370.3,946.7 1373.3,947.6 1376.3,948.5 1379.3,949.4 1382.3,950.2 1385.3,951.1 1388.3,951.9 1391.3,952.8 1394.3,953.6 1397.3,954.5 1400.3,955.3 1403.3,956.1 1406.3,956.9 1409.3,957.8 1412.3,958.6 1415.3,959.4 1418.3,960.2 1421.3,961.0 1424.3,961.8 1427.3,962.5 1430.3,963.3 1433.3,964.1 1436.3,964.9 1439.3,965.6 1442.3,966.4 1445.3,967.2 1448.3,967.9 1451.3,968.7 1454.3,969.4 1457.3,970.1 1460.3,970.9 1463.3,971.6 1466.3,972.3 1469.3,973.0 1472.3,973.7 1475.3,974.4 1478.3,975.2 1481.3,975.9 1484.3,976.5 1487.3,977.2 1490.3,977.9 1493.3,978.6 1496.3,979.3 1499.3,980.0 1502.3,980.7 1505.3,981.3 1508.3,982.0 1511.3,982.7 1514.3,983.4 1517.3,984.0 1520.3,984.7 1523.3,985.3 1526.3,986.0 1529.3,986.7 1532.3,987.3 1535.3,988.0 1538.3,988.6 1541.3,989.2 1544.3,989.9 1547.3,990.5 1550.3,991.1 1553.3,991.7 1556.3,992.3 1559.3,993.0 1562.3,993.6 1565.3,994.2 1568.3,994.8 1571.3,995.4 1574.3,995.9 1577.3,996.5 1580.3,997.1 1583.3,997.7 1586.3,998.3 1589.3,998.9 1592.3,999.5 1595.3,1000.1 1598.3,1000.6 1601.3,1001.2 1604.3,1001.8 1607.3,1002.4 1610.3,1003.0 1613.3,1003.5 1616.3,1004.1 1619.3,1004.7 1622.3,1005.3 1625.3,1005.9 1628.3,1006.5 1631.3,1007.1 1634.3,1007.6 1637.3,1008.2 1640.3,1008.8 1643.3,1009.4 1646.3,1010.0 1649.3,1010.6 1652.3,1011.1 1655.3,1011.7 1658.3,1012.3 1661.3,1012.9 1664.3,1013.5 1667.3,1014.1 1670.3,1014.7 1673.3,1015.3 1676.3,1015.9 1679.3,1016.5 1682.3,1017.1 1685.3,1017.7 1688.3,1018.4 1691.3,1019.0 1694.3,1019.7 1697.3,1020.3 1700.3,1021.0 1703.3,1021.7 1706.3,1022.4 1709.3,1023.2 1712.3,1023.9 1715.3,1024.7 1718.3,1025.4 1721.3,1026.2 1724.3,1027.0 1727.3,1027.8 1730.3,1028.5 1733.3,1029.3 1736.3,1030.1 1739.3,1030.8 1742.3,1031.6 1745.3,1032.3 1748.3,1033.0 1751.3,1033.7 1754.3,1034.4 1757.3,1035.1 1760.3,1035.7 1763.3,1036.3 1766.3,1036.9 1769.3,1037.4 1772.3,1038.0 1775.3,1038.5 1778.3,1039.0 1781.3,1039.5 1784.3,1039.9 1787.3,1040.4 1790.3,1040.8 1793.3,1041.2 1796.3,1041.6 1799.3,1042.0 1802.3,1042.4 1805.3,1042.8 1808.3,1043.2 1811.3,1043.6 1814.3,1043.9 1817.3,1044.3 1820.3,1044.6 1823.3,1045.0 1826.3,1045.3 1829.3,1045.6 1832.3,1046.0 1835.3,1046.3 1838.3,1046.6 1841.3,1046.9 1844.3,1047.2 1847.3,1047.5 1850.3,1047.7 1853.3,1048.0 1856.3,1048.3 1859.3,1048.5 1861.0,1048.7"/>
<path stroke="#b96420" d="M274.3,636.4 275.3,629.3 276.3,622.0 277.3,614.6 278.3,607.2 279.3,599.7 280.3,592.1 281.3,584.4 282.3,576.7 283.3,569.0 284.3,561.2 285.3,553.4 286.3,545.6 287.3,538.0 288.3,530.4 289.3,522.9 290.3,515.7 291.3,508.6 292.3,501.8 293.3,495.2 294.3,488.9 295.3,482.8 296.3,476.9 297.3,471.2 298.3,465.6 299.3,460.2 300.3,454.9 301.3,449.6 302.3,444.4 303.3,439.3 304.3,434.3 305.3,429.3 306.3,424.3 307.3,419.5 308.3,414.6 309.3,409.8 310.3,404.9 311.3,400.1 312.3,395.2 313.3,390.3 314.3,385.3 315.3,380.2 316.3,375.1 317.3,370.0 318.3,364.9 319.3,359.8 320.3,354.7 321.3,349.7 322.3,344.8 323.3,339.9 324.3,335.0 325.3,330.3 326.3,325.6 327.3,321.1 328.3,316.8 329.3,312.6 330.3,308.7 331.3,305.0 332.3,301.5 333.3,298.2 334.3,295.2 335.3,292.4 336.3,289.9 337.3,287.6 338.3,285.5 339.3,283.6 340.3,281.9 341.3,280.4 342.3,279.0 343.3,277.7 344.3,276.5 345.3,275.5 346.3,274.6 347.3,273.7 348.3,273.0 349.3,272.3 350.3,271.8 351.3,271.3 352.3,270.9 353.3,270.5 354.3,270.3 355.3,270.1 356.3,269.9 357.3,269.8 358.3,269.8 359.3,269.8 360.3,269.9 361.3,270.1 362.3,270.4 363.3,270.8 364.3,271.3 365.3,271.8 366.3,272.5 367.3,273.2 368.3,274.1 369.3,275.1 370.3,276.2 371.3,277.5 372.3,278.9 373.3,280.3 374.3,281.9 375.3,283.6 376.3,285.3 377.3,287.1 378.3,288.9 379.3,290.8 380.3,292.7 381.3,294.8 382.3,296.9 383.3,299.0 384.3,301.3 385.3,303.6 386.3,306.0 387.3,308.5 388.3,311.1 389.3,313.7 390.3,316.5 391.3,319.4 392.3,322.4 393.3,325.5 394.3,328.7 395.3,332.1 396.3,335.5 397.3,339.1 398.3,342.8 399.3,346.6 400.3,350.6 401.3,354.6 402.3,358.7 403.3,362.9 404.3,367.1 405.3,371.4 406.3,375.7 407.3,380.1 408.3,384.4 409.3,388.7 410.3,393.1 411.3,397.4 412.3,401.7 413.3,405.9 414.3,410.2 415.3,414.5 416.3,418.7 417.3,423.0 418.3,427.2 419.3,431.5 420.3,435.7 421.3,439.9 422.3,444.2 423.3,448.4 424.3,452.6 425.3,456.7 426.3,460.9 427.3,465.1 428.3,469.2 429.3,473.4 430.3,477.5 431.3,481.7 432.3,485.8 433.3,489.9 434.3,494.1 435.3,498.2 436.3,502.3 437.3,506.4 438.3,510.5 439.3,514.7 440.3,518.8 441.3,522.9 442.3,527.0 443.3,531.1 444.3,535.3 445.3,539.4 446.3,543.5 447.3,547.6 448.3,551.8 449.3,555.9 450.3,560.1 451.3,564.2 452.3,568.4 453.3,572.6 454.3,576.7 455.3,580.9 456.3,585.1 457.3,589.2 458.3,593.4 459.3,597.5 460.3,601.7 461.3,605.8 462.3,609.9 463.3,613.9 464.3,618.0 465.3,622.0 466.3,626.0 467.3,629.9 468.3,633.8 469.3,637.7 470.3,641.6 471.3,645.4 472.3,649.1 473.3,652.9 474.3,656.5 475.3,660.1 476.3,663.7 477.3,667.2 478.3,670.6 479.3,674.1 480.3,677.5 481.3,680.9 482.3,684.3 483.3,687.6 484.3,691.0 485.3,694.4 486.3,697.7 487.3,701.0 488.3,704.3 489.3,707.6 490.3,710.8 491.3,714.0 492.3,717.2 493.3,720.4 494.3,723.5 495.3,726.6 496.3,729.7 497.3,732.8 498.3,735.8 499.3,738.7 500.3,741.7 501.3,744.6 502.3,747.4 503.3,750.3 504.3,753.0 505.3,755.8 506.3,758.4 507.3,761.1 508.3,763.6 509.3,766.2 510.3,768.6 511.3,771.1 512.3,773.4 513.3,775.8 514.3,778.1 515.3,780.3 516.3,782.5 517.3,784.6 518.3,786.7 519.3,788.7 520.3,790.6 521.3,792.5 522.3,794.3 523.3,796.1 524.3,797.8 525.3,799.4 526.3,801.0 527.3,802.5 528.3,804.0 529.3,805.4 530.3,806.8 531.3,808.2 532.3,809.6 533.3,810.9 534.3,812.2 535.3,813.5 536.3,814.8 537.3,816.1 538.3,817.3 539.3,818.5 540.3,819.7 541.3,820.9 542.3,822.1 543.3,823.2 544.3,824.4 545.3,825.5 546.3,826.6 547.3,827.8 548.3,828.9 549.3,830.0 550.3,831.1 551.3,832.2 552.3,833.2 553.3,834.3 554.3,835.4 555.3,836.4 556.3,837.5 557.3,838.5 558.3,839.5 559.3,840.4 560.3,841.4 563.3,844.2 566.3,846.8 569.3,849.1 572.3,851.1 575.3,853.0 578.3,854.7 581.3,856.3 584.3,857.8 587.3,859.4 590.3,861.0 593.3,862.5 596.3,863.9 599.3,865.3 602.3,866.7 605.3,868.0 608.3,869.1 611.3,870.2 614.3,871.2 617.3,872.1 620.3,873.0 623.3,873.8 626.3,874.6 629.3,875.3 632.3,875.9 635.3,876.5 638.3,876.9 641.3,877.4 644.3,877.8 647.3,878.1 650.3,878.4 653.3,878.7 656.3,878.9 659.3,879.1 662.3,879.3 665.3,879.5 668.3,879.7 671.3,879.9 674.3,880.1 677.3,880.3 680.3,880.5 683.3,880.6 686.3,880.7 689.3,880.8 692.3,880.9 695.3,880.9 698.3,880.9 701.3,880.8 704.3,880.8 707.3,880.7 710.3,880.7 713.3,880.6 716.3,880.5 719.3,880.5 722.3,880.4 725.3,880.3 728.3,880.2 731.3,880.1 734.3,880.0 737.3,879.9 740.3,879.8 743.3,879.7 746.3,879.6 749.3,879.5 752.3,879.4 755.3,879.3 758.3,879.2 761.3,879.0 764.3,878.9 767.3,878.8 770.3,878.6 773.3,878.5 776.3,878.3 779.3,878.2 782.3,878.0 785.3,877.8 788.3,877.6 791.3,877.5 794.3,877.3 797.3,877.0 800.3,876.8 803.3,876.5 806.3,876.2 809.3,875.8 812.3,875.5 815.3,875.0 818.3,874.6 821.3,874.2 824.3,873.7 827.3,873.2 830.3,872.7 833.3,872.2 836.3,871.7 839.3,871.1 842.3,870.6 845.3,870.1 848.3,869.6 851.3,869.1 854.3,868.6 857.3,868.2 860.3,867.7 863.3,867.3 866.3,866.9 869.3,866.5 872.3,866.1 875.3,865.7 878.3,865.3 881.3,864.9 884.3,864.5 887.3,864.1 890.3,863.7 893.3,863.4 896.3,863.0 899.3,862.6 902.3,862.2 905.3,861.8 908.3,861.5 911.3,861.1 914.3,860.7 917.3,860.4 920.3,860.0 923.3,859.7 926.3,859.3 929.3,859.0 932.3,858.6 935.3,858.3 938.3,857.9 941.3,857.6 944.3,857.2 947.3,856.9 950.3,856.5 953.3,856.2 956.3,855.9 959.3,855.6 962.3,855.3 965.3,855.0 968.3,854.8 971.3,854.6 974.3,854.4 977.3,854.2 980.3,854.0 983.3,853.9 986.3,853.7 989.3,853.6 992.3,853.5 995.3,853.4 998.3,853.4 1001.3,853.3 1004.3,853.3 1007.3,853.2 1010.3,853.2 1013.3,853.2 1016.3,853.3 1019.3,853.4 1022.3,853.5 1025.3,853.6 1028.3,853.8 1031.3,854.0 1034.3,854.2 1037.3,854.4 1040.3,854.7 1043.3,855.0 1046.3,855.4 1049.3,855.8 1052.3,856.3 1055.3,856.8 1058.3,857.4 1061.3,858.1 1064.3,858.7 1067.3,859.5 1070.3,860.2 1073.3,860.9 1076.3,861.5 1079.3,862.2 1082.3,862.8 1085.3,863.4 1088.3,864.0 1091.3,864.5 1094.3,865.1 1097.3,865.7 1100.3,866.2 1103.3,866.8 1106.3,867.5 1109.3,868.1 1112.3,868.7 1115.3,869.4 1118.3,870.0 1121.3,870.7 1124.3,871.3 1127.3,872.0 1130.3,872.6 1133.3,873.3 1136.3,873.9 1139.3,874.6 1142.3,875.3 1145.3,876.0 1148.3,876.8 1151.3,877.6 1154.3,878.4 1157.3,879.2 1160.3,880.1 1163.3,881.0 1166.3,881.9 1169.3,882.8 1172.3,883.7 1175.3,884.6 1178.3,885.6 1181.3,886.5 1184.3,887.5 1187.3,888.5 1190.3,889.4 1193.3,890.4 1196.3,891.4 1199.3,892.4 1202.3,893.4 1205.3,894.5 1208.3,895.5 1211.3,896.5 1214.3,897.5 1217.3,898.5 1220.3,899.6 1223.3,900.6 1226.3,901.6 1229.3,902.7 1232.3,903.7 1235.3,904.8 1238.3,905.8 1241.3,906.8 1244.3,907.9 1247.3,908.9 1250.3,910.0 1253.3,911.1 1256.3,912.1 1259.3,913.2 1262.3,914.3 1265.3,915.3 1268.3,916.4 1271.3,917.5 1274.3,918.5 1277.3,919.5 1280.3,920.6 1283.3,921.6 1286.3,922.6 1289.3,923.7 1292.3,924.7 1295.3,925.7 1298.3,926.7 1301.3,927.7 1304.3,928.7 1307.3,929.7 1310.3,930.7 1313.3,931.7 1316.3,932.7 1319.3,933.7 1322.3,934.7 1325.3,935.7 1328.3,936.7 1331.3,937.7 1334.3,938.6 1337.3,939.6 1340.3,940.5 1343.3,941.5 1346.3,942.4 1349.3,943.3 1352.3,944.2 1355.3,945.2 1358.3,946.0 1361.3,946.9 1364.3,947.8 1367.3,948.7 1370.3,949.6 1373.3,950.4 1376.3,951.3 1379.3,952.1 1382.3,952.9 1385.3,953.8 1388.3,954.6 1391.3,955.4 1394.3,956.2 1397.3,957.0 1400.3,957.8 1403.3,958.6 1406.3,959.4 1409.3,960.2 1412.3,961.0 1415.3,961.7 1418.3,962.5 1421.3,963.3 1424.3,964.0 1427.3,964.8 1430.3,965.5 1433.3,966.3 1436.3,967.0 1439.3,967.7 1442.3,968.5 1445.3,969.2 1448.3,969.9 1451.3,970.7 1454.3,971.4 1457.3,972.1 1460.3,972.8 1463.3,973.5 1466.3,974.2 1469.3,974.9 1472.3,975.6 1475.3,976.3 1478.3,977.0 1481.3,977.6 1484.3,978.3 1487.3,979.0 1490.3,979.7 1493.3,980.3 1496.3,981.0 1499.3,981.7 1502.3,982.3 1505.3,983.0 1508.3,983.6 1511.3,984.3 1514.3,984.9 1517.3,985.6 1520.3,986.2 1523.3,986.9 1526.3,987.5 1529.3,988.1 1532.3,988.8 1535.3,989.4 1538.3,990.0 1541.3,990.6 1544.3,991.3 1547.3,991.9 1550.3,992.5 1553.3,993.1 1556.3,993.7 1559.3,994.3 1562.3,994.8 1565.3,995.4 1568.3,996.0 1571.3,996.6 1574.3,997.2 1577.3,997.7 1580.3,998.3 1583.3,998.9 1586.3,999.5 1589.3,1000.0 1592.3,1000.6 1595.3,1001.2 1598.3,1001.7 1601.3,1002.3 1604.3,1002.9 1607.3,1003.4 1610.3,1004.0 1613.3,1004.6 1616.3,1005.1 1619.3,1005.7 1622.3,1006.3 1625.3,1006.9 1628.3,1007.4 1631.3,1008.0 1634.3,1008.6 1637.3,1009.1 1640.3,1009.7 1643.3,1010.3 1646.3,1010.8 1649.3,1011.4 1652.3,1012.0 1655.3,1012.6 1658.3,1013.1 1661.3,1013.7 1664.3,1014.3 1667.3,1014.9 1670.3,1015.4 1673.3,1016.0 1676.3,1016.6 1679.3,1017.2 1682.3,1017.8 1685.3,1018.4 1688.3,1019.1 1691.3,1019.7 1694.3,1020.3 1697.3,1021.0 1700.3,1021.7 1703.3,1022.4 1706.3,1023.1 1709.3,1023.8 1712.3,1024.5 1715.3,1025.2 1718.3,1026.0 1721.3,1026.7 1724.3,1027.5 1727.3,1028.2 1730.3,1029.0 1733.3,1029.8 1736.3,1030.5 1739.3,1031.3 1742.3,1032.0 1745.3,1032.7 1748.3,1033.4 1751.3,1034.1 1754.3,1034.8 1757.3,1035.4 1760.3,1036.0 1763.3,1036.6 1766.3,1037.2 1769.3,1037.7 1772.3,1038.3 1775.3,1038.8 1778.3,1039.2 1781.3,1039.7 1784.3,1040.2 1787.3,1040.6 1790.3,1041.0 1793.3,1041.4 1796.3,1041.8 1799.3,1042.2 1802.3,1042.6 1805.3,1043.0 1808.3,1043.4 1811.3,1043.7 1814.3,1044.1 1817.3,1044.4 1820.3,1044.8 1823.3,1045.1 1826.3,1045.4 1829.3,1045.8 1832.3,1046.1 1835.3,1046.4 1838.3,1046.7 1841.3,1047.0 1844.3,1047.3 1847.3,1047.5 1850.3,1047.8 1853.3,1048.1 1856.3,1048.3 1859.3,1048.6 1861.0,1048.7"/>
<path stroke="#28c850" d="M274.3,640.8 275.3,633.7 276.3,626.5 277.3,619.1 278.3,611.7 279.3,604.2 280.3,596.6 281.3,588.9 282.3,581.1 283.3,573.3 284.3,565.4 285.3,557.5 286.3,549.6 287.3,541.8 288.3,534.1 289.3,526.5 290.3,519.1 291.3,511.9 292.3,505.0 293.3,498.3 294.3,491.9 295.3,485.7 296.3,479.7 297.3,473.9 298.3,468.3 299.3,462.8 300.3,457.5 301.3,452.2 302.3,447.0 303.3,441.8 304.3,436.8 305.3,431.8 306.3,426.9 307.3,422.0 308.3,417.2 309.3,412.4 310.3,407.6 311.3,402.7 312.3,397.9 313.3,392.9 314.3,387.9 315.3,382.9 316.3,377.8 317.3,372.6 318.3,367.5 319.3,362.3 320.3,357.1 321.3,352.0 322.3,346.9 323.3,341.9 324.3,336.9 325.3,332.0 326.3,327.1 327.3,322.5 328.3,318.0 329.3,313.7 330.3,309.6 331.3,305.7 332.3,302.1 333.3,298.7 334.3,295.6 335.3,292.7 336.3,290.0 337.3,287.6 338.3,285.5 339.3,283.5 340.3,281.8 341.3,280.2 342.3,278.7 343.3,277.4 344.3,276.2 345.3,275.1 346.3,274.2 347.3,273.3 348.3,272.5 349.3,271.8 350.3,271.2 351.3,270.7 352.3,270.3 353.3,269.9 354.3,269.6 355.3,269.4 356.3,269.2 357.3,269.1 358.3,269.0 359.3,269.1 360.3,269.1 361.3,269.3 362.3,269.5 363.3,269.9 364.3,270.3 365.3,270.8 366.3,271.4 367.3,272.1 368.3,272.9 369.3,273.8 370.3,274.9 371.3,276.1 372.3,277.4 373.3,278.7 374.3,280.2 375.3,281.8 376.3,283.5 377.3,285.2 378.3,286.9 379.3,288.8 380.3,290.7 381.3,292.6 382.3,294.7 383.3,296.8 384.3,299.0 385.3,301.2 386.3,303.6 387.3,306.0 388.3,308.5 389.3,311.1 390.3,313.8 391.3,316.6 392.3,319.5 393.3,322.6 394.3,325.7 395.3,329.0 396.3,332.4 397.3,335.9 398.3,339.6 399.3,343.4 400.3,347.3 401.3,351.3 402.3,355.4 403.3,359.6 404.3,363.8 405.3,368.1 406.3,372.4 407.3,376.8 408.3,381.1 409.3,385.5 410.3,389.8 411.3,394.1 412.3,398.4 413.3,402.7 414.3,407.0 415.3,411.3 416.3,415.5 417.3,419.8 418.3,424.1 419.3,428.3 420.3,432.6 421.3,436.8 422.3,441.0 423.3,445.2 424.3,449.4 425.3,453.6 426.3,457.8 427.3,462.0 428.3,466.1 429.3,470.3 430.3,474.4 431.3,478.6 432.3,482.7 433.3,486.9 434.3,491.0 435.3,495.1 436.3,499.3 437.3,503.4 438.3,507.5 439.3,511.6 440.3,515.7 441.3,519.9 442.3,524.0 443.3,528.1 444.3,532.2 445.3,536.3 446.3,540.5 447.3,544.6 448.3,548.7 449.3,552.9 450.3,557.0 451.3,561.2 452.3,565.4 453.3,569.5 454.3,573.7 455.3,577.9 456.3,582.1 457.3,586.3 458.3,590.4 459.3,594.6 460.3,598.7 461.3,602.9 462.3,607.0 463.3,611.1 464.3,615.1 465.3,619.2 466.3,623.2 467.3,627.2 468.3,631.1 469.3,635.1 470.3,638.9 471.3,642.8 472.3,646.6 473.3,650.3 474.3,654.0 475.3,657.6 476.3,661.2 477.3,664.7 478.3,668.2 479.3,671.6 480.3,675.1 481.3,678.5 482.3,681.9 483.3,685.3 484.3,688.6 485.3,692.0 486.3,695.4 487.3,698.7 488.3,702.0 489.3,705.3 490.3,708.6 491.3,711.8 492.3,715.0 493.3,718.2 494.3,721.4 495.3,724.5 496.3,727.6 497.3,730.7 498.3,733.8 499.3,736.8 500.3,739.7 501.3,742.7 502.3,745.6 503.3,748.4 504.3,751.2 505.3,754.0 506.3,756.7 507.3,759.3 508.3,761.9 509.3,764.5 510.3,767.0 511.3,769.5 512.3,771.9 513.3,774.3 514.3,776.6 515.3,778.9 516.3,781.1 517.3,783.3 518.3,785.4 519.3,787.5 520.3,789.5 521.3,791.4 522.3,793.2 523.3,795.0 524.3,796.8 525.3,798.4 526.3,800.1 527.3,801.6 528.3,803.1 529.3,804.6 530.3,806.1 531.3,807.5 532.3,808.9 533.3,810.3 534.3,811.6 535.3,813.0 536.3,814.3 537.3,815.6 538.3,816.8 539.3,818.1 540.3,819.3 541.3,820.5 542.3,821.8 543.3,822.9 544.3,824.1 545.3,825.3 546.3,826.4 547.3,827.6 548.3,828.7 549.3,829.9 550.3,831.0 551.3,832.1 552.3,833.3 553.3,834.4 554.3,835.4 555.3,836.5 556.3,837.6 557.3,838.6 558.3,839.6 559.3,840.6 560.3,841.6 563.3,844.5 566.3,847.1 569.3,849.5 572.3,851.6 575.3,853.4 578.3,855.2 581.3,856.8 584.3,858.5 587.3,860.1 590.3,861.7 593.3,863.3 596.3,864.8 599.3,866.2 602.3,867.7 605.3,869.0 608.3,870.2 611.3,871.3 614.3,872.4 617.3,873.3 620.3,874.3 623.3,875.1 626.3,876.0 629.3,876.7 632.3,877.4 635.3,878.0 638.3,878.6 641.3,879.1 644.3,879.5 647.3,879.9 650.3,880.2 653.3,880.5 656.3,880.8 659.3,881.1 662.3,881.3 665.3,881.6 668.3,881.8 671.3,882.1 674.3,882.3 677.3,882.5 680.3,882.8 683.3,882.9 686.3,883.1 689.3,883.2 692.3,883.3 695.3,883.4 698.3,883.4 701.3,883.4 704.3,883.4 707.3,883.4 710.3,883.4 713.3,883.4 716.3,883.4 719.3,883.4 722.3,883.3 725.3,883.3 728.3,883.3 731.3,883.3 734.3,883.2 737.3,883.2 740.3,883.1 743.3,883.1 746.3,883.0 749.3,883.0 752.3,882.9 755.3,882.8 758.3,882.8 761.3,882.7 764.3,882.6 767.3,882.5 770.3,882.4 773.3,882.3 776.3,882.2 779.3,882.0 782.3,881.9 785.3,881.8 788.3,881.7 791.3,881.5 794.3,881.3 797.3,881.2 800.3,881.0 803.3,880.7 806.3,880.4 809.3,880.1 812.3,879.8 815.3,879.4 818.3,879.0 821.3,878.6 824.3,878.1 827.3,877.7 830.3,877.2 833.3,876.7 836.3,876.2 839.3,875.7 842.3,875.2 845.3,874.7 848.3,874.3 851.3,873.8 854.3,873.4 857.3,872.9 860.3,872.5 863.3,872.1 866.3,871.7 869.3,871.4 872.3,871.0 875.3,870.6 878.3,870.3 881.3,869.9 884.3,869.6 887.3,869.2 890.3,868.9 893.3,868.5 896.3,868.2 899.3,867.9 902.3,867.5 905.3,867.2 908.3,866.9 911.3,866.6 914.3,866.2 917.3,865.9 920.3,865.6 923.3,865.3 926.3,865.0 929.3,864.7 932.3,864.3 935.3,864.0 938.3,863.7 941.3,863.4 944.3,863.1 947.3,862.7 950.3,862.4 953.3,862.1 956.3,861.8 959.3,861.5 962.3,861.3 965.3,861.0 968.3,860.8 971.3,860.6 974.3,860.4 977.3,860.3 980.3,860.1 983.3,860.0 986.3,859.9 989.3,859.8 992.3,859.7 995.3,859.6 998.3,859.5 1001.3,859.5 1004.3,859.4 1007.3,859.4 1010.3,859.4 1013.3,859.4 1016.3,859.5 1019.3,859.5 1022.3,859.6 1025.3,859.8 1028.3,859.9 1031.3,860.1 1034.3,860.4 1037.3,860.6 1040.3,860.9 1043.3,861.2 1046.3,861.5 1049.3,861.9 1052.3,862.4 1055.3,862.9 1058.3,863.5 1061.3,864.2 1064.3,864.9 1067.3,865.6 1070.3,866.3 1073.3,866.9 1076.3,867.6 1079.3,868.2 1082.3,868.8 1085.3,869.4 1088.3,869.9 1091.3,870.5 1094.3,871.0 1097.3,871.6 1100.3,872.1 1103.3,872.7 1106.3,873.3 1109.3,873.9 1112.3,874.5 1115.3,875.1 1118.3,875.8 1121.3,876.4 1124.3,877.0 1127.3,877.6 1130.3,878.2 1133.3,878.8 1136.3,879.5 1139.3,880.1 1142.3,880.8 1145.3,881.5 1148.3,882.2 1151.3,883.0 1154.3,883.8 1157.3,884.6 1160.3,885.5 1163.3,886.3 1166.3,887.2 1169.3,888.1 1172.3,889.1 1175.3,890.0 1178.3,890.9 1181.3,891.8 1184.3,892.7 1187.3,893.7 1190.3,894.6 1193.3,895.6 1196.3,896.5 1199.3,897.5 1202.3,898.4 1205.3,899.4 1208.3,900.4 1211.3,901.4 1214.3,902.4 1217.3,903.3 1220.3,904.3 1223.3,905.3 1226.3,906.3 1229.3,907.3 1232.3,908.3 1235.3,909.3 1238.3,910.3 1241.3,911.4 1244.3,912.4 1247.3,913.4 1250.3,914.4 1253.3,915.5 1256.3,916.5 1259.3,917.5 1262.3,918.6 1265.3,919.6 1268.3,920.6 1271.3,921.6 1274.3,922.7 1277.3,923.7 1280.3,924.7 1283.3,925.7 1286.3,926.7 1289.3,927.6 1292.3,928.6 1295.3,929.6 1298.3,930.6 1301.3,931.6 1304.3,932.5 1307.3,933.5 1310.3,934.5 1313.3,935.4 1316.3,936.4 1319.3,937.4 1322.3,938.3 1325.3,939.3 1328.3,940.2 1331.3,941.1 1334.3,942.1 1337.3,943.0 1340.3,943.9 1343.3,944.8 1346.3,945.7 1349.3,946.6 1352.3,947.5 1355.3,948.4 1358.3,949.2 1361.3,950.1 1364.3,950.9 1367.3,951.8 1370.3,952.6 1373.3,953.4 1376.3,954.2 1379.3,955.0 1382.3,955.8 1385.3,956.6 1388.3,957.4 1391.3,958.2 1394.3,959.0 1397.3,959.7 1400.3,960.5 1403.3,961.3 1406.3,962.0 1409.3,962.8 1412.3,963.5 1415.3,964.2 1418.3,965.0 1421.3,965.7 1424.3,966.4 1427.3,967.2 1430.3,967.9 1433.3,968.6 1436.3,969.3 1439.3,970.0 1442.3,970.7 1445.3,971.4 1448.3,972.1 1451.3,972.8 1454.3,973.5 1457.3,974.2 1460.3,974.9 1463.3,975.6 1466.3,976.2 1469.3,976.9 1472.3,977.6 1475.3,978.2 1478.3,978.9 1481.3,979.6 1484.3,980.2 1487.3,980.9 1490.3,981.5 1493.3,982.2 1496.3,982.8 1499.3,983.4 1502.3,984.1 1505.3,984.7 1508.3,985.4 1511.3,986.0 1514.3,986.6 1517.3,987.2 1520.3,987.9 1523.3,988.5 1526.3,989.1 1529.3,989.7 1532.3,990.3 1535.3,990.9 1538.3,991.5 1541.3,992.1 1544.3,992.7 1547.3,993.3 1550.3,993.9 1553.3,994.5 1556.3,995.1 1559.3,995.6 1562.3,996.2 1565.3,996.8 1568.3,997.3 1571.3,997.9 1574.3,998.5 1577.3,999.0 1580.3,999.6 1583.3,1000.1 1586.3,1000.7 1589.3,1001.2 1592.3,1001.8 1595.3,1002.3 1598.3,1002.9 1601.3,1003.5 1604.3,1004.0 1607.3,1004.6 1610.3,1005.1 1613.3,1005.7 1616.3,1006.2 1619.3,1006.8 1622.3,1007.3 1625.3,1007.9 1628.3,1008.4 1631.3,1009.0 1634.3,1009.6 1637.3,1010.1 1640.3,1010.7 1643.3,1011.2 1646.3,1011.8 1649.3,1012.3 1652.3,1012.9 1655.3,1013.4 1658.3,1014.0 1661.3,1014.6 1664.3,1015.1 1667.3,1015.7 1670.3,1016.3 1673.3,1016.8 1676.3,1017.4 1679.3,1018.0 1682.3,1018.6 1685.3,1019.2 1688.3,1019.8 1691.3,1020.4 1694.3,1021.0 1697.3,1021.7 1700.3,1022.3 1703.3,1023.0 1706.3,1023.7 1709.3,1024.4 1712.3,1025.1 1715.3,1025.8 1718.3,1026.6 1721.3,1027.3 1724.3,1028.0 1727.3,1028.8 1730.3,1029.5 1733.3,1030.3 1736.3,1031.0 1739.3,1031.7 1742.3,1032.4 1745.3,1033.1 1748.3,1033.8 1751.3,1034.5 1754.3,1035.2 1757.3,1035.8 1760.3,1036.4 1763.3,1037.0 1766.3,1037.5 1769.3,1038.1 1772.3,1038.6 1775.3,1039.1 1778.3,1039.5 1781.3,1040.0 1784.3,1040.4 1787.3,1040.9 1790.3,1041.3 1793.3,1041.7 1796.3,1042.1 1799.3,1042.5 1802.3,1042.8 1805.3,1043.2 1808.3,1043.6 1811.3,1043.9 1814.3,1044.3 1817.3,1044.6 1820.3,1044.9 1823.3,1045.3 1826.3,1045.6 1829.3,1045.9 1832.3,1046.2 1835.3,1046.5 1838.3,1046.8 1841.3,1047.1 1844.3,1047.3 1847.3,1047.6 1850.3,1047.9 1853.3,1048.1 1856.3,1048.4 1859.3,1048.6 1861.0,1048.8"/>
<path stroke="#c81e82" d="M274.3,645.2 275.3,638.2 276.3,631.0 277.3,623.7 278.3,616.3 279.3,608.8 280.3,601.2 281.3,593.5 282.3,585.6 283.3,577.7 284.3,569.7 285.3,561.7 286.3,553.7 287.3,545.7 288.3,537.9 289.3,530.1 290.3,522.6 291.3,515.3 292.3,508.2 293.3,501.4 294.3,494.9 295.3,488.6 296.3,482.6 297.3,476.7 298.3,471.1 299.3,465.5 300.3,460.1 301.3,454.8 302.3,449.6 303.3,444.4 304.3,439.4 305.3,434.4 306.3,429.5 307.3,424.6 308.3,419.8 309.3,415.0 310.3,410.2 311.3,405.4 312.3,400.6 313.3,395.7 314.3,390.7 315.3,385.6 316.3,380.5 317.3,375.3 318.3,370.1 319.3,364.8 320.3,359.6 321.3,354.3 322.3,349.1 323.3,343.9 324.3,338.8 325.3,333.7 326.3,328.7 327.3,323.8 328.3,319.2 329.3,314.7 330.3,310.5 331.3,306.5 332.3,302.7 333.3,299.2 334.3,295.9 335.3,292.9 336.3,290.1 337.3,287.7 338.3,285.4 339.3,283.4 340.3,281.6 341.3,279.9 342.3,278.4 343.3,277.1 344.3,275.9 345.3,274.7 346.3,273.7 347.3,272.8 348.3,272.0 349.3,271.3 350.3,270.7 351.3,270.2 352.3,269.7 353.3,269.3 354.3,269.0 355.3,268.7 356.3,268.5 357.3,268.4 358.3,268.3 359.3,268.3 360.3,268.3 361.3,268.4 362.3,268.7 363.3,268.9 364.3,269.3 365.3,269.8 366.3,270.3 367.3,270.9 368.3,271.7 369.3,272.6 370.3,273.5 371.3,274.6 372.3,275.8 373.3,277.1 374.3,278.5 375.3,280.0 376.3,281.6 377.3,283.2 378.3,285.0 379.3,286.7 380.3,288.6 381.3,290.5 382.3,292.5 383.3,294.5 384.3,296.6 385.3,298.8 386.3,301.1 387.3,303.5 388.3,305.9 389.3,308.4 390.3,311.1 391.3,313.8 392.3,316.6 393.3,319.6 394.3,322.7 395.3,325.9 396.3,329.2 397.3,332.7 398.3,336.3 399.3,340.1 400.3,344.0 401.3,348.0 402.3,352.1 403.3,356.2 404.3,360.5 405.3,364.8 406.3,369.1 407.3,373.5 408.3,377.8 409.3,382.2 410.3,386.5 411.3,390.8 412.3,395.1 413.3,399.4 414.3,403.7 415.3,408.0 416.3,412.3 417.3,416.6 418.3,420.8 419.3,425.1 420.3,429.4 421.3,433.6 422.3,437.8 423.3,442.0 424.3,446.3 425.3,450.5 426.3,454.6 427.3,458.8 428.3,463.0 429.3,467.2 430.3,471.3 431.3,475.5 432.3,479.6 433.3,483.8 434.3,487.9 435.3,492.0 436.3,496.2 437.3,500.3 438.3,504.4 439.3,508.5 440.3,512.6 441.3,516.8 442.3,520.9 443.3,525.0 444.3,529.1 445.3,533.2 446.3,537.4 447.3,541.5 448.3,545.6 449.3,549.8 450.3,553.9 451.3,558.1 452.3,562.3 453.3,566.5 454.3,570.7 455.3,574.9 456.3,579.1 457.3,583.2 458.3,587.4 459.3,591.6 460.3,595.8 461.3,599.9 462.3,604.1 463.3,608.2 464.3,612.3 465.3,616.3 466.3,620.4 467.3,624.4 468.3,628.4 469.3,632.4 470.3,636.3 471.3,640.2 472.3,644.0 473.3,647.7 474.3,651.5 475.3,655.1 476.3,658.7 477.3,662.2 478.3,665.7 479.3,669.2 480.3,672.6 481.3,676.0 482.3,679.5 483.3,682.9 484.3,686.3 485.3,689.6 486.3,693.0 487.3,696.4 488.3,699.7 489.3,703.0 490.3,706.3 491.3,709.6 492.3,712.8 493.3,716.1 494.3,719.2 495.3,722.4 496.3,725.5 497.3,728.7 498.3,731.7 499.3,734.8 500.3,737.8 501.3,740.7 502.3,743.6 503.3,746.5 504.3,749.3 505.3,752.1 506.3,754.9 507.3,757.6 508.3,760.2 509.3,762.8 510.3,765.4 511.3,767.9 512.3,770.4 513.3,772.8 514.3,775.2 515.3,777.5 516.3,779.8 517.3,782.0 518.3,784.2 519.3,786.3 520.3,788.3 521.3,790.3 522.3,792.2 523.3,794.0 524.3,795.8 525.3,797.5 526.3,799.1 527.3,800.7 528.3,802.3 529.3,803.8 530.3,805.3 531.3,806.7 532.3,808.2 533.3,809.6 534.3,811.0 535.3,812.4 536.3,813.7 537.3,815.0 538.3,816.3 539.3,817.6 540.3,818.9 541.3,820.2 542.3,821.4 543.3,822.6 544.3,823.8 545.3,825.0 546.3,826.2 547.3,827.4 548.3,828.6 549.3,829.8 550.3,831.0 551.3,832.1 552.3,833.3 553.3,834.4 554.3,835.5 555.3,836.6 556.3,837.7 557.3,838.8 558.3,839.8 559.3,840.8 560.3,841.8 563.3,844.7 566.3,847.4 569.3,849.9 572.3,852.0 575.3,853.9 578.3,855.7 581.3,857.4 584.3,859.1 587.3,860.8 590.3,862.4 593.3,864.1 596.3,865.6 599.3,867.2 602.3,868.6 605.3,870.0 608.3,871.3 611.3,872.5 614.3,873.6 617.3,874.6 620.3,875.6 623.3,876.5 626.3,877.4 629.3,878.2 632.3,879.0 635.3,879.6 638.3,880.2 641.3,880.7 644.3,881.2 647.3,881.7 650.3,882.1 653.3,882.4 656.3,882.8 659.3,883.1 662.3,883.4 665.3,883.7 668.3,884.0 671.3,884.3 674.3,884.5 677.3,884.8 680.3,885.1 683.3,885.3 686.3,885.5 689.3,885.7 692.3,885.8 695.3,885.9 698.3,886.0 701.3,886.1 704.3,886.1 707.3,886.2 710.3,886.2 713.3,886.3 716.3,886.3 719.3,886.3 722.3,886.4 725.3,886.4 728.3,886.4 731.3,886.4 734.3,886.5 737.3,886.5 740.3,886.5 743.3,886.5 746.3,886.5 749.3,886.5 752.3,886.5 755.3,886.4 758.3,886.4 761.3,886.4 764.3,886.3 767.3,886.3 770.3,886.2 773.3,886.1 776.3,886.1 779.3,886.0 782.3,885.9 785.3,885.8 788.3,885.7 791.3,885.6 794.3,885.5 797.3,885.4 800.3,885.2 803.3,885.0 806.3,884.8 809.3,884.5 812.3,884.2 815.3,883.8 818.3,883.5 821.3,883.1 824.3,882.6 827.3,882.2 830.3,881.8 833.3,881.3 836.3,880.8 839.3,880.4 842.3,879.9 845.3,879.4 848.3,879.0 851.3,878.6 854.3,878.1 857.3,877.8 860.3,877.4 863.3,877.0 866.3,876.7 869.3,876.3 872.3,876.0 875.3,875.7 878.3,875.4 881.3,875.0 884.3,874.7 887.3,874.4 890.3,874.1 893.3,873.8 896.3,873.5 899.3,873.2 902.3,872.9 905.3,872.7 908.3,872.4 911.3,872.1 914.3,871.8 917.3,871.5 920.3,871.2 923.3,871.0 926.3,870.7 929.3,870.4 932.3,870.1 935.3,869.9 938.3,869.6 941.3,869.3 944.3,869.0 947.3,868.7 950.3,868.4 953.3,868.1 956.3,867.9 959.3,867.6 962.3,867.4 965.3,867.1 968.3,866.9 971.3,866.7 974.3,866.6 977.3,866.4 980.3,866.3 983.3,866.2 986.3,866.1 989.3,866.0 992.3,865.9 995.3,865.9 998.3,865.8 1001.3,865.7 1004.3,865.7 1007.3,865.7 1010.3,865.7 1013.3,865.7 1016.3,865.7 1019.3,865.8 1022.3,865.9 1025.3,866.0 1028.3,866.2 1031.3,866.4 1034.3,866.6 1037.3,866.9 1040.3,867.1 1043.3,867.4 1046.3,867.8 1049.3,868.2 1052.3,868.7 1055.3,869.2 1058.3,869.8 1061.3,870.4 1064.3,871.1 1067.3,871.7 1070.3,872.4 1073.3,873.1 1076.3,873.7 1079.3,874.3 1082.3,874.9 1085.3,875.5 1088.3,876.0 1091.3,876.5 1094.3,877.0 1097.3,877.6 1100.3,878.1 1103.3,878.7 1106.3,879.2 1109.3,879.8 1112.3,880.4 1115.3,881.0 1118.3,881.6 1121.3,882.1 1124.3,882.7 1127.3,883.3 1130.3,883.9 1133.3,884.5 1136.3,885.1 1139.3,885.7 1142.3,886.4 1145.3,887.0 1148.3,887.7 1151.3,888.5 1154.3,889.3 1157.3,890.1 1160.3,890.9 1163.3,891.8 1166.3,892.7 1169.3,893.6 1172.3,894.5 1175.3,895.4 1178.3,896.3 1181.3,897.2 1184.3,898.1 1187.3,899.0 1190.3,899.9 1193.3,900.8 1196.3,901.7 1199.3,902.6 1202.3,903.5 1205.3,904.5 1208.3,905.4 1211.3,906.3 1214.3,907.3 1217.3,908.2 1220.3,909.2 1223.3,910.1 1226.3,911.1 1229.3,912.1 1232.3,913.0 1235.3,914.0 1238.3,915.0 1241.3,915.9 1244.3,916.9 1247.3,917.9 1250.3,918.9 1253.3,919.9 1256.3,920.9 1259.3,921.9 1262.3,922.9 1265.3,923.9 1268.3,924.9 1271.3,925.9 1274.3,926.9 1277.3,927.8 1280.3,928.8 1283.3,929.8 1286.3,930.7 1289.3,931.7 1292.3,932.6 1295.3,933.6 1298.3,934.5 1301.3,935.5 1304.3,936.4 1307.3,937.3 1310.3,938.3 1313.3,939.2 1316.3,940.1 1319.3,941.1 1322.3,942.0 1325.3,942.9 1328.3,943.8 1331.3,944.7 1334.3,945.6 1337.3,946.5 1340.3,947.4 1343.3,948.2 1346.3,949.1 1349.3,950.0 1352.3,950.8 1355.3,951.7 1358.3,952.5 1361.3,953.3 1364.3,954.1 1367.3,954.9 1370.3,955.7 1373.3,956.5 1376.3,957.3 1379.3,958.0 1382.3,958.8 1385.3,959.6 1388.3,960.3 1391.3,961.0 1394.3,961.8 1397.3,962.5 1400.3,963.2 1403.3,964.0 1406.3,964.7 1409.3,965.4 1412.3,966.1 1415.3,966.8 1418.3,967.5 1421.3,968.2 1424.3,968.9 1427.3,969.6 1430.3,970.3 1433.3,970.9 1436.3,971.6 1439.3,972.3 1442.3,973.0 1445.3,973.7 1448.3,974.3 1451.3,975.0 1454.3,975.7 1457.3,976.3 1460.3,977.0 1463.3,977.6 1466.3,978.3 1469.3,978.9 1472.3,979.6 1475.3,980.2 1478.3,980.9 1481.3,981.5 1484.3,982.1 1487.3,982.8 1490.3,983.4 1493.3,984.0 1496.3,984.6 1499.3,985.3 1502.3,985.9 1505.3,986.5 1508.3,987.1 1511.3,987.7 1514.3,988.3 1517.3,988.9 1520.3,989.5 1523.3,990.1 1526.3,990.7 1529.3,991.3 1532.3,991.9 1535.3,992.5 1538.3,993.1 1541.3,993.7 1544.3,994.2 1547.3,994.8 1550.3,995.4 1553.3,995.9 1556.3,996.5 1559.3,997.1 1562.3,997.6 1565.3,998.2 1568.3,998.7 1571.3,999.3 1574.3,999.8 1577.3,1000.3 1580.3,1000.9 1583.3,1001.4 1586.3,1001.9 1589.3,1002.5 1592.3,1003.0 1595.3,1003.6 1598.3,1004.1 1601.3,1004.6 1604.3,1005.2 1607.3,1005.7 1610.3,1006.2 1613.3,1006.8 1616.3,1007.3 1619.3,1007.9 1622.3,1008.4 1625.3,1008.9 1628.3,1009.5 1631.3,1010.0 1634.3,1010.6 1637.3,1011.1 1640.3,1011.6 1643.3,1012.2 1646.3,1012.7 1649.3,1013.3 1652.3,1013.8 1655.3,1014.4 1658.3,1014.9 1661.3,1015.4 1664.3,1016.0 1667.3,1016.5 1670.3,1017.1 1673.3,1017.7 1676.3,1018.2 1679.3,1018.8 1682.3,1019.4 1685.3,1020.0 1688.3,1020.5 1691.3,1021.1 1694.3,1021.8 1697.3,1022.4 1700.3,1023.0 1703.3,1023.7 1706.3,1024.4 1709.3,1025.0 1712.3,1025.7 1715.3,1026.4 1718.3,1027.1 1721.3,1027.9 1724.3,1028.6 1727.3,1029.3 1730.3,1030.0 1733.3,1030.8 1736.3,1031.5 1739.3,1032.2 1742.3,1032.9 1745.3,1033.6 1748.3,1034.3 1751.3,1034.9 1754.3,1035.5 1757.3,1036.2 1760.3,1036.7 1763.3,1037.3 1766.3,1037.9 1769.3,1038.4 1772.3,1038.9 1775.3,1039.4 1778.3,1039.8 1781.3,1040.3 1784.3,1040.7 1787.3,1041.1 1790.3,1041.5 1793.3,1041.9 1796.3,1042.3 1799.3,1042.7 1802.3,1043.0 1805.3,1043.4 1808.3,1043.8 1811.3,1044.1 1814.3,1044.4 1817.3,1044.8 1820.3,1045.1 1823.3,1045.4 1826.3,1045.7 1829.3,1046.0 1832.3,1046.3 1835.3,1046.6 1838.3,1046.9 1841.3,1047.2 1844.3,1047.4 1847.3,1047.7 1850.3,1048.0 1853.3,1048.2 1856.3,1048.5 1859.3,1048.7 1861.0,1048.8"/>
</g>
<path d="M1860.8 1043.8 V1073.6" stroke="#000" stroke-width="8.8"/>
<g transform="translate(0 0)" fill="none" stroke="#000" stroke-linejoin="round" stroke-linecap="round">
<path d="M916.8 68.3L911.8 68.3L911.8 163.6L916.8 163.6" stroke-width="2.5"/>
<path d="M904.3 117.6L921.3 117.6" stroke-width="2.5"/>
<path d="M931.6 112.6L944.9 99.9" stroke-width="2.5"/>
<path d="M931.6 123.0L944.2 136.0" stroke-width="2.5"/>
<path d="M944.9 99.9L961.7 104.2" stroke-width="2.5"/>
<path d="M944.2 136.0L961.1 131.7" stroke-width="2.5"/>
<path d="M936.9 81.4L941.7 99.9" stroke-width="2.5"/>
<path d="M943.6 80.0L948.0 98.6" stroke-width="2.5"/>
<path d="M941.7 137.3L936.3 154.2" stroke-width="2.5"/>
<path d="M948.0 138.5L943.0 155.8" stroke-width="2.5"/>
<path d="M961.5 104.4L982.3 92.4L1003.5 104.9L1003.5 131.7L982.3 144.6L961.5 131.7Z" stroke-width="3.0"/>
<path d="M967.8 108.6L967.8 127.5" stroke-width="2.5"/>
<path d="M981.9 99.5L997.5 108.7" stroke-width="2.5"/>
<path d="M981.8 137.6L997.5 128.0" stroke-width="2.5"/>
<path d="M1003.5 131.7L1017.0 139.6" stroke-width="2.5"/>
<path d="M1029.3 139.6L1045.2 131.0" stroke-width="2.5"/>
<path d="M1045.2 130.8L1057.5 108.0L1082.2 108.0L1094.5 130.8L1082.2 153.5L1057.5 153.5Z" stroke-width="3.0"/>
<path d="M1060.9 115.2L1078.8 115.2" stroke-width="2.5"/>
<path d="M1052.6 130.8L1061.5 147.2" stroke-width="2.5"/>
<path d="M1087.1 130.8L1078.2 147.2" stroke-width="2.5"/>
<path d="M1094.5 130.7L1110.8 130.4" stroke-width="2.5"/>
<path d="M1121.6 130.4L1141.8 130.4" stroke-width="2.5"/>
<path d="M1116.6 110.4L1116.6 123.4" stroke-width="2.5"/>
<path d="M1116.6 137.4L1116.6 149.6" stroke-width="2.5"/>
<path d="M1141.8 130.4L1154.2 107.6L1179.2 107.6L1191.6 130.4L1179.2 153.2L1154.2 153.2Z" stroke-width="3.0"/>
<path d="M1157.7 114.8L1175.8 114.8" stroke-width="2.5"/>
<path d="M1149.2 130.4L1158.2 146.9" stroke-width="2.5"/>
<path d="M1184.2 130.4L1175.2 146.9" stroke-width="2.5"/>
<path d="M1191.6 130.4L1206.4 139.0" stroke-width="2.5"/>
<path d="M1218.8 139.0L1234.7 131.0" stroke-width="2.5"/>
<path d="M1234.7 131.0L1234.7 103.6L1255.9 90.7L1277.7 103.6L1277.7 130.6L1255.9 143.5Z" stroke-width="3.0"/>
<path d="M1240.7 107.3L1256.4 97.7" stroke-width="2.5"/>
<path d="M1271.4 107.8L1271.4 126.4" stroke-width="2.5"/>
<path d="M1240.7 127.2L1256.3 136.4" stroke-width="2.5"/>
<path d="M1277.7 103.6L1294.5 98.8" stroke-width="2.5"/>
<path d="M1277.7 130.6L1294.5 134.8" stroke-width="2.5"/>
<path d="M1294.5 98.8L1305.9 111.4" stroke-width="2.5"/>
<path d="M1294.5 134.8L1305.9 123.2" stroke-width="2.5"/>
<path d="M1292.0 98.6L1295.8 79.6" stroke-width="2.5"/>
<path d="M1298.9 99.3L1303.0 81.2" stroke-width="2.5"/>
<path d="M1292.0 136.0L1296.2 154.4" stroke-width="2.5"/>
<path d="M1299.5 134.8L1303.0 152.8" stroke-width="2.5"/>
<path d="M1317.8 117.3L1336.8 117.3" stroke-width="2.5"/>
</g>
<g transform="translate(0 0)" fill="none" stroke="#000" stroke-linejoin="round" stroke-linecap="round">
<path d="M1336.8 117.0L1349.3 94.3L1374.2 94.3L1386.7 117.0L1374.2 139.8L1349.3 139.8Z" stroke-width="3.0"/>
<path d="M1352.7 101.5L1370.8 101.5" stroke-width="2.5"/>
<path d="M1344.2 117.1L1353.2 133.5" stroke-width="2.5"/>
<path d="M1379.3 117.1L1370.3 133.5" stroke-width="2.5"/>
<path d="M1436.5 117.0L1448.8 94.3L1473.5 94.3L1485.8 117.0L1473.5 139.8L1448.8 139.8Z" stroke-width="3.0"/>
<path d="M1452.2 101.5L1470.1 101.5" stroke-width="2.5"/>
<path d="M1443.9 117.1L1452.8 133.5" stroke-width="2.5"/>
<path d="M1478.4 117.1L1469.5 133.5" stroke-width="2.5"/>
<path d="M1535.6 117.0L1548.1 94.3L1573.0 94.3L1585.5 117.0L1573.0 139.8L1548.1 139.8Z" stroke-width="3.0"/>
<path d="M1551.5 101.5L1569.6 101.5" stroke-width="2.5"/>
<path d="M1543.0 117.1L1552.0 133.5" stroke-width="2.5"/>
<path d="M1578.1 117.1L1569.1 133.5" stroke-width="2.5"/>
<path d="M1637.2 116.4L1649.8 93.4L1675.1 93.4L1687.7 116.4L1675.1 139.5L1649.8 139.5Z" stroke-width="3.0"/>
<path d="M1653.2 100.6L1671.7 100.6" stroke-width="2.5"/>
<path d="M1644.6 116.4L1653.8 133.2" stroke-width="2.5"/>
<path d="M1680.3 116.4L1671.1 133.2" stroke-width="2.5"/>
<path d="M1738.0 116.3L1750.8 93.2L1776.3 93.2L1789.1 116.3L1776.3 139.4L1750.8 139.4Z" stroke-width="3.0"/>
<path d="M1754.2 100.4L1772.9 100.4" stroke-width="2.5"/>
<path d="M1745.4 116.3L1754.7 133.1" stroke-width="2.5"/>
<path d="M1781.7 116.3L1772.4 133.1" stroke-width="2.5"/>
<path d="M1386.7 117.0L1408.2 116.7" stroke-width="2.5"/>
<path d="M1419.4 116.7L1436.5 117.0" stroke-width="2.5"/>
<path d="M1485.8 117.0L1508.0 116.7" stroke-width="2.5"/>
<path d="M1519.2 116.7L1535.6 117.0" stroke-width="2.5"/>
<path d="M1585.5 117.0L1603.9 116.2" stroke-width="2.5"/>
<path d="M1615.1 116.2L1637.2 116.4" stroke-width="2.5"/>
<path d="M1687.7 116.4L1707.3 115.6" stroke-width="2.5"/>
<path d="M1718.5 115.6L1738.0 116.3" stroke-width="2.5"/>
<path d="M1789.1 116.2L1817.6 116.2" stroke-width="2.5"/>
<path d="M1801.2 68.3L1806.9 68.3L1806.9 164.0L1801.2 164.0" stroke-width="2.5"/>
</g>
<g transform="translate(0 213.5)" fill="none" stroke="#000" stroke-linejoin="round" stroke-linecap="round">
<path d="M916.8 68.3L911.8 68.3L911.8 163.6L916.8 163.6" stroke-width="2.5"/>
<path d="M904.3 117.6L921.3 117.6" stroke-width="2.5"/>
<path d="M931.6 112.6L944.9 99.9" stroke-width="2.5"/>
<path d="M931.6 123.0L944.2 136.0" stroke-width="2.5"/>
<path d="M944.9 99.9L961.7 104.2" stroke-width="2.5"/>
<path d="M944.2 136.0L961.1 131.7" stroke-width="2.5"/>
<path d="M936.9 81.4L941.7 99.9" stroke-width="2.5"/>
<path d="M943.6 80.0L948.0 98.6" stroke-width="2.5"/>
<path d="M941.7 137.3L936.3 154.2" stroke-width="2.5"/>
<path d="M948.0 138.5L943.0 155.8" stroke-width="2.5"/>
<path d="M961.5 104.4L982.3 92.4L1003.5 104.9L1003.5 131.7L982.3 144.6L961.5 131.7Z" stroke-width="3.0"/>
<path d="M967.8 108.6L967.8 127.5" stroke-width="2.5"/>
<path d="M981.9 99.5L997.5 108.7" stroke-width="2.5"/>
<path d="M981.8 137.6L997.5 128.0" stroke-width="2.5"/>
<path d="M1003.5 131.7L1017.0 139.6" stroke-width="2.5"/>
<path d="M1029.3 139.6L1045.2 131.0" stroke-width="2.5"/>
<path d="M1045.2 130.8L1057.5 108.0L1082.2 108.0L1094.5 130.8L1082.2 153.5L1057.5 153.5Z" stroke-width="3.0"/>
<path d="M1060.9 115.2L1078.8 115.2" stroke-width="2.5"/>
<path d="M1052.6 130.8L1061.5 147.2" stroke-width="2.5"/>
<path d="M1087.1 130.8L1078.2 147.2" stroke-width="2.5"/>
<path d="M1094.5 130.7L1110.8 130.4" stroke-width="2.5"/>
<path d="M1121.6 130.4L1141.8 130.4" stroke-width="2.5"/>
<path d="M1116.6 110.4L1116.6 123.4" stroke-width="2.5"/>
<path d="M1116.6 137.4L1116.6 149.6" stroke-width="2.5"/>
<path d="M1141.8 130.4L1154.2 107.6L1179.2 107.6L1191.6 130.4L1179.2 153.2L1154.2 153.2Z" stroke-width="3.0"/>
<path d="M1157.7 114.8L1175.8 114.8" stroke-width="2.5"/>
<path d="M1149.2 130.4L1158.2 146.9" stroke-width="2.5"/>
<path d="M1184.2 130.4L1175.2 146.9" stroke-width="2.5"/>
<path d="M1191.6 130.4L1206.4 139.0" stroke-width="2.5"/>
<path d="M1218.8 139.0L1234.7 131.0" stroke-width="2.5"/>
<path d="M1234.7 131.0L1234.7 103.6L1255.9 90.7L1277.7 103.6L1277.7 130.6L1255.9 143.5Z" stroke-width="3.0"/>
<path d="M1240.7 107.3L1256.4 97.7" stroke-width="2.5"/>
<path d="M1271.4 107.8L1271.4 126.4" stroke-width="2.5"/>
<path d="M1240.7 127.2L1256.3 136.4" stroke-width="2.5"/>
<path d="M1277.7 103.6L1294.5 98.8" stroke-width="2.5"/>
<path d="M1277.7 130.6L1294.5 134.8" stroke-width="2.5"/>
<path d="M1294.5 98.8L1305.9 111.4" stroke-width="2.5"/>
<path d="M1294.5 134.8L1305.9 123.2" stroke-width="2.5"/>
<path d="M1292.0 98.6L1295.8 79.6" stroke-width="2.5"/>
<path d="M1298.9 99.3L1303.0 81.2" stroke-width="2.5"/>
<path d="M1292.0 136.0L1296.2 154.4" stroke-width="2.5"/>
<path d="M1299.5 134.8L1303.0 152.8" stroke-width="2.5"/>
<path d="M1317.8 117.3L1336.8 117.3" stroke-width="2.5"/>
</g>
<g transform="translate(0 213.5)" fill="none" stroke="#000" stroke-linejoin="round" stroke-linecap="round">
<path d="M1336.8 117.0L1349.3 94.3L1374.2 94.3L1386.7 117.0L1374.2 139.8L1349.3 139.8Z" stroke-width="3.0"/>
<path d="M1352.7 101.5L1370.8 101.5" stroke-width="2.5"/>
<path d="M1344.2 117.1L1353.2 133.5" stroke-width="2.5"/>
<path d="M1379.3 117.1L1370.3 133.5" stroke-width="2.5"/>
<path d="M1436.5 117.0L1448.8 94.3L1473.5 94.3L1485.8 117.0L1473.5 139.8L1448.8 139.8Z" stroke-width="3.0"/>
<path d="M1452.4 101.9L1469.9 101.9" stroke-width="2.5"/>
<path d="M1452.4 132.4L1469.9 132.4" stroke-width="2.5"/>
<path d="M1535.6 117.0L1548.1 94.3L1573.0 94.3L1585.5 117.0L1573.0 139.8L1548.1 139.8Z" stroke-width="3.0"/>
<path d="M1551.5 101.5L1569.6 101.5" stroke-width="2.5"/>
<path d="M1543.0 117.1L1552.0 133.5" stroke-width="2.5"/>
<path d="M1578.1 117.1L1569.1 133.5" stroke-width="2.5"/>
<path d="M1637.2 116.4L1649.8 93.4L1675.1 93.4L1687.7 116.4L1675.1 139.5L1649.8 139.5Z" stroke-width="3.0"/>
<path d="M1653.2 100.6L1671.7 100.6" stroke-width="2.5"/>
<path d="M1644.6 116.4L1653.8 133.2" stroke-width="2.5"/>
<path d="M1680.3 116.4L1671.1 133.2" stroke-width="2.5"/>
<path d="M1738.0 116.3L1750.8 93.2L1776.3 93.2L1789.1 116.3L1776.3 139.4L1750.8 139.4Z" stroke-width="3.0"/>
<path d="M1754.2 100.4L1772.9 100.4" stroke-width="2.5"/>
<path d="M1745.4 116.3L1754.7 133.1" stroke-width="2.5"/>
<path d="M1781.7 116.3L1772.4 133.1" stroke-width="2.5"/>
<path d="M1386.7 117.0L1408.2 116.7" stroke-width="2.5"/>
<path d="M1420.4 112.7L1437.5 112.7" stroke-width="2.5"/>
<path d="M1420.4 120.5L1437.5 120.5" stroke-width="2.5"/>
<path d="M1484.8 112.7L1507.0 112.7" stroke-width="2.5"/>
<path d="M1484.8 120.5L1507.0 120.5" stroke-width="2.5"/>
<path d="M1519.2 116.7L1535.6 117.0" stroke-width="2.5"/>
<path d="M1585.5 117.0L1603.9 116.2" stroke-width="2.5"/>
<path d="M1615.1 116.2L1637.2 116.4" stroke-width="2.5"/>
<path d="M1687.7 116.4L1707.3 115.6" stroke-width="2.5"/>
<path d="M1718.5 115.6L1738.0 116.3" stroke-width="2.5"/>
<path d="M1789.1 116.2L1817.6 116.2" stroke-width="2.5"/>
<path d="M1801.2 68.3L1806.9 68.3L1806.9 164.0L1801.2 164.0" stroke-width="2.5"/>
</g>
<g transform="translate(-2.3 431.6)" fill="none" stroke="#000" stroke-linejoin="round" stroke-linecap="round">
<path d="M916.8 68.3L911.8 68.3L911.8 163.6L916.8 163.6" stroke-width="2.5"/>
<path d="M904.3 117.6L921.3 117.6" stroke-width="2.5"/>
<path d="M931.6 112.6L944.9 99.9" stroke-width="2.5"/>
<path d="M931.6 123.0L944.2 136.0" stroke-width="2.5"/>
<path d="M944.9 99.9L961.7 104.2" stroke-width="2.5"/>
<path d="M944.2 136.0L961.1 131.7" stroke-width="2.5"/>
<path d="M936.9 81.4L941.7 99.9" stroke-width="2.5"/>
<path d="M943.6 80.0L948.0 98.6" stroke-width="2.5"/>
<path d="M941.7 137.3L936.3 154.2" stroke-width="2.5"/>
<path d="M948.0 138.5L943.0 155.8" stroke-width="2.5"/>
<path d="M961.5 104.4L982.3 92.4L1003.5 104.9L1003.5 131.7L982.3 144.6L961.5 131.7Z" stroke-width="3.0"/>
<path d="M967.8 108.6L967.8 127.5" stroke-width="2.5"/>
<path d="M981.9 99.5L997.5 108.7" stroke-width="2.5"/>
<path d="M981.8 137.6L997.5 128.0" stroke-width="2.5"/>
<path d="M1003.5 131.7L1017.0 139.6" stroke-width="2.5"/>
<path d="M1029.3 139.6L1045.2 131.0" stroke-width="2.5"/>
<path d="M1045.2 130.8L1057.5 108.0L1082.2 108.0L1094.5 130.8L1082.2 153.5L1057.5 153.5Z" stroke-width="3.0"/>
<path d="M1060.9 115.2L1078.8 115.2" stroke-width="2.5"/>
<path d="M1052.6 130.8L1061.5 147.2" stroke-width="2.5"/>
<path d="M1087.1 130.8L1078.2 147.2" stroke-width="2.5"/>
<path d="M1094.5 130.7L1110.8 130.4" stroke-width="2.5"/>
<path d="M1121.6 130.4L1141.8 130.4" stroke-width="2.5"/>
<path d="M1116.6 110.4L1116.6 123.4" stroke-width="2.5"/>
<path d="M1116.6 137.4L1116.6 149.6" stroke-width="2.5"/>
<path d="M1141.8 130.4L1154.2 107.6L1179.2 107.6L1191.6 130.4L1179.2 153.2L1154.2 153.2Z" stroke-width="3.0"/>
<path d="M1157.7 114.8L1175.8 114.8" stroke-width="2.5"/>
<path d="M1149.2 130.4L1158.2 146.9" stroke-width="2.5"/>
<path d="M1184.2 130.4L1175.2 146.9" stroke-width="2.5"/>
<path d="M1191.6 130.4L1206.4 139.0" stroke-width="2.5"/>
<path d="M1218.8 139.0L1234.7 131.0" stroke-width="2.5"/>
<path d="M1234.7 131.0L1234.7 103.6L1255.9 90.7L1277.7 103.6L1277.7 130.6L1255.9 143.5Z" stroke-width="3.0"/>
<path d="M1240.7 107.3L1256.4 97.7" stroke-width="2.5"/>
<path d="M1271.4 107.8L1271.4 126.4" stroke-width="2.5"/>
<path d="M1240.7 127.2L1256.3 136.4" stroke-width="2.5"/>
<path d="M1277.7 103.6L1294.5 98.8" stroke-width="2.5"/>
<path d="M1277.7 130.6L1294.5 134.8" stroke-width="2.5"/>
<path d="M1294.5 98.8L1305.9 111.4" stroke-width="2.5"/>
<path d="M1294.5 134.8L1305.9 123.2" stroke-width="2.5"/>
<path d="M1292.0 98.6L1295.8 79.6" stroke-width="2.5"/>
<path d="M1298.9 99.3L1303.0 81.2" stroke-width="2.5"/>
<path d="M1292.0 136.0L1296.2 154.4" stroke-width="2.5"/>
<path d="M1299.5 134.8L1303.0 152.8" stroke-width="2.5"/>
<path d="M1317.8 117.3L1336.8 117.3" stroke-width="2.5"/>
</g>
<g transform="translate(-2.3 431.6)" fill="none" stroke="#000" stroke-linejoin="round" stroke-linecap="round">
<path d="M1336.8 117.0L1349.3 94.3L1374.2 94.3L1386.7 117.0L1374.2 139.8L1349.3 139.8Z" stroke-width="3.0"/>
<path d="M1352.7 101.5L1370.8 101.5" stroke-width="2.5"/>
<path d="M1344.2 117.1L1353.2 133.5" stroke-width="2.5"/>
<path d="M1379.3 117.1L1370.3 133.5" stroke-width="2.5"/>
<path d="M1436.5 117.0L1448.8 94.3L1473.5 94.3L1485.8 117.0L1473.5 139.8L1448.8 139.8Z" stroke-width="3.0"/>
<path d="M1452.4 101.9L1469.9 101.9" stroke-width="2.5"/>
<path d="M1452.4 132.4L1469.9 132.4" stroke-width="2.5"/>
<path d="M1535.6 117.0L1548.1 94.3L1573.0 94.3L1585.5 117.0L1573.0 139.8L1548.1 139.8Z" stroke-width="3.0"/>
<path d="M1551.5 101.5L1569.6 101.5" stroke-width="2.5"/>
<path d="M1543.0 117.1L1552.0 133.5" stroke-width="2.5"/>
<path d="M1578.1 117.1L1569.1 133.5" stroke-width="2.5"/>
<path d="M1637.2 116.4L1649.8 93.4L1675.1 93.4L1687.7 116.4L1675.1 139.5L1649.8 139.5Z" stroke-width="3.0"/>
<path d="M1653.4 101.0L1671.5 101.0" stroke-width="2.5"/>
<path d="M1653.4 132.1L1671.5 132.1" stroke-width="2.5"/>
<path d="M1738.0 116.3L1750.8 93.2L1776.3 93.2L1789.1 116.3L1776.3 139.4L1750.8 139.4Z" stroke-width="3.0"/>
<path d="M1754.2 100.4L1772.9 100.4" stroke-width="2.5"/>
<path d="M1745.4 116.3L1754.7 133.1" stroke-width="2.5"/>
<path d="M1781.7 116.3L1772.4 133.1" stroke-width="2.5"/>
<path d="M1386.7 117.0L1408.2 116.7" stroke-width="2.5"/>
<path d="M1420.4 112.7L1437.5 112.7" stroke-width="2.5"/>
<path d="M1420.4 120.5L1437.5 120.5" stroke-width="2.5"/>
<path d="M1484.8 112.7L1507.0 112.7" stroke-width="2.5"/>
<path d="M1484.8 120.5L1507.0 120.5" stroke-width="2.5"/>
<path d="M1519.2 116.7L1535.6 117.0" stroke-width="2.5"/>
<path d="M1585.5 117.0L1603.9 116.2" stroke-width="2.5"/>
<path d="M1616.1 112.2L1638.2 112.2" stroke-width="2.5"/>
<path d="M1616.1 120.0L1638.2 120.0" stroke-width="2.5"/>
<path d="M1686.7 111.6L1706.3 111.6" stroke-width="2.5"/>
<path d="M1686.7 119.4L1706.3 119.4" stroke-width="2.5"/>
<path d="M1718.5 115.6L1738.0 116.3" stroke-width="2.5"/>
<path d="M1789.1 116.2L1817.6 116.2" stroke-width="2.5"/>
<path d="M1801.2 68.3L1806.9 68.3L1806.9 164.0L1801.2 164.0" stroke-width="2.5"/>
</g>
<g fill="#000" stroke="none">
<rect x="1358.15" y="165.0" width="1.1" height="122.6" fill="#000"/>
<path d="M1359.2 161.6L1353.0 184.0L1358.2 180.6Z"/>
<rect x="1371.80" y="161.0" width="0.8" height="109.0" fill="#d0d0d0"/>
<path d="M1371.6 287.8L1378.3 265.2L1372.8 269.0Z"/>
<rect x="1357.60" y="395.0" width="0.8" height="109.6" fill="#d4d4d4"/>
<path d="M1358.5 377.4L1352.0 399.8L1357.4 396.2Z"/>
<rect x="1370.75" y="377.0" width="1.1" height="123.0" fill="#000"/>
<path d="M1370.8 503.2L1377.3 481.0L1372.0 484.8Z"/>
</g>
<text transform="matrix(0.5630 0 0 0.4920 168.14 54.04)" font-family="'Liberation Serif',serif" font-weight="bold" font-size="100">1.0</text>
<text transform="matrix(0.5630 0 0 0.4920 167.71 256.24)" font-family="'Liberation Serif',serif" font-weight="bold" font-size="100">0.8</text>
<text transform="matrix(0.5630 0 0 0.4920 167.70 456.64)" font-family="'Liberation Serif',serif" font-weight="bold" font-size="100">0.6</text>
<text transform="matrix(0.5630 0 0 0.4920 166.89 657.30)" font-family="'Liberation Serif',serif" font-weight="bold" font-size="100">0.4</text>
<text transform="matrix(0.5630 0 0 0.4920 168.28 859.84)" font-family="'Liberation Serif',serif" font-weight="bold" font-size="100">0.2</text>
<text transform="matrix(0.5630 0 0 0.4920 168.14 1060.54)" font-family="'Liberation Serif',serif" font-weight="bold" font-size="100">0.0</text>
<text transform="matrix(0.5780 0 0 0.4920 281.25 1120.54)" font-family="'Liberation Serif',serif" font-weight="bold" font-size="100">300</text>
<text transform="matrix(0.5780 0 0 0.4920 537.76 1120.54)" font-family="'Liberation Serif',serif" font-weight="bold" font-size="100">400</text>
<text transform="matrix(0.5780 0 0 0.4920 792.62 1120.54)" font-family="'Liberation Serif',serif" font-weight="bold" font-size="100">500</text>
<text transform="matrix(0.5780 0 0 0.4920 1048.63 1120.54)" font-family="'Liberation Serif',serif" font-weight="bold" font-size="100">600</text>
<text transform="matrix(0.5780 0 0 0.4920 1303.77 1120.54)" font-family="'Liberation Serif',serif" font-weight="bold" font-size="100">700</text>
<text transform="matrix(0.5780 0 0 0.4920 1560.07 1120.54)" font-family="'Liberation Serif',serif" font-weight="bold" font-size="100">800</text>
<text transform="matrix(0.5780 0 0 0.4920 1815.88 1120.54)" font-family="'Liberation Serif',serif" font-weight="bold" font-size="100">900</text>
<text transform="matrix(0.6370 0 0 0.5650 813.66 1213.16)" font-family="'Liberation Serif',serif" font-weight="bold" font-size="100" letter-spacing="3.5">Wavelength (nm)</text>
<text transform="matrix(0 -0.5968 0.5814 0 66.12 702.99)" font-family="'Liberation Serif',serif" font-weight="bold" font-size="100">Absorbance</text>
<text transform="matrix(0.5682 0 0 0.4897 386.57 232.32)" font-family="'Liberation Serif',serif" font-weight="bold" font-size="100">315 nm</text>
<text transform="matrix(0.5667 0 0 0.5045 979.53 675.20)" font-family="'Liberation Serif',serif" font-weight="bold" font-size="100">575 nm</text>
<text transform="matrix(0.4703 0 0 0.4191 406.06 280.58)" font-family="'Liberation Serif',serif" font-weight="bold" font-style="italic" font-size="100" stroke="#000" stroke-width="4.5" stroke-linejoin="round">π</text>
<text transform="matrix(0.3059 0 0 0.4000 435.11 281.00)" font-family="'Liberation Serif',serif" font-weight="normal" font-size="100">—</text>
<text transform="matrix(0.4685 0 0 0.4191 466.56 280.58)" font-family="'Liberation Serif',serif" font-weight="bold" font-style="italic" font-size="100" stroke="#000" stroke-width="4.5" stroke-linejoin="round">π</text>
<text transform="matrix(0.4982 0 0 0.3947 497.50 276.66)" font-family="'Liberation Serif',serif" font-weight="bold" font-size="100">*</text>
<text transform="matrix(0.5175 0 0 0.4787 994.30 723.50)" font-family="'Liberation Serif',serif" font-weight="bold" font-size="100">n</text>
<text transform="matrix(0.2931 0 0 0.4000 1023.89 722.90)" font-family="'Liberation Serif',serif" font-weight="normal" font-size="100">—</text>
<text transform="matrix(0.4811 0 0 0.4213 1054.05 722.58)" font-family="'Liberation Serif',serif" font-weight="bold" font-style="italic" font-size="100" stroke="#000" stroke-width="4.5" stroke-linejoin="round">π</text>
<text transform="matrix(0.5152 0 0 0.3921 1084.93 719.09)" font-family="'Liberation Serif',serif" font-weight="bold" font-size="100">*</text>
<text transform="matrix(0.3484 0 0 0.3554 1180.41 231.94)" font-family="'Liberation Sans',sans-serif" font-weight="bold" font-size="100">Reduction</text>
<text transform="matrix(0.3492 0 0 0.3554 1398.20 232.54)" font-family="'Liberation Sans',sans-serif" font-weight="bold" font-size="100">Oxidation</text>
<text transform="matrix(0.3488 0 0 0.3581 1179.11 447.74)" font-family="'Liberation Sans',sans-serif" font-weight="bold" font-size="100">Reduction</text>
<text transform="matrix(0.3483 0 0 0.3581 1397.51 448.34)" font-family="'Liberation Sans',sans-serif" font-weight="bold" font-size="100">Oxidation</text>
<text x="899.44" y="118.72" font-family="'Liberation Sans',sans-serif" font-weight="normal" font-size="8" stroke="#000" stroke-width="0.45">*</text>
<text x="920.91" y="122.40" font-family="'Liberation Sans',sans-serif" font-weight="normal" font-size="14.5" stroke="#000" stroke-width="0.45">N</text>
<text x="932.07" y="78.80" font-family="'Liberation Sans',sans-serif" font-weight="normal" font-size="14.5" stroke="#000" stroke-width="0.45">O</text>
<text x="931.27" y="167.00" font-family="'Liberation Sans',sans-serif" font-weight="normal" font-size="14.5" stroke="#000" stroke-width="0.45">O</text>
<text x="1017.57" y="148.80" font-family="'Liberation Sans',sans-serif" font-weight="normal" font-size="14.5" stroke="#000" stroke-width="0.45">O</text>
<text x="1206.97" y="147.90" font-family="'Liberation Sans',sans-serif" font-weight="normal" font-size="14.5" stroke="#000" stroke-width="0.45">O</text>
<text x="1111.10" y="135.50" font-family="'Liberation Sans',sans-serif" font-weight="normal" font-size="14.5" stroke="#000" stroke-width="0.45">C</text>
<text x="1111.71" y="108.66" font-family="'Liberation Sans',sans-serif" font-weight="normal" font-size="13.5" stroke="#000" stroke-width="0.45">CH</text>
<text x="1131.14" y="110.85" font-family="'Liberation Sans',sans-serif" font-weight="normal" font-size="10" stroke="#000" stroke-width="0.45">3</text>
<text x="1111.71" y="161.06" font-family="'Liberation Sans',sans-serif" font-weight="normal" font-size="13.5" stroke="#000" stroke-width="0.45">CH</text>
<text x="1131.14" y="163.25" font-family="'Liberation Sans',sans-serif" font-weight="normal" font-size="10" stroke="#000" stroke-width="0.45">3</text>
<text x="1295.07" y="77.80" font-family="'Liberation Sans',sans-serif" font-weight="normal" font-size="14.5" stroke="#000" stroke-width="0.45">O</text>
<text x="1294.87" y="165.80" font-family="'Liberation Sans',sans-serif" font-weight="normal" font-size="14.5" stroke="#000" stroke-width="0.45">O</text>
<text x="1306.71" y="122.30" font-family="'Liberation Sans',sans-serif" font-weight="normal" font-size="14.5" stroke="#000" stroke-width="0.45">N</text>
<text x="1408.69" y="122.03" font-family="'Liberation Sans',sans-serif" font-weight="normal" font-size="14" stroke="#000" stroke-width="0.45">N</text>
<text x="1408.87" y="109.36" font-family="'Liberation Sans',sans-serif" font-weight="normal" font-size="13.5" stroke="#000" stroke-width="0.45">H</text>
<text x="1508.49" y="122.03" font-family="'Liberation Sans',sans-serif" font-weight="normal" font-size="14" stroke="#000" stroke-width="0.45">N</text>
<text x="1508.67" y="109.36" font-family="'Liberation Sans',sans-serif" font-weight="normal" font-size="13.5" stroke="#000" stroke-width="0.45">H</text>
<text x="1604.39" y="121.53" font-family="'Liberation Sans',sans-serif" font-weight="normal" font-size="14" stroke="#000" stroke-width="0.45">N</text>
<text x="1604.57" y="108.86" font-family="'Liberation Sans',sans-serif" font-weight="normal" font-size="13.5" stroke="#000" stroke-width="0.45">H</text>
<text x="1707.79" y="120.93" font-family="'Liberation Sans',sans-serif" font-weight="normal" font-size="14" stroke="#000" stroke-width="0.45">N</text>
<text x="1707.97" y="108.26" font-family="'Liberation Sans',sans-serif" font-weight="normal" font-size="13.5" stroke="#000" stroke-width="0.45">H</text>
<text x="1814.30" y="164.53" font-family="'Liberation Sans',sans-serif" font-weight="normal" font-size="17.5" stroke="#000" stroke-width="0.45">n</text>
<text x="899.44" y="332.22" font-family="'Liberation Sans',sans-serif" font-weight="normal" font-size="8" stroke="#000" stroke-width="0.45">*</text>
<text x="920.91" y="335.90" font-family="'Liberation Sans',sans-serif" font-weight="normal" font-size="14.5" stroke="#000" stroke-width="0.45">N</text>
<text x="932.07" y="292.30" font-family="'Liberation Sans',sans-serif" font-weight="normal" font-size="14.5" stroke="#000" stroke-width="0.45">O</text>
<text x="931.27" y="380.50" font-family="'Liberation Sans',sans-serif" font-weight="normal" font-size="14.5" stroke="#000" stroke-width="0.45">O</text>
<text x="1017.57" y="362.30" font-family="'Liberation Sans',sans-serif" font-weight="normal" font-size="14.5" stroke="#000" stroke-width="0.45">O</text>
<text x="1206.97" y="361.40" font-family="'Liberation Sans',sans-serif" font-weight="normal" font-size="14.5" stroke="#000" stroke-width="0.45">O</text>
<text x="1111.10" y="349.00" font-family="'Liberation Sans',sans-serif" font-weight="normal" font-size="14.5" stroke="#000" stroke-width="0.45">C</text>
<text x="1111.71" y="322.16" font-family="'Liberation Sans',sans-serif" font-weight="normal" font-size="13.5" stroke="#000" stroke-width="0.45">CH</text>
<text x="1131.14" y="324.35" font-family="'Liberation Sans',sans-serif" font-weight="normal" font-size="10" stroke="#000" stroke-width="0.45">3</text>
<text x="1111.71" y="374.56" font-family="'Liberation Sans',sans-serif" font-weight="normal" font-size="13.5" stroke="#000" stroke-width="0.45">CH</text>
<text x="1131.14" y="376.75" font-family="'Liberation Sans',sans-serif" font-weight="normal" font-size="10" stroke="#000" stroke-width="0.45">3</text>
<text x="1295.07" y="291.30" font-family="'Liberation Sans',sans-serif" font-weight="normal" font-size="14.5" stroke="#000" stroke-width="0.45">O</text>
<text x="1294.87" y="379.30" font-family="'Liberation Sans',sans-serif" font-weight="normal" font-size="14.5" stroke="#000" stroke-width="0.45">O</text>
<text x="1306.71" y="335.80" font-family="'Liberation Sans',sans-serif" font-weight="normal" font-size="14.5" stroke="#000" stroke-width="0.45">N</text>
<text x="1408.69" y="335.53" font-family="'Liberation Sans',sans-serif" font-weight="normal" font-size="14" stroke="#000" stroke-width="0.45">N</text>
<text x="1508.49" y="335.53" font-family="'Liberation Sans',sans-serif" font-weight="normal" font-size="14" stroke="#000" stroke-width="0.45">N</text>
<text x="1604.39" y="335.03" font-family="'Liberation Sans',sans-serif" font-weight="normal" font-size="14" stroke="#000" stroke-width="0.45">N</text>
<text x="1604.57" y="322.36" font-family="'Liberation Sans',sans-serif" font-weight="normal" font-size="13.5" stroke="#000" stroke-width="0.45">H</text>
<text x="1707.79" y="334.43" font-family="'Liberation Sans',sans-serif" font-weight="normal" font-size="14" stroke="#000" stroke-width="0.45">N</text>
<text x="1707.97" y="321.76" font-family="'Liberation Sans',sans-serif" font-weight="normal" font-size="13.5" stroke="#000" stroke-width="0.45">H</text>
<text x="1814.30" y="378.03" font-family="'Liberation Sans',sans-serif" font-weight="normal" font-size="17.5" stroke="#000" stroke-width="0.45">n</text>
<text x="897.14" y="550.32" font-family="'Liberation Sans',sans-serif" font-weight="normal" font-size="8" stroke="#000" stroke-width="0.45">*</text>
<text x="918.61" y="554.00" font-family="'Liberation Sans',sans-serif" font-weight="normal" font-size="14.5" stroke="#000" stroke-width="0.45">N</text>
<text x="929.77" y="510.40" font-family="'Liberation Sans',sans-serif" font-weight="normal" font-size="14.5" stroke="#000" stroke-width="0.45">O</text>
<text x="928.97" y="598.60" font-family="'Liberation Sans',sans-serif" font-weight="normal" font-size="14.5" stroke="#000" stroke-width="0.45">O</text>
<text x="1015.27" y="580.40" font-family="'Liberation Sans',sans-serif" font-weight="normal" font-size="14.5" stroke="#000" stroke-width="0.45">O</text>
<text x="1204.67" y="579.50" font-family="'Liberation Sans',sans-serif" font-weight="normal" font-size="14.5" stroke="#000" stroke-width="0.45">O</text>
<text x="1108.80" y="567.10" font-family="'Liberation Sans',sans-serif" font-weight="normal" font-size="14.5" stroke="#000" stroke-width="0.45">C</text>
<text x="1109.41" y="540.26" font-family="'Liberation Sans',sans-serif" font-weight="normal" font-size="13.5" stroke="#000" stroke-width="0.45">CH</text>
<text x="1128.84" y="542.45" font-family="'Liberation Sans',sans-serif" font-weight="normal" font-size="10" stroke="#000" stroke-width="0.45">3</text>
<text x="1109.41" y="592.66" font-family="'Liberation Sans',sans-serif" font-weight="normal" font-size="13.5" stroke="#000" stroke-width="0.45">CH</text>
<text x="1128.84" y="594.85" font-family="'Liberation Sans',sans-serif" font-weight="normal" font-size="10" stroke="#000" stroke-width="0.45">3</text>
<text x="1292.77" y="509.40" font-family="'Liberation Sans',sans-serif" font-weight="normal" font-size="14.5" stroke="#000" stroke-width="0.45">O</text>
<text x="1292.57" y="597.40" font-family="'Liberation Sans',sans-serif" font-weight="normal" font-size="14.5" stroke="#000" stroke-width="0.45">O</text>
<text x="1304.41" y="553.90" font-family="'Liberation Sans',sans-serif" font-weight="normal" font-size="14.5" stroke="#000" stroke-width="0.45">N</text>
<text x="1406.39" y="553.63" font-family="'Liberation Sans',sans-serif" font-weight="normal" font-size="14" stroke="#000" stroke-width="0.45">N</text>
<text x="1506.19" y="553.63" font-family="'Liberation Sans',sans-serif" font-weight="normal" font-size="14" stroke="#000" stroke-width="0.45">N</text>
<text x="1602.09" y="553.13" font-family="'Liberation Sans',sans-serif" font-weight="normal" font-size="14" stroke="#000" stroke-width="0.45">N</text>
<text x="1705.49" y="552.53" font-family="'Liberation Sans',sans-serif" font-weight="normal" font-size="14" stroke="#000" stroke-width="0.45">N</text>
<text x="1812.00" y="596.13" font-family="'Liberation Sans',sans-serif" font-weight="normal" font-size="17.5" stroke="#000" stroke-width="0.45">n</text>
</svg>
</body></html>
